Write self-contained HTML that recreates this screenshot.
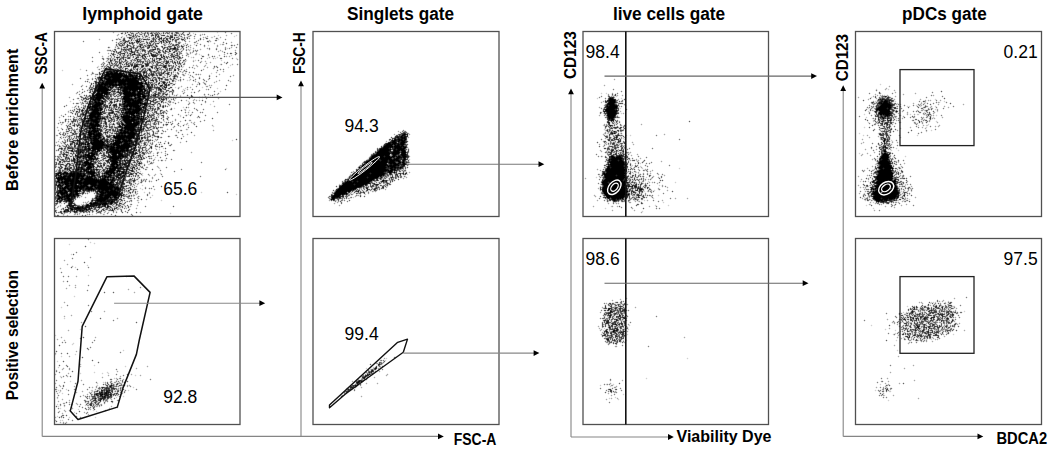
<!DOCTYPE html><html><head><meta charset="utf-8"><style>html,body{margin:0;padding:0;background:#fff;width:1050px;height:449px;overflow:hidden}text{font-family:"Liberation Sans",sans-serif}</style></head><body><svg width="1050" height="449" viewBox="0 0 1050 449" style="display:block">
<rect width="1050" height="449" fill="#fff"/>
<defs><filter id="sb" x="0" y="0" width="1050" height="449" filterUnits="userSpaceOnUse"><feConvolveMatrix order="3" kernelMatrix="0 1 0 1 6 1 0 1 0" divisor="10" edgeMode="none"/></filter></defs><g filter="url(#sb)" shape-rendering="crispEdges"><path d="M122 32h1v1h-1zM132 32h1v1h-1zM148 32h1v1h-1zM152 32h1v1h-1zM155 32h1v1h-1zM171 32h1v1h-1zM178 32h1v1h-1zM217 32h1v1h-1zM143 33h1v1h-1zM156 33h1v1h-1zM169 33h1v1h-1zM174 33h1v1h-1zM180 33h1v1h-1zM193 33h1v1h-1zM124 34h1v1h-1zM131 34h1v1h-1zM139 34h1v1h-1zM169 34h1v1h-1zM176 34h1v1h-1zM184 34h1v1h-1zM200 34h1v1h-1zM142 35h1v1h-1zM177 35h1v1h-1zM187 35h1v1h-1zM191 35h1v1h-1zM218 35h1v1h-1zM236 35h1v1h-1zM122 36h1v1h-1zM126 36h1v1h-1zM234 36h1v1h-1zM124 37h1v1h-1zM148 37h1v1h-1zM178 37h1v1h-1zM186 37h1v1h-1zM211 37h2v1h-2zM151 38h1v1h-1zM168 38h1v1h-1zM132 39h1v1h-1zM134 39h1v1h-1zM136 39h1v1h-1zM218 39h1v1h-1zM146 40h1v1h-1zM148 40h1v1h-1zM174 40h1v1h-1zM124 41h1v1h-1zM130 41h1v1h-1zM172 41h1v1h-1zM179 41h1v1h-1zM175 42h1v1h-1zM208 42h1v1h-1zM126 43h1v1h-1zM141 43h3v1h-3zM164 43h1v1h-1zM133 44h1v1h-1zM166 44h1v1h-1zM194 44h1v1h-1zM220 44h1v1h-1zM124 45h1v1h-1zM126 45h1v1h-1zM136 45h1v1h-1zM138 45h2v1h-2zM169 45h1v1h-1zM208 45h1v1h-1zM115 46h1v1h-1zM120 46h1v1h-1zM147 46h1v1h-1zM121 47h1v1h-1zM144 47h1v1h-1zM151 47h1v1h-1zM179 47h1v1h-1zM128 48h1v1h-1zM134 48h1v1h-1zM143 48h1v1h-1zM152 48h1v1h-1zM159 48h1v1h-1zM227 48h1v1h-1zM136 49h1v1h-1zM141 49h1v1h-1zM171 49h1v1h-1zM190 49h1v1h-1zM139 50h1v1h-1zM141 50h1v1h-1zM147 50h1v1h-1zM119 51h1v1h-1zM122 51h1v1h-1zM133 51h1v1h-1zM147 51h1v1h-1zM117 52h1v1h-1zM126 52h1v1h-1zM140 52h1v1h-1zM149 52h1v1h-1zM167 52h1v1h-1zM186 52h1v1h-1zM140 53h1v1h-1zM170 53h1v1h-1zM186 53h1v1h-1zM122 54h1v1h-1zM126 54h1v1h-1zM136 54h1v1h-1zM159 54h1v1h-1zM176 54h1v1h-1zM196 54h1v1h-1zM199 54h1v1h-1zM122 55h1v1h-1zM125 55h1v1h-1zM129 55h1v1h-1zM135 55h1v1h-1zM165 55h1v1h-1zM201 55h1v1h-1zM231 55h1v1h-1zM124 56h1v1h-1zM135 56h1v1h-1zM159 56h1v1h-1zM127 57h1v1h-1zM130 57h1v1h-1zM132 57h1v1h-1zM165 57h1v1h-1zM170 57h1v1h-1zM191 57h1v1h-1zM217 57h1v1h-1zM106 58h1v1h-1zM109 58h1v1h-1zM112 58h1v1h-1zM130 58h1v1h-1zM207 58h1v1h-1zM215 58h1v1h-1zM236 58h1v1h-1zM121 59h1v1h-1zM163 59h1v1h-1zM176 59h1v1h-1zM179 59h1v1h-1zM115 60h1v1h-1zM144 60h1v1h-1zM157 60h2v1h-2zM175 60h1v1h-1zM186 60h1v1h-1zM193 60h1v1h-1zM195 60h1v1h-1zM221 60h1v1h-1zM108 61h1v1h-1zM113 61h1v1h-1zM118 61h1v1h-1zM128 61h1v1h-1zM134 61h1v1h-1zM136 61h1v1h-1zM148 61h1v1h-1zM150 61h1v1h-1zM162 61h1v1h-1zM129 62h1v1h-1zM131 62h1v1h-1zM137 62h1v1h-1zM164 62h1v1h-1zM170 62h1v1h-1zM184 62h1v1h-1zM131 63h1v1h-1zM140 63h1v1h-1zM181 63h1v1h-1zM110 64h1v1h-1zM220 64h1v1h-1zM123 65h1v1h-1zM139 65h1v1h-1zM179 65h1v1h-1zM230 65h1v1h-1zM98 66h1v1h-1zM116 66h1v1h-1zM119 66h1v1h-1zM123 66h1v1h-1zM149 66h1v1h-1zM158 66h1v1h-1zM171 66h1v1h-1zM183 66h1v1h-1zM138 67h2v1h-2zM144 67h1v1h-1zM158 67h1v1h-1zM173 67h1v1h-1zM182 67h1v1h-1zM228 67h1v1h-1zM104 68h1v1h-1zM112 68h1v1h-1zM115 68h1v1h-1zM138 68h1v1h-1zM148 68h1v1h-1zM150 68h1v1h-1zM80 69h1v1h-1zM98 69h1v1h-1zM123 69h1v1h-1zM140 69h1v1h-1zM146 69h1v1h-1zM161 69h1v1h-1zM165 69h1v1h-1zM170 69h1v1h-1zM62 70h1v1h-1zM135 70h1v1h-1zM168 70h1v1h-1zM104 71h2v1h-2zM127 71h1v1h-1zM142 71h1v1h-1zM159 71h1v1h-1zM179 71h1v1h-1zM103 72h1v1h-1zM136 72h1v1h-1zM175 72h1v1h-1zM125 73h1v1h-1zM132 73h1v1h-1zM135 73h2v1h-2zM141 73h1v1h-1zM157 73h1v1h-1zM160 73h1v1h-1zM211 73h1v1h-1zM138 74h1v1h-1zM158 74h1v1h-1zM162 74h1v1h-1zM188 74h1v1h-1zM195 74h1v1h-1zM99 75h1v1h-1zM150 75h1v1h-1zM155 75h1v1h-1zM164 75h2v1h-2zM143 76h1v1h-1zM162 76h1v1h-1zM172 76h1v1h-1zM162 77h1v1h-1zM166 77h1v1h-1zM173 77h1v1h-1zM169 78h1v1h-1zM103 79h1v1h-1zM148 79h1v1h-1zM175 79h1v1h-1zM157 80h1v1h-1zM161 80h1v1h-1zM168 80h1v1h-1zM174 80h1v1h-1zM187 80h1v1h-1zM189 80h1v1h-1zM145 81h1v1h-1zM180 81h1v1h-1zM154 82h1v1h-1zM153 83h1v1h-1zM175 83h1v1h-1zM205 83h1v1h-1zM143 84h1v1h-1zM880 84h1v1h-1zM146 85h1v1h-1zM145 86h1v1h-1zM155 86h1v1h-1zM161 87h1v1h-1zM175 87h1v1h-1zM178 87h2v1h-2zM202 87h1v1h-1zM92 88h1v1h-1zM109 88h1v1h-1zM114 88h1v1h-1zM152 88h1v1h-1zM185 88h1v1h-1zM217 88h1v1h-1zM88 89h1v1h-1zM149 89h1v1h-1zM183 89h1v1h-1zM876 89h1v1h-1zM888 89h1v1h-1zM115 90h1v1h-1zM148 90h1v1h-1zM162 90h1v1h-1zM220 91h1v1h-1zM112 92h1v1h-1zM152 92h1v1h-1zM160 92h1v1h-1zM164 92h1v1h-1zM173 92h1v1h-1zM81 93h1v1h-1zM152 93h1v1h-1zM157 93h1v1h-1zM601 93h1v1h-1zM606 93h1v1h-1zM122 94h1v1h-1zM159 94h2v1h-2zM169 94h1v1h-1zM177 94h1v1h-1zM91 95h1v1h-1zM161 95h1v1h-1zM169 95h1v1h-1zM180 95h1v1h-1zM204 95h1v1h-1zM884 95h1v1h-1zM87 96h1v1h-1zM119 96h1v1h-1zM148 96h1v1h-1zM165 96h1v1h-1zM616 96h1v1h-1zM83 97h1v1h-1zM111 97h1v1h-1zM117 97h1v1h-1zM133 97h1v1h-1zM146 97h1v1h-1zM154 97h1v1h-1zM871 97h1v1h-1zM880 97h2v1h-2zM883 97h2v1h-2zM110 98h1v1h-1zM597 98h1v1h-1zM621 98h1v1h-1zM889 98h1v1h-1zM84 99h1v1h-1zM120 99h1v1h-1zM151 99h1v1h-1zM935 99h1v1h-1zM79 100h1v1h-1zM147 100h1v1h-1zM70 101h1v1h-1zM87 101h2v1h-2zM106 101h1v1h-1zM144 101h1v1h-1zM169 101h1v1h-1zM188 101h1v1h-1zM875 101h1v1h-1zM878 101h1v1h-1zM895 101h1v1h-1zM925 101h1v1h-1zM944 101h1v1h-1zM85 102h1v1h-1zM166 102h1v1h-1zM172 102h1v1h-1zM189 102h1v1h-1zM921 102h1v1h-1zM925 102h1v1h-1zM939 102h1v1h-1zM81 103h1v1h-1zM85 103h1v1h-1zM121 103h1v1h-1zM163 103h1v1h-1zM616 103h1v1h-1zM871 103h1v1h-1zM876 103h1v1h-1zM897 103h1v1h-1zM108 104h1v1h-1zM149 104h1v1h-1zM170 104h1v1h-1zM210 104h1v1h-1zM874 104h1v1h-1zM76 105h1v1h-1zM150 105h1v1h-1zM162 105h1v1h-1zM916 105h1v1h-1zM83 106h1v1h-1zM111 106h1v1h-1zM141 106h1v1h-1zM147 106h1v1h-1zM157 106h1v1h-1zM896 106h1v1h-1zM907 106h1v1h-1zM909 106h1v1h-1zM920 106h1v1h-1zM935 106h1v1h-1zM72 107h1v1h-1zM84 107h1v1h-1zM128 107h1v1h-1zM152 107h2v1h-2zM183 107h1v1h-1zM618 107h1v1h-1zM873 107h1v1h-1zM113 108h2v1h-2zM174 108h1v1h-1zM603 108h1v1h-1zM620 108h1v1h-1zM868 108h1v1h-1zM892 108h1v1h-1zM118 109h1v1h-1zM148 109h1v1h-1zM153 109h1v1h-1zM159 109h1v1h-1zM184 109h2v1h-2zM935 109h1v1h-1zM87 110h1v1h-1zM117 110h2v1h-2zM189 110h1v1h-1zM873 110h1v1h-1zM891 110h1v1h-1zM924 110h1v1h-1zM90 111h1v1h-1zM124 111h1v1h-1zM150 111h2v1h-2zM868 111h1v1h-1zM878 111h1v1h-1zM937 111h1v1h-1zM68 112h1v1h-1zM85 112h1v1h-1zM107 112h1v1h-1zM146 112h1v1h-1zM164 112h1v1h-1zM895 112h1v1h-1zM924 112h1v1h-1zM80 113h1v1h-1zM118 113h2v1h-2zM150 113h1v1h-1zM159 113h1v1h-1zM603 113h1v1h-1zM621 113h1v1h-1zM907 113h1v1h-1zM88 114h1v1h-1zM106 114h2v1h-2zM119 114h1v1h-1zM135 114h1v1h-1zM160 114h1v1h-1zM188 114h1v1h-1zM864 114h1v1h-1zM874 114h1v1h-1zM910 114h1v1h-1zM917 114h2v1h-2zM923 114h1v1h-1zM926 114h1v1h-1zM79 115h1v1h-1zM81 115h1v1h-1zM86 115h1v1h-1zM103 115h1v1h-1zM111 115h1v1h-1zM118 115h1v1h-1zM140 115h1v1h-1zM143 115h1v1h-1zM159 115h1v1h-1zM180 115h1v1h-1zM185 115h1v1h-1zM617 115h1v1h-1zM879 115h1v1h-1zM894 115h1v1h-1zM936 115h1v1h-1zM103 116h1v1h-1zM144 116h1v1h-1zM153 116h1v1h-1zM180 116h1v1h-1zM606 116h1v1h-1zM616 116h1v1h-1zM879 116h1v1h-1zM929 116h1v1h-1zM80 117h1v1h-1zM105 117h1v1h-1zM108 117h1v1h-1zM114 117h1v1h-1zM120 117h1v1h-1zM144 117h1v1h-1zM154 117h1v1h-1zM162 117h1v1h-1zM866 117h1v1h-1zM886 117h1v1h-1zM892 117h1v1h-1zM914 117h1v1h-1zM927 117h1v1h-1zM933 117h1v1h-1zM77 118h1v1h-1zM108 118h2v1h-2zM114 118h1v1h-1zM149 118h1v1h-1zM872 118h1v1h-1zM896 118h1v1h-1zM121 119h1v1h-1zM148 119h1v1h-1zM884 119h1v1h-1zM922 119h1v1h-1zM59 120h1v1h-1zM71 120h1v1h-1zM76 120h1v1h-1zM80 120h1v1h-1zM102 120h1v1h-1zM104 120h1v1h-1zM152 120h1v1h-1zM168 120h1v1h-1zM873 120h1v1h-1zM102 121h1v1h-1zM122 121h1v1h-1zM156 121h1v1h-1zM164 121h1v1h-1zM873 121h1v1h-1zM884 121h1v1h-1zM936 121h1v1h-1zM68 122h1v1h-1zM73 122h1v1h-1zM81 122h1v1h-1zM100 122h1v1h-1zM116 122h1v1h-1zM868 122h1v1h-1zM883 122h2v1h-2zM915 122h1v1h-1zM62 123h1v1h-1zM67 123h1v1h-1zM77 123h1v1h-1zM79 123h2v1h-2zM99 123h1v1h-1zM111 123h1v1h-1zM124 123h1v1h-1zM152 123h1v1h-1zM615 123h1v1h-1zM914 123h1v1h-1zM75 124h1v1h-1zM103 124h1v1h-1zM108 124h1v1h-1zM111 124h1v1h-1zM156 124h1v1h-1zM184 124h1v1h-1zM890 124h1v1h-1zM928 124h1v1h-1zM82 125h1v1h-1zM112 125h1v1h-1zM114 125h1v1h-1zM155 125h1v1h-1zM188 125h1v1h-1zM603 125h1v1h-1zM890 125h1v1h-1zM918 125h1v1h-1zM926 125h2v1h-2zM81 126h1v1h-1zM110 126h1v1h-1zM123 126h1v1h-1zM137 126h1v1h-1zM150 126h1v1h-1zM213 126h1v1h-1zM888 126h1v1h-1zM83 127h1v1h-1zM104 127h1v1h-1zM144 127h1v1h-1zM864 127h1v1h-1zM926 127h1v1h-1zM67 128h1v1h-1zM72 128h1v1h-1zM112 128h2v1h-2zM136 128h1v1h-1zM149 128h1v1h-1zM152 128h1v1h-1zM81 129h1v1h-1zM88 129h1v1h-1zM104 129h1v1h-1zM187 129h1v1h-1zM604 129h1v1h-1zM608 129h1v1h-1zM610 129h1v1h-1zM621 129h1v1h-1zM884 129h1v1h-1zM888 129h1v1h-1zM66 130h1v1h-1zM75 130h1v1h-1zM85 130h1v1h-1zM108 130h1v1h-1zM605 130h1v1h-1zM882 130h1v1h-1zM931 130h1v1h-1zM71 131h1v1h-1zM77 131h1v1h-1zM83 131h1v1h-1zM110 131h1v1h-1zM112 131h1v1h-1zM143 131h1v1h-1zM156 131h1v1h-1zM176 131h1v1h-1zM926 131h1v1h-1zM64 132h1v1h-1zM66 132h1v1h-1zM78 132h1v1h-1zM114 132h1v1h-1zM146 132h1v1h-1zM149 132h1v1h-1zM155 132h1v1h-1zM157 132h1v1h-1zM613 132h1v1h-1zM882 132h1v1h-1zM884 132h1v1h-1zM68 133h1v1h-1zM604 133h1v1h-1zM607 133h2v1h-2zM620 133h1v1h-1zM859 133h1v1h-1zM878 133h1v1h-1zM106 134h1v1h-1zM146 134h1v1h-1zM889 134h1v1h-1zM70 135h1v1h-1zM81 135h2v1h-2zM103 135h1v1h-1zM108 135h1v1h-1zM606 135h2v1h-2zM626 135h1v1h-1zM630 135h1v1h-1zM863 135h1v1h-1zM885 135h1v1h-1zM917 135h1v1h-1zM61 136h1v1h-1zM70 136h1v1h-1zM145 136h1v1h-1zM620 136h1v1h-1zM889 136h1v1h-1zM67 137h1v1h-1zM77 137h1v1h-1zM110 137h1v1h-1zM146 137h1v1h-1zM611 137h1v1h-1zM887 137h1v1h-1zM79 138h1v1h-1zM623 138h1v1h-1zM880 138h1v1h-1zM888 138h1v1h-1zM59 139h1v1h-1zM114 139h1v1h-1zM132 139h1v1h-1zM146 139h1v1h-1zM610 139h1v1h-1zM624 139h1v1h-1zM880 139h1v1h-1zM64 140h1v1h-1zM87 140h1v1h-1zM103 140h1v1h-1zM133 140h1v1h-1zM232 140h1v1h-1zM882 140h1v1h-1zM886 140h1v1h-1zM891 140h1v1h-1zM82 141h1v1h-1zM84 141h1v1h-1zM89 141h1v1h-1zM138 141h1v1h-1zM144 141h1v1h-1zM149 141h1v1h-1zM892 141h1v1h-1zM60 142h1v1h-1zM70 142h2v1h-2zM78 142h1v1h-1zM112 142h1v1h-1zM141 142h1v1h-1zM150 142h1v1h-1zM615 142h1v1h-1zM147 143h1v1h-1zM611 143h1v1h-1zM616 143h1v1h-1zM618 143h1v1h-1zM888 143h1v1h-1zM58 144h1v1h-1zM79 144h1v1h-1zM90 144h1v1h-1zM161 144h1v1h-1zM604 144h1v1h-1zM879 144h1v1h-1zM887 144h1v1h-1zM63 145h1v1h-1zM71 145h1v1h-1zM84 145h1v1h-1zM86 145h1v1h-1zM91 145h1v1h-1zM140 145h1v1h-1zM609 145h1v1h-1zM886 145h1v1h-1zM72 146h1v1h-1zM159 146h1v1h-1zM608 146h1v1h-1zM613 146h1v1h-1zM888 146h1v1h-1zM73 147h1v1h-1zM76 147h1v1h-1zM79 147h1v1h-1zM132 147h1v1h-1zM607 147h1v1h-1zM881 147h1v1h-1zM888 147h1v1h-1zM74 148h1v1h-1zM79 148h1v1h-1zM83 148h1v1h-1zM145 148h1v1h-1zM155 148h1v1h-1zM163 148h1v1h-1zM408 148h1v1h-1zM611 148h2v1h-2zM884 148h1v1h-1zM896 148h1v1h-1zM65 149h1v1h-1zM105 149h1v1h-1zM159 149h1v1h-1zM625 149h1v1h-1zM882 149h1v1h-1zM57 150h1v1h-1zM65 150h2v1h-2zM144 150h2v1h-2zM891 150h1v1h-1zM898 150h1v1h-1zM68 151h1v1h-1zM70 151h1v1h-1zM90 151h1v1h-1zM376 151h1v1h-1zM609 151h1v1h-1zM617 151h1v1h-1zM98 152h1v1h-1zM102 152h1v1h-1zM144 152h1v1h-1zM607 152h1v1h-1zM612 152h1v1h-1zM619 152h1v1h-1zM622 152h1v1h-1zM883 152h1v1h-1zM60 153h1v1h-1zM81 153h1v1h-1zM84 153h1v1h-1zM141 153h1v1h-1zM149 153h2v1h-2zM153 153h1v1h-1zM627 153h1v1h-1zM629 153h1v1h-1zM859 153h1v1h-1zM68 154h1v1h-1zM82 154h1v1h-1zM99 154h1v1h-1zM130 154h1v1h-1zM59 155h2v1h-2zM95 155h1v1h-1zM134 155h1v1h-1zM136 155h1v1h-1zM141 155h1v1h-1zM143 155h1v1h-1zM390 155h2v1h-2zM614 155h1v1h-1zM59 156h1v1h-1zM65 156h1v1h-1zM68 156h1v1h-1zM74 156h1v1h-1zM102 156h1v1h-1zM145 156h1v1h-1zM150 156h1v1h-1zM602 156h1v1h-1zM893 156h1v1h-1zM905 156h1v1h-1zM59 157h1v1h-1zM103 157h1v1h-1zM128 157h1v1h-1zM155 157h1v1h-1zM879 157h1v1h-1zM71 158h1v1h-1zM106 158h1v1h-1zM129 158h1v1h-1zM150 158h1v1h-1zM608 158h1v1h-1zM877 158h1v1h-1zM889 158h1v1h-1zM66 159h1v1h-1zM80 159h1v1h-1zM82 159h1v1h-1zM84 159h1v1h-1zM367 159h1v1h-1zM409 159h1v1h-1zM893 159h1v1h-1zM70 160h1v1h-1zM95 160h1v1h-1zM140 160h1v1h-1zM147 160h1v1h-1zM628 160h1v1h-1zM636 160h1v1h-1zM83 161h1v1h-1zM89 161h1v1h-1zM102 161h1v1h-1zM123 161h1v1h-1zM136 161h1v1h-1zM407 161h1v1h-1zM607 161h1v1h-1zM876 161h1v1h-1zM896 161h1v1h-1zM103 162h1v1h-1zM132 162h1v1h-1zM898 162h1v1h-1zM60 163h1v1h-1zM65 163h1v1h-1zM73 163h1v1h-1zM81 163h1v1h-1zM118 163h1v1h-1zM142 163h1v1h-1zM640 163h1v1h-1zM876 163h1v1h-1zM106 164h1v1h-1zM128 164h1v1h-1zM141 164h1v1h-1zM148 164h2v1h-2zM875 164h2v1h-2zM892 164h1v1h-1zM63 165h1v1h-1zM67 165h1v1h-1zM77 165h1v1h-1zM106 165h1v1h-1zM130 165h1v1h-1zM632 165h1v1h-1zM878 165h1v1h-1zM58 166h1v1h-1zM132 166h1v1h-1zM360 166h1v1h-1zM405 166h1v1h-1zM631 166h1v1h-1zM640 166h1v1h-1zM66 167h1v1h-1zM68 167h1v1h-1zM100 167h1v1h-1zM108 167h1v1h-1zM129 167h1v1h-1zM139 167h1v1h-1zM605 167h1v1h-1zM92 168h1v1h-1zM139 168h1v1h-1zM159 168h1v1h-1zM226 168h1v1h-1zM358 168h1v1h-1zM627 168h1v1h-1zM642 168h1v1h-1zM679 168h1v1h-1zM62 169h1v1h-1zM71 169h1v1h-1zM101 169h1v1h-1zM401 169h1v1h-1zM405 169h1v1h-1zM878 169h1v1h-1zM64 170h3v1h-3zM125 170h1v1h-1zM401 170h1v1h-1zM876 170h1v1h-1zM899 170h1v1h-1zM63 171h1v1h-1zM97 171h1v1h-1zM115 171h1v1h-1zM140 171h1v1h-1zM397 171h1v1h-1zM404 171h2v1h-2zM629 171h1v1h-1zM127 172h1v1h-1zM352 172h1v1h-1zM635 172h2v1h-2zM901 172h1v1h-1zM142 173h1v1h-1zM160 173h1v1h-1zM395 173h1v1h-1zM633 173h1v1h-1zM638 173h1v1h-1zM86 174h1v1h-1zM95 174h1v1h-1zM103 174h1v1h-1zM112 174h1v1h-1zM350 174h1v1h-1zM388 174h1v1h-1zM407 174h1v1h-1zM639 174h1v1h-1zM62 175h1v1h-1zM125 175h1v1h-1zM142 175h1v1h-1zM386 175h1v1h-1zM399 175h1v1h-1zM902 175h1v1h-1zM57 176h1v1h-1zM96 176h1v1h-1zM137 176h1v1h-1zM384 176h1v1h-1zM387 176h1v1h-1zM390 176h1v1h-1zM396 176h1v1h-1zM405 176h1v1h-1zM601 176h1v1h-1zM97 177h1v1h-1zM137 177h1v1h-1zM348 177h1v1h-1zM379 177h1v1h-1zM387 177h1v1h-1zM394 177h1v1h-1zM596 177h1v1h-1zM643 177h1v1h-1zM646 177h1v1h-1zM893 177h1v1h-1zM109 178h1v1h-1zM347 178h1v1h-1zM382 178h2v1h-2zM388 178h1v1h-1zM628 178h1v1h-1zM143 179h1v1h-1zM629 179h1v1h-1zM640 179h1v1h-1zM893 179h1v1h-1zM56 180h1v1h-1zM116 180h1v1h-1zM127 180h1v1h-1zM131 180h1v1h-1zM149 180h1v1h-1zM346 180h1v1h-1zM388 180h2v1h-2zM391 180h1v1h-1zM645 180h1v1h-1zM109 181h1v1h-1zM125 181h1v1h-1zM128 181h1v1h-1zM130 181h1v1h-1zM138 181h1v1h-1zM372 181h1v1h-1zM630 181h1v1h-1zM648 181h1v1h-1zM860 181h1v1h-1zM868 181h1v1h-1zM134 182h1v1h-1zM378 182h1v1h-1zM636 182h1v1h-1zM675 182h1v1h-1zM57 183h1v1h-1zM384 183h1v1h-1zM639 183h1v1h-1zM643 183h1v1h-1zM339 184h1v1h-1zM341 184h1v1h-1zM386 184h1v1h-1zM600 184h1v1h-1zM905 184h1v1h-1zM64 185h1v1h-1zM89 185h1v1h-1zM123 185h1v1h-1zM125 185h1v1h-1zM131 185h1v1h-1zM142 185h1v1h-1zM659 185h1v1h-1zM869 185h1v1h-1zM897 185h1v1h-1zM902 185h1v1h-1zM905 185h1v1h-1zM63 186h1v1h-1zM119 186h1v1h-1zM374 186h2v1h-2zM387 186h1v1h-1zM639 186h1v1h-1zM646 186h1v1h-1zM868 186h1v1h-1zM900 186h2v1h-2zM56 187h1v1h-1zM128 187h1v1h-1zM364 187h1v1h-1zM372 187h1v1h-1zM642 187h1v1h-1zM874 187h1v1h-1zM898 187h1v1h-1zM140 188h1v1h-1zM360 188h2v1h-2zM364 188h1v1h-1zM634 188h1v1h-1zM645 188h1v1h-1zM865 188h1v1h-1zM899 188h1v1h-1zM132 189h1v1h-1zM142 189h1v1h-1zM658 189h1v1h-1zM56 190h1v1h-1zM628 190h1v1h-1zM654 190h1v1h-1zM872 190h1v1h-1zM55 191h1v1h-1zM82 191h1v1h-1zM92 191h1v1h-1zM125 191h1v1h-1zM127 191h1v1h-1zM129 191h1v1h-1zM334 191h1v1h-1zM365 191h1v1h-1zM368 191h1v1h-1zM373 191h1v1h-1zM644 191h1v1h-1zM647 191h1v1h-1zM651 191h1v1h-1zM901 191h1v1h-1zM911 191h1v1h-1zM81 192h1v1h-1zM87 192h1v1h-1zM127 192h1v1h-1zM144 192h1v1h-1zM201 192h1v1h-1zM628 192h1v1h-1zM636 192h1v1h-1zM641 192h1v1h-1zM881 192h1v1h-1zM900 192h1v1h-1zM332 193h1v1h-1zM353 193h1v1h-1zM358 193h1v1h-1zM637 193h1v1h-1zM864 193h1v1h-1zM59 194h1v1h-1zM79 194h1v1h-1zM127 194h1v1h-1zM133 194h1v1h-1zM236 194h1v1h-1zM348 194h1v1h-1zM360 194h1v1h-1zM365 194h1v1h-1zM602 194h2v1h-2zM863 194h1v1h-1zM901 194h1v1h-1zM905 194h1v1h-1zM909 194h1v1h-1zM124 195h1v1h-1zM128 195h1v1h-1zM152 195h1v1h-1zM357 195h1v1h-1zM633 195h1v1h-1zM658 195h1v1h-1zM869 195h1v1h-1zM900 195h1v1h-1zM125 196h1v1h-1zM133 196h1v1h-1zM139 196h1v1h-1zM633 196h1v1h-1zM635 196h2v1h-2zM868 196h1v1h-1zM870 196h1v1h-1zM353 197h1v1h-1zM864 197h1v1h-1zM905 197h1v1h-1zM93 198h1v1h-1zM113 198h1v1h-1zM330 198h1v1h-1zM349 198h1v1h-1zM606 198h1v1h-1zM624 198h1v1h-1zM630 198h1v1h-1zM636 198h1v1h-1zM653 198h1v1h-1zM865 198h1v1h-1zM606 199h1v1h-1zM629 199h1v1h-1zM634 199h1v1h-1zM870 199h1v1h-1zM895 199h1v1h-1zM905 199h1v1h-1zM909 199h1v1h-1zM74 200h1v1h-1zM138 200h1v1h-1zM161 200h1v1h-1zM335 200h2v1h-2zM608 200h1v1h-1zM634 200h1v1h-1zM644 200h1v1h-1zM865 200h1v1h-1zM872 200h1v1h-1zM897 200h2v1h-2zM903 200h1v1h-1zM122 201h1v1h-1zM126 201h1v1h-1zM608 201h1v1h-1zM617 201h1v1h-1zM638 201h1v1h-1zM893 201h1v1h-1zM74 202h1v1h-1zM122 202h1v1h-1zM615 202h1v1h-1zM663 202h1v1h-1zM873 202h1v1h-1zM59 203h1v1h-1zM61 203h1v1h-1zM55 204h1v1h-1zM81 204h1v1h-1zM85 204h1v1h-1zM114 204h1v1h-1zM118 204h1v1h-1zM121 204h1v1h-1zM870 204h1v1h-1zM101 205h1v1h-1zM115 205h1v1h-1zM655 205h1v1h-1zM668 205h1v1h-1zM866 205h1v1h-1zM60 206h1v1h-1zM114 206h1v1h-1zM611 206h1v1h-1zM125 207h1v1h-1zM87 208h1v1h-1zM108 208h1v1h-1zM111 208h1v1h-1zM119 208h1v1h-1zM605 208h1v1h-1zM873 208h1v1h-1zM69 209h1v1h-1zM118 209h1v1h-1zM77 210h1v1h-1zM115 210h1v1h-1zM71 211h1v1h-1zM78 211h1v1h-1zM116 211h1v1h-1zM642 211h1v1h-1zM63 212h1v1h-1zM81 212h1v1h-1zM69 213h1v1h-1zM77 213h1v1h-1zM101 213h1v1h-1zM170 213h1v1h-1zM75 214h1v1h-1zM79 214h1v1h-1zM92 214h1v1h-1zM104 214h1v1h-1zM63 215h1v1h-1zM90 242h1v1h-1zM94 243h1v1h-1zM69 244h1v1h-1zM71 254h1v1h-1zM87 265h1v1h-1zM75 267h1v1h-1zM88 275h1v1h-1zM74 296h1v1h-1zM948 301h1v1h-1zM931 302h1v1h-1zM933 302h1v1h-1zM935 302h1v1h-1zM945 302h1v1h-1zM620 303h1v1h-1zM930 303h1v1h-1zM613 304h1v1h-1zM620 304h1v1h-1zM947 304h1v1h-1zM927 305h1v1h-1zM935 305h1v1h-1zM941 305h1v1h-1zM614 306h2v1h-2zM907 306h1v1h-1zM923 306h1v1h-1zM941 306h1v1h-1zM952 306h3v1h-3zM61 307h1v1h-1zM614 307h1v1h-1zM612 308h1v1h-1zM940 308h1v1h-1zM616 309h1v1h-1zM919 309h2v1h-2zM924 309h2v1h-2zM932 309h1v1h-1zM941 309h1v1h-1zM943 309h1v1h-1zM612 310h1v1h-1zM927 310h1v1h-1zM940 310h1v1h-1zM947 310h1v1h-1zM619 311h1v1h-1zM919 311h1v1h-1zM924 311h1v1h-1zM933 311h1v1h-1zM938 311h1v1h-1zM945 311h1v1h-1zM964 311h1v1h-1zM614 312h1v1h-1zM619 312h1v1h-1zM623 312h1v1h-1zM625 312h1v1h-1zM903 312h1v1h-1zM906 312h1v1h-1zM908 312h1v1h-1zM920 312h2v1h-2zM940 312h1v1h-1zM944 312h1v1h-1zM953 312h1v1h-1zM617 313h1v1h-1zM623 313h1v1h-1zM917 313h1v1h-1zM924 313h1v1h-1zM928 313h1v1h-1zM935 313h1v1h-1zM612 314h2v1h-2zM616 314h1v1h-1zM915 314h1v1h-1zM934 314h1v1h-1zM937 314h1v1h-1zM946 314h1v1h-1zM613 315h1v1h-1zM908 315h1v1h-1zM949 315h1v1h-1zM607 316h1v1h-1zM917 316h1v1h-1zM926 316h1v1h-1zM614 317h1v1h-1zM915 317h1v1h-1zM64 318h1v1h-1zM608 318h1v1h-1zM615 318h1v1h-1zM617 318h1v1h-1zM906 318h1v1h-1zM606 319h1v1h-1zM623 319h1v1h-1zM945 319h1v1h-1zM953 319h1v1h-1zM610 320h1v1h-1zM621 320h2v1h-2zM624 320h1v1h-1zM913 320h1v1h-1zM919 320h1v1h-1zM922 320h1v1h-1zM926 320h1v1h-1zM618 321h1v1h-1zM924 321h1v1h-1zM928 321h1v1h-1zM933 321h1v1h-1zM936 321h1v1h-1zM944 321h1v1h-1zM616 322h1v1h-1zM623 322h1v1h-1zM901 322h1v1h-1zM908 322h4v1h-4zM931 322h1v1h-1zM609 323h1v1h-1zM604 324h1v1h-1zM610 324h1v1h-1zM913 324h1v1h-1zM921 324h1v1h-1zM935 324h1v1h-1zM944 324h1v1h-1zM946 324h2v1h-2zM629 325h1v1h-1zM871 325h1v1h-1zM899 325h1v1h-1zM925 325h1v1h-1zM953 325h1v1h-1zM608 326h1v1h-1zM619 326h1v1h-1zM625 326h1v1h-1zM907 326h1v1h-1zM614 327h1v1h-1zM930 327h1v1h-1zM954 327h1v1h-1zM604 328h1v1h-1zM613 328h1v1h-1zM624 328h2v1h-2zM941 328h1v1h-1zM950 328h1v1h-1zM80 329h1v1h-1zM620 329h1v1h-1zM628 329h1v1h-1zM885 329h1v1h-1zM903 329h1v1h-1zM906 329h1v1h-1zM921 329h1v1h-1zM925 329h1v1h-1zM935 329h1v1h-1zM937 329h1v1h-1zM942 329h1v1h-1zM944 329h1v1h-1zM947 329h1v1h-1zM603 330h1v1h-1zM622 330h1v1h-1zM895 330h1v1h-1zM909 330h1v1h-1zM929 330h1v1h-1zM935 330h3v1h-3zM941 330h1v1h-1zM609 331h2v1h-2zM940 331h1v1h-1zM617 332h1v1h-1zM911 332h1v1h-1zM926 332h1v1h-1zM946 332h1v1h-1zM624 333h1v1h-1zM895 333h1v1h-1zM900 333h1v1h-1zM908 333h1v1h-1zM914 333h1v1h-1zM921 333h1v1h-1zM627 334h1v1h-1zM893 334h1v1h-1zM909 334h1v1h-1zM916 334h1v1h-1zM953 334h1v1h-1zM55 335h1v1h-1zM617 335h1v1h-1zM610 336h1v1h-1zM605 337h1v1h-1zM607 337h1v1h-1zM903 337h1v1h-1zM609 338h1v1h-1zM611 338h1v1h-1zM620 338h1v1h-1zM911 338h1v1h-1zM918 338h1v1h-1zM925 338h1v1h-1zM926 339h1v1h-1zM931 339h1v1h-1zM623 340h1v1h-1zM626 340h1v1h-1zM896 340h1v1h-1zM918 340h1v1h-1zM621 341h1v1h-1zM620 342h1v1h-1zM73 343h1v1h-1zM608 343h1v1h-1zM72 344h1v1h-1zM123 350h1v1h-1zM897 350h1v1h-1zM55 354h1v1h-1zM75 354h1v1h-1zM61 356h1v1h-1zM386 358h1v1h-1zM687 358h1v1h-1zM385 360h1v1h-1zM57 361h1v1h-1zM380 363h1v1h-1zM94 365h1v1h-1zM125 366h1v1h-1zM380 366h1v1h-1zM58 367h1v1h-1zM373 367h1v1h-1zM366 368h1v1h-1zM373 368h1v1h-1zM370 369h1v1h-1zM373 369h1v1h-1zM94 372h1v1h-1zM107 372h1v1h-1zM80 373h1v1h-1zM102 373h1v1h-1zM108 373h1v1h-1zM368 373h1v1h-1zM370 373h1v1h-1zM135 375h1v1h-1zM60 376h1v1h-1zM361 376h1v1h-1zM359 377h1v1h-1zM114 378h1v1h-1zM361 378h1v1h-1zM646 378h1v1h-1zM358 379h1v1h-1zM116 380h1v1h-1zM357 380h1v1h-1zM70 381h1v1h-1zM110 381h1v1h-1zM103 382h1v1h-1zM97 383h1v1h-1zM105 383h1v1h-1zM119 383h1v1h-1zM121 383h1v1h-1zM114 384h1v1h-1zM356 384h1v1h-1zM606 384h1v1h-1zM613 384h1v1h-1zM880 384h1v1h-1zM97 385h1v1h-1zM114 385h1v1h-1zM600 385h1v1h-1zM112 386h1v1h-1zM117 386h1v1h-1zM123 386h1v1h-1zM610 386h1v1h-1zM121 387h1v1h-1zM133 387h1v1h-1zM121 388h1v1h-1zM346 388h1v1h-1zM66 389h1v1h-1zM110 389h1v1h-1zM117 389h2v1h-2zM352 389h1v1h-1zM58 390h1v1h-1zM91 390h2v1h-2zM115 390h1v1h-1zM128 390h1v1h-1zM346 390h1v1h-1zM875 390h1v1h-1zM883 390h1v1h-1zM60 391h1v1h-1zM92 391h1v1h-1zM100 391h1v1h-1zM103 391h1v1h-1zM114 391h1v1h-1zM889 391h2v1h-2zM59 392h1v1h-1zM615 392h1v1h-1zM62 393h1v1h-1zM344 394h1v1h-1zM623 394h1v1h-1zM95 395h1v1h-1zM103 395h1v1h-1zM884 395h1v1h-1zM112 396h1v1h-1zM123 396h1v1h-1zM89 397h1v1h-1zM99 397h1v1h-1zM116 397h1v1h-1zM615 397h1v1h-1zM57 398h1v1h-1zM609 398h1v1h-1zM90 399h1v1h-1zM97 399h1v1h-1zM105 399h1v1h-1zM618 399h1v1h-1zM107 400h1v1h-1zM888 400h1v1h-1zM103 401h1v1h-1zM93 403h1v1h-1zM57 404h1v1h-1zM72 404h1v1h-1zM94 404h1v1h-1zM100 404h1v1h-1zM85 405h1v1h-1zM58 406h1v1h-1zM64 406h1v1h-1zM97 406h1v1h-1zM60 408h1v1h-1zM78 409h1v1h-1zM93 410h1v1h-1zM96 411h1v1h-1zM74 412h1v1h-1zM57 416h1v1h-1zM69 417h1v1h-1zM95 417h1v1h-1zM60 420h1v1h-1zM62 420h1v1h-1z" fill="#b3b3b3"/><path d="M113 32h1v1h-1zM125 32h1v1h-1zM153 32h1v1h-1zM167 32h1v1h-1zM172 32h1v1h-1zM189 32h1v1h-1zM133 33h1v1h-1zM137 33h1v1h-1zM139 33h1v1h-1zM142 33h1v1h-1zM145 33h1v1h-1zM148 33h1v1h-1zM152 33h1v1h-1zM155 33h1v1h-1zM161 33h1v1h-1zM177 33h1v1h-1zM118 34h1v1h-1zM133 34h1v1h-1zM158 34h1v1h-1zM160 34h1v1h-1zM172 34h1v1h-1zM174 34h1v1h-1zM179 34h1v1h-1zM202 34h1v1h-1zM117 35h1v1h-1zM129 35h1v1h-1zM131 35h1v1h-1zM146 35h1v1h-1zM148 35h1v1h-1zM167 35h1v1h-1zM171 35h2v1h-2zM226 35h1v1h-1zM134 36h1v1h-1zM145 36h1v1h-1zM147 36h1v1h-1zM151 36h1v1h-1zM159 36h1v1h-1zM166 36h1v1h-1zM178 36h1v1h-1zM180 36h1v1h-1zM188 36h2v1h-2zM207 36h1v1h-1zM214 36h1v1h-1zM127 37h2v1h-2zM133 37h1v1h-1zM135 37h2v1h-2zM143 37h1v1h-1zM145 37h1v1h-1zM157 37h1v1h-1zM159 37h1v1h-1zM169 37h1v1h-1zM182 37h1v1h-1zM203 37h1v1h-1zM205 37h1v1h-1zM220 37h1v1h-1zM118 38h1v1h-1zM123 38h1v1h-1zM137 38h1v1h-1zM140 38h1v1h-1zM142 38h1v1h-1zM147 38h1v1h-1zM152 38h1v1h-1zM154 38h1v1h-1zM178 38h1v1h-1zM181 38h1v1h-1zM194 38h1v1h-1zM217 38h1v1h-1zM99 39h1v1h-1zM117 39h1v1h-1zM120 39h1v1h-1zM138 39h1v1h-1zM152 39h1v1h-1zM154 39h1v1h-1zM175 39h2v1h-2zM185 39h1v1h-1zM203 39h1v1h-1zM122 40h1v1h-1zM125 40h1v1h-1zM129 40h1v1h-1zM133 40h1v1h-1zM140 40h1v1h-1zM164 40h1v1h-1zM168 40h1v1h-1zM182 40h1v1h-1zM209 40h1v1h-1zM121 41h1v1h-1zM123 41h1v1h-1zM142 41h1v1h-1zM146 41h1v1h-1zM158 41h1v1h-1zM165 41h1v1h-1zM176 41h1v1h-1zM189 41h1v1h-1zM210 41h1v1h-1zM119 42h1v1h-1zM122 42h1v1h-1zM127 42h1v1h-1zM137 42h1v1h-1zM164 42h1v1h-1zM179 42h2v1h-2zM195 42h1v1h-1zM231 42h1v1h-1zM131 43h1v1h-1zM139 43h1v1h-1zM156 43h1v1h-1zM165 43h1v1h-1zM178 43h1v1h-1zM185 43h1v1h-1zM197 43h1v1h-1zM214 43h1v1h-1zM118 44h1v1h-1zM146 44h1v1h-1zM148 44h1v1h-1zM153 44h1v1h-1zM163 44h2v1h-2zM168 44h1v1h-1zM172 44h1v1h-1zM175 44h1v1h-1zM178 44h1v1h-1zM183 44h1v1h-1zM222 44h2v1h-2zM121 45h1v1h-1zM130 45h1v1h-1zM134 45h1v1h-1zM141 45h2v1h-2zM145 45h1v1h-1zM152 45h1v1h-1zM155 45h1v1h-1zM165 45h1v1h-1zM174 45h1v1h-1zM184 45h1v1h-1zM190 45h1v1h-1zM217 45h1v1h-1zM232 45h1v1h-1zM131 46h1v1h-1zM138 46h1v1h-1zM146 46h1v1h-1zM148 46h1v1h-1zM151 46h1v1h-1zM154 46h1v1h-1zM204 46h1v1h-1zM217 46h1v1h-1zM109 47h1v1h-1zM115 47h1v1h-1zM118 47h1v1h-1zM131 47h1v1h-1zM134 47h1v1h-1zM136 47h1v1h-1zM141 47h1v1h-1zM166 47h1v1h-1zM169 47h2v1h-2zM177 47h1v1h-1zM190 47h1v1h-1zM225 47h1v1h-1zM231 47h1v1h-1zM117 48h1v1h-1zM119 48h1v1h-1zM124 48h1v1h-1zM126 48h1v1h-1zM139 48h1v1h-1zM168 48h1v1h-1zM176 48h1v1h-1zM181 48h1v1h-1zM193 48h1v1h-1zM207 48h1v1h-1zM216 48h1v1h-1zM225 48h1v1h-1zM122 49h1v1h-1zM126 49h1v1h-1zM129 49h2v1h-2zM138 49h1v1h-1zM144 49h1v1h-1zM150 49h2v1h-2zM158 49h1v1h-1zM166 49h1v1h-1zM168 49h1v1h-1zM172 49h1v1h-1zM176 49h1v1h-1zM180 49h1v1h-1zM186 49h1v1h-1zM188 49h1v1h-1zM200 49h1v1h-1zM209 49h1v1h-1zM107 50h3v1h-3zM112 50h1v1h-1zM121 50h1v1h-1zM126 50h1v1h-1zM129 50h1v1h-1zM151 50h2v1h-2zM157 50h1v1h-1zM159 50h1v1h-1zM175 50h1v1h-1zM177 50h1v1h-1zM182 50h1v1h-1zM189 50h1v1h-1zM193 50h1v1h-1zM220 50h1v1h-1zM235 50h1v1h-1zM111 51h1v1h-1zM121 51h1v1h-1zM126 51h1v1h-1zM129 51h1v1h-1zM135 51h1v1h-1zM140 51h1v1h-1zM145 51h1v1h-1zM150 51h1v1h-1zM154 51h1v1h-1zM162 51h1v1h-1zM167 51h1v1h-1zM175 51h1v1h-1zM178 51h2v1h-2zM218 51h1v1h-1zM222 51h1v1h-1zM114 52h1v1h-1zM136 52h1v1h-1zM138 52h1v1h-1zM150 52h1v1h-1zM154 52h3v1h-3zM164 52h2v1h-2zM177 52h1v1h-1zM179 52h2v1h-2zM190 52h1v1h-1zM192 52h1v1h-1zM108 53h1v1h-1zM117 53h1v1h-1zM120 53h1v1h-1zM131 53h1v1h-1zM138 53h2v1h-2zM144 53h1v1h-1zM147 53h1v1h-1zM159 53h1v1h-1zM164 53h1v1h-1zM169 53h1v1h-1zM171 53h2v1h-2zM179 53h2v1h-2zM187 53h1v1h-1zM190 53h1v1h-1zM196 53h1v1h-1zM114 54h2v1h-2zM128 54h1v1h-1zM137 54h2v1h-2zM142 54h2v1h-2zM148 54h1v1h-1zM154 54h1v1h-1zM157 54h1v1h-1zM160 54h1v1h-1zM163 54h1v1h-1zM187 54h2v1h-2zM195 54h1v1h-1zM224 54h1v1h-1zM124 55h1v1h-1zM130 55h2v1h-2zM136 55h1v1h-1zM138 55h1v1h-1zM171 55h3v1h-3zM178 55h1v1h-1zM208 55h1v1h-1zM219 55h1v1h-1zM102 56h1v1h-1zM108 56h1v1h-1zM111 56h1v1h-1zM119 56h1v1h-1zM121 56h1v1h-1zM130 56h1v1h-1zM137 56h2v1h-2zM177 56h2v1h-2zM188 56h1v1h-1zM226 56h1v1h-1zM229 56h1v1h-1zM111 57h1v1h-1zM114 57h1v1h-1zM121 57h1v1h-1zM124 57h1v1h-1zM126 57h1v1h-1zM140 57h1v1h-1zM143 57h1v1h-1zM153 57h1v1h-1zM156 57h1v1h-1zM177 57h1v1h-1zM193 57h1v1h-1zM209 57h1v1h-1zM103 58h1v1h-1zM108 58h1v1h-1zM113 58h1v1h-1zM121 58h2v1h-2zM142 58h1v1h-1zM154 58h1v1h-1zM173 58h1v1h-1zM178 58h1v1h-1zM180 58h2v1h-2zM213 58h1v1h-1zM112 59h1v1h-1zM136 59h1v1h-1zM139 59h3v1h-3zM145 59h1v1h-1zM164 59h1v1h-1zM169 59h1v1h-1zM237 59h1v1h-1zM107 60h1v1h-1zM112 60h1v1h-1zM121 60h1v1h-1zM130 60h1v1h-1zM133 60h2v1h-2zM139 60h1v1h-1zM145 60h1v1h-1zM147 60h1v1h-1zM152 60h1v1h-1zM168 60h1v1h-1zM176 60h1v1h-1zM106 61h1v1h-1zM111 61h1v1h-1zM117 61h1v1h-1zM121 61h1v1h-1zM125 61h1v1h-1zM140 61h1v1h-1zM142 61h1v1h-1zM146 61h2v1h-2zM149 61h1v1h-1zM151 61h1v1h-1zM161 61h1v1h-1zM163 61h3v1h-3zM171 61h1v1h-1zM183 61h1v1h-1zM185 61h1v1h-1zM193 61h1v1h-1zM201 61h1v1h-1zM205 61h1v1h-1zM121 62h1v1h-1zM127 62h1v1h-1zM138 62h1v1h-1zM152 62h2v1h-2zM210 62h1v1h-1zM224 62h1v1h-1zM102 63h1v1h-1zM121 63h1v1h-1zM125 63h1v1h-1zM129 63h2v1h-2zM134 63h2v1h-2zM137 63h1v1h-1zM144 63h1v1h-1zM146 63h1v1h-1zM149 63h1v1h-1zM151 63h1v1h-1zM156 63h3v1h-3zM177 63h2v1h-2zM206 63h1v1h-1zM112 64h2v1h-2zM116 64h1v1h-1zM120 64h1v1h-1zM128 64h1v1h-1zM135 64h1v1h-1zM152 64h1v1h-1zM160 64h1v1h-1zM166 64h1v1h-1zM168 64h1v1h-1zM178 64h1v1h-1zM184 64h1v1h-1zM232 64h1v1h-1zM103 65h1v1h-1zM112 65h1v1h-1zM115 65h1v1h-1zM118 65h1v1h-1zM126 65h1v1h-1zM141 65h1v1h-1zM145 65h1v1h-1zM152 65h5v1h-5zM158 65h1v1h-1zM162 65h2v1h-2zM170 65h1v1h-1zM193 65h1v1h-1zM196 65h1v1h-1zM205 65h1v1h-1zM101 66h1v1h-1zM104 66h2v1h-2zM113 66h2v1h-2zM126 66h1v1h-1zM145 66h1v1h-1zM147 66h1v1h-1zM162 66h1v1h-1zM166 66h1v1h-1zM168 66h1v1h-1zM172 66h1v1h-1zM175 66h1v1h-1zM197 66h1v1h-1zM204 66h1v1h-1zM97 67h1v1h-1zM104 67h1v1h-1zM119 67h1v1h-1zM154 67h2v1h-2zM171 67h1v1h-1zM207 67h1v1h-1zM214 67h1v1h-1zM101 68h1v1h-1zM103 68h1v1h-1zM114 68h1v1h-1zM120 68h1v1h-1zM131 68h1v1h-1zM135 68h1v1h-1zM143 68h1v1h-1zM145 68h1v1h-1zM147 68h1v1h-1zM171 68h1v1h-1zM174 68h1v1h-1zM194 68h1v1h-1zM213 68h1v1h-1zM112 69h1v1h-1zM121 69h1v1h-1zM128 69h1v1h-1zM133 69h1v1h-1zM139 69h1v1h-1zM155 69h1v1h-1zM159 69h2v1h-2zM163 69h1v1h-1zM171 69h1v1h-1zM179 69h1v1h-1zM186 69h1v1h-1zM203 69h1v1h-1zM102 70h3v1h-3zM106 70h3v1h-3zM112 70h1v1h-1zM144 70h1v1h-1zM151 70h1v1h-1zM158 70h1v1h-1zM164 70h1v1h-1zM167 70h1v1h-1zM170 70h2v1h-2zM121 71h1v1h-1zM125 71h1v1h-1zM132 71h1v1h-1zM135 71h1v1h-1zM137 71h1v1h-1zM145 71h1v1h-1zM152 71h1v1h-1zM155 71h1v1h-1zM158 71h1v1h-1zM161 71h1v1h-1zM167 71h1v1h-1zM173 71h1v1h-1zM183 71h1v1h-1zM185 71h1v1h-1zM223 71h1v1h-1zM92 72h1v1h-1zM139 72h1v1h-1zM142 72h1v1h-1zM150 72h1v1h-1zM153 72h1v1h-1zM155 72h1v1h-1zM157 72h4v1h-4zM167 72h1v1h-1zM173 72h1v1h-1zM182 72h1v1h-1zM216 72h1v1h-1zM93 73h1v1h-1zM100 73h3v1h-3zM127 73h1v1h-1zM138 73h1v1h-1zM140 73h1v1h-1zM147 73h1v1h-1zM152 73h1v1h-1zM155 73h1v1h-1zM165 73h1v1h-1zM177 73h1v1h-1zM185 73h1v1h-1zM91 74h1v1h-1zM95 74h2v1h-2zM133 74h1v1h-1zM135 74h1v1h-1zM154 74h1v1h-1zM164 74h1v1h-1zM169 74h1v1h-1zM171 74h1v1h-1zM173 74h1v1h-1zM178 74h1v1h-1zM182 74h2v1h-2zM200 74h1v1h-1zM219 74h1v1h-1zM154 75h1v1h-1zM167 75h1v1h-1zM175 75h1v1h-1zM183 75h2v1h-2zM209 75h1v1h-1zM233 75h1v1h-1zM95 76h1v1h-1zM142 76h1v1h-1zM149 76h1v1h-1zM157 76h1v1h-1zM163 76h1v1h-1zM167 76h1v1h-1zM176 76h1v1h-1zM122 77h1v1h-1zM145 77h1v1h-1zM151 77h1v1h-1zM157 77h1v1h-1zM177 77h1v1h-1zM189 77h1v1h-1zM193 77h1v1h-1zM199 77h1v1h-1zM92 78h1v1h-1zM97 78h1v1h-1zM121 78h1v1h-1zM146 78h1v1h-1zM150 78h1v1h-1zM152 78h2v1h-2zM155 78h2v1h-2zM165 78h1v1h-1zM175 78h1v1h-1zM87 79h2v1h-2zM99 79h1v1h-1zM147 79h1v1h-1zM150 79h1v1h-1zM154 79h1v1h-1zM162 79h1v1h-1zM164 79h1v1h-1zM168 79h1v1h-1zM170 79h1v1h-1zM173 79h1v1h-1zM176 79h1v1h-1zM190 79h1v1h-1zM208 79h1v1h-1zM614 79h1v1h-1zM96 80h1v1h-1zM98 80h1v1h-1zM105 80h1v1h-1zM139 80h1v1h-1zM148 80h1v1h-1zM155 80h1v1h-1zM165 80h2v1h-2zM178 80h1v1h-1zM219 80h1v1h-1zM101 81h1v1h-1zM142 81h1v1h-1zM157 81h1v1h-1zM160 81h1v1h-1zM162 81h1v1h-1zM173 81h1v1h-1zM175 81h1v1h-1zM195 81h1v1h-1zM216 81h1v1h-1zM230 81h1v1h-1zM89 82h1v1h-1zM143 82h1v1h-1zM147 82h1v1h-1zM150 82h1v1h-1zM152 82h1v1h-1zM155 82h1v1h-1zM198 82h1v1h-1zM203 82h1v1h-1zM214 82h1v1h-1zM117 83h1v1h-1zM152 83h1v1h-1zM161 83h1v1h-1zM172 83h1v1h-1zM72 84h1v1h-1zM95 84h1v1h-1zM144 84h1v1h-1zM153 84h1v1h-1zM192 84h1v1h-1zM197 84h1v1h-1zM82 85h1v1h-1zM148 85h1v1h-1zM156 85h1v1h-1zM159 85h1v1h-1zM164 85h1v1h-1zM167 85h1v1h-1zM169 85h1v1h-1zM172 85h1v1h-1zM209 85h1v1h-1zM211 85h1v1h-1zM604 85h1v1h-1zM111 86h1v1h-1zM146 86h1v1h-1zM149 86h1v1h-1zM151 86h1v1h-1zM157 86h1v1h-1zM181 86h1v1h-1zM206 86h2v1h-2zM889 86h1v1h-1zM89 87h3v1h-3zM146 87h1v1h-1zM153 87h1v1h-1zM190 87h1v1h-1zM91 88h1v1h-1zM96 88h1v1h-1zM116 88h2v1h-2zM145 88h1v1h-1zM154 88h2v1h-2zM157 88h1v1h-1zM886 88h1v1h-1zM116 89h1v1h-1zM121 89h1v1h-1zM146 89h1v1h-1zM152 89h1v1h-1zM163 89h1v1h-1zM187 89h1v1h-1zM206 89h1v1h-1zM885 89h1v1h-1zM89 90h2v1h-2zM92 90h1v1h-1zM151 90h1v1h-1zM156 90h1v1h-1zM159 90h1v1h-1zM184 90h1v1h-1zM894 90h1v1h-1zM79 91h1v1h-1zM93 91h2v1h-2zM108 91h1v1h-1zM131 91h1v1h-1zM146 91h1v1h-1zM154 91h1v1h-1zM156 91h1v1h-1zM162 91h1v1h-1zM169 91h1v1h-1zM182 91h1v1h-1zM198 91h1v1h-1zM113 92h2v1h-2zM122 92h1v1h-1zM136 92h1v1h-1zM155 92h2v1h-2zM161 92h1v1h-1zM163 92h1v1h-1zM169 92h1v1h-1zM184 92h1v1h-1zM191 92h1v1h-1zM895 92h1v1h-1zM76 93h1v1h-1zM91 93h1v1h-1zM111 93h1v1h-1zM114 93h1v1h-1zM162 93h1v1h-1zM167 93h1v1h-1zM612 93h1v1h-1zM880 93h1v1h-1zM915 93h1v1h-1zM111 94h3v1h-3zM117 94h1v1h-1zM145 94h3v1h-3zM149 94h1v1h-1zM154 94h1v1h-1zM162 94h1v1h-1zM217 94h1v1h-1zM608 94h1v1h-1zM875 94h1v1h-1zM903 94h1v1h-1zM108 95h1v1h-1zM111 95h1v1h-1zM123 95h1v1h-1zM151 95h1v1h-1zM174 95h1v1h-1zM210 95h1v1h-1zM608 95h1v1h-1zM612 95h1v1h-1zM614 95h1v1h-1zM617 95h1v1h-1zM622 95h1v1h-1zM877 95h1v1h-1zM880 95h1v1h-1zM882 95h1v1h-1zM887 95h1v1h-1zM933 95h1v1h-1zM81 96h1v1h-1zM89 96h1v1h-1zM136 96h1v1h-1zM149 96h1v1h-1zM156 96h1v1h-1zM158 96h1v1h-1zM180 96h1v1h-1zM205 96h1v1h-1zM611 96h1v1h-1zM613 96h1v1h-1zM873 96h1v1h-1zM881 96h2v1h-2zM895 96h1v1h-1zM69 97h1v1h-1zM108 97h1v1h-1zM132 97h1v1h-1zM141 97h1v1h-1zM147 97h1v1h-1zM158 97h1v1h-1zM176 97h1v1h-1zM189 97h1v1h-1zM192 97h1v1h-1zM614 97h1v1h-1zM858 97h1v1h-1zM890 97h1v1h-1zM77 98h1v1h-1zM112 98h1v1h-1zM115 98h1v1h-1zM117 98h1v1h-1zM119 98h1v1h-1zM121 98h1v1h-1zM150 98h2v1h-2zM153 98h1v1h-1zM160 98h1v1h-1zM168 98h1v1h-1zM173 98h1v1h-1zM175 98h1v1h-1zM218 98h1v1h-1zM876 98h1v1h-1zM879 98h1v1h-1zM881 98h1v1h-1zM101 99h1v1h-1zM107 99h1v1h-1zM115 99h1v1h-1zM121 99h1v1h-1zM194 99h1v1h-1zM618 99h1v1h-1zM868 99h1v1h-1zM891 99h1v1h-1zM894 99h1v1h-1zM920 99h1v1h-1zM90 100h1v1h-1zM104 100h1v1h-1zM111 100h1v1h-1zM114 100h1v1h-1zM123 100h1v1h-1zM152 100h1v1h-1zM162 100h1v1h-1zM166 100h1v1h-1zM169 100h1v1h-1zM174 100h1v1h-1zM186 100h1v1h-1zM193 100h1v1h-1zM196 100h1v1h-1zM199 100h1v1h-1zM616 100h1v1h-1zM877 100h1v1h-1zM879 100h1v1h-1zM883 100h1v1h-1zM925 100h1v1h-1zM928 100h1v1h-1zM930 100h1v1h-1zM940 100h1v1h-1zM86 101h1v1h-1zM93 101h1v1h-1zM100 101h1v1h-1zM115 101h1v1h-1zM119 101h1v1h-1zM156 101h1v1h-1zM158 101h2v1h-2zM213 101h1v1h-1zM603 101h1v1h-1zM616 101h1v1h-1zM622 101h1v1h-1zM873 101h1v1h-1zM877 101h1v1h-1zM893 101h1v1h-1zM80 102h1v1h-1zM91 102h1v1h-1zM104 102h1v1h-1zM109 102h1v1h-1zM123 102h1v1h-1zM154 102h1v1h-1zM157 102h1v1h-1zM169 102h2v1h-2zM173 102h1v1h-1zM178 102h1v1h-1zM205 102h1v1h-1zM601 102h1v1h-1zM891 102h1v1h-1zM938 102h1v1h-1zM78 103h1v1h-1zM82 103h1v1h-1zM105 103h1v1h-1zM108 103h1v1h-1zM116 103h1v1h-1zM120 103h1v1h-1zM154 103h1v1h-1zM167 103h1v1h-1zM194 103h1v1h-1zM615 103h1v1h-1zM618 103h1v1h-1zM875 103h1v1h-1zM892 103h1v1h-1zM894 103h1v1h-1zM913 103h1v1h-1zM921 103h1v1h-1zM924 103h1v1h-1zM81 104h1v1h-1zM103 104h1v1h-1zM139 104h1v1h-1zM147 104h1v1h-1zM150 104h1v1h-1zM154 104h1v1h-1zM159 104h1v1h-1zM605 104h1v1h-1zM618 104h1v1h-1zM624 104h1v1h-1zM878 104h1v1h-1zM896 104h1v1h-1zM900 104h1v1h-1zM920 104h1v1h-1zM938 104h1v1h-1zM963 104h1v1h-1zM89 105h1v1h-1zM105 105h1v1h-1zM112 105h1v1h-1zM121 105h2v1h-2zM142 105h1v1h-1zM157 105h1v1h-1zM169 105h1v1h-1zM604 105h2v1h-2zM625 105h1v1h-1zM879 105h1v1h-1zM894 105h1v1h-1zM921 105h1v1h-1zM925 105h1v1h-1zM84 106h1v1h-1zM102 106h2v1h-2zM113 106h1v1h-1zM115 106h1v1h-1zM117 106h1v1h-1zM119 106h1v1h-1zM151 106h1v1h-1zM159 106h1v1h-1zM214 106h1v1h-1zM619 106h1v1h-1zM875 106h1v1h-1zM877 106h1v1h-1zM926 106h2v1h-2zM931 106h1v1h-1zM944 106h1v1h-1zM74 107h1v1h-1zM78 107h1v1h-1zM85 107h1v1h-1zM102 107h1v1h-1zM106 107h1v1h-1zM108 107h1v1h-1zM110 107h2v1h-2zM113 107h1v1h-1zM122 107h1v1h-1zM147 107h1v1h-1zM162 107h1v1h-1zM188 107h1v1h-1zM599 107h1v1h-1zM892 107h1v1h-1zM923 107h1v1h-1zM925 107h1v1h-1zM930 107h1v1h-1zM948 107h1v1h-1zM79 108h1v1h-1zM86 108h1v1h-1zM104 108h1v1h-1zM112 108h1v1h-1zM146 108h1v1h-1zM148 108h2v1h-2zM151 108h1v1h-1zM157 108h1v1h-1zM874 108h2v1h-2zM896 108h1v1h-1zM928 108h1v1h-1zM931 108h2v1h-2zM78 109h1v1h-1zM80 109h1v1h-1zM84 109h1v1h-1zM86 109h1v1h-1zM106 109h1v1h-1zM110 109h1v1h-1zM119 109h1v1h-1zM150 109h1v1h-1zM158 109h1v1h-1zM170 109h1v1h-1zM893 109h1v1h-1zM923 109h1v1h-1zM929 109h1v1h-1zM937 109h1v1h-1zM74 110h1v1h-1zM108 110h1v1h-1zM120 110h1v1h-1zM146 110h1v1h-1zM151 110h1v1h-1zM157 110h1v1h-1zM162 110h1v1h-1zM185 110h1v1h-1zM872 110h1v1h-1zM899 110h1v1h-1zM917 110h1v1h-1zM921 110h2v1h-2zM925 110h1v1h-1zM937 110h1v1h-1zM68 111h1v1h-1zM84 111h1v1h-1zM99 111h1v1h-1zM111 111h1v1h-1zM140 111h1v1h-1zM143 111h1v1h-1zM146 111h1v1h-1zM148 111h1v1h-1zM154 111h1v1h-1zM163 111h1v1h-1zM167 111h1v1h-1zM620 111h1v1h-1zM877 111h1v1h-1zM891 111h2v1h-2zM902 111h1v1h-1zM70 112h1v1h-1zM79 112h1v1h-1zM83 112h1v1h-1zM86 112h1v1h-1zM89 112h1v1h-1zM103 112h4v1h-4zM108 112h1v1h-1zM117 112h1v1h-1zM155 112h1v1h-1zM160 112h1v1h-1zM165 112h1v1h-1zM188 112h1v1h-1zM601 112h1v1h-1zM617 112h2v1h-2zM869 112h1v1h-1zM907 112h1v1h-1zM934 112h1v1h-1zM81 113h1v1h-1zM86 113h2v1h-2zM113 113h1v1h-1zM123 113h1v1h-1zM158 113h1v1h-1zM623 113h1v1h-1zM893 113h1v1h-1zM898 113h1v1h-1zM933 113h1v1h-1zM117 114h1v1h-1zM147 114h1v1h-1zM151 114h3v1h-3zM191 114h1v1h-1zM877 114h1v1h-1zM893 114h1v1h-1zM907 114h1v1h-1zM914 114h1v1h-1zM924 114h1v1h-1zM927 114h1v1h-1zM929 114h1v1h-1zM61 115h1v1h-1zM82 115h1v1h-1zM84 115h1v1h-1zM113 115h1v1h-1zM144 115h1v1h-1zM151 115h1v1h-1zM157 115h1v1h-1zM599 115h1v1h-1zM882 115h1v1h-1zM899 115h2v1h-2zM926 115h1v1h-1zM931 115h1v1h-1zM933 115h1v1h-1zM68 116h1v1h-1zM73 116h1v1h-1zM77 116h1v1h-1zM88 116h1v1h-1zM101 116h1v1h-1zM104 116h2v1h-2zM108 116h1v1h-1zM110 116h1v1h-1zM113 116h2v1h-2zM150 116h1v1h-1zM158 116h1v1h-1zM167 116h1v1h-1zM883 116h1v1h-1zM891 116h1v1h-1zM894 116h3v1h-3zM903 116h1v1h-1zM59 117h1v1h-1zM76 117h1v1h-1zM84 117h1v1h-1zM101 117h1v1h-1zM112 117h1v1h-1zM115 117h1v1h-1zM140 117h1v1h-1zM143 117h1v1h-1zM149 117h2v1h-2zM153 117h1v1h-1zM158 117h1v1h-1zM197 117h1v1h-1zM606 117h1v1h-1zM616 117h1v1h-1zM619 117h1v1h-1zM889 117h1v1h-1zM891 117h1v1h-1zM895 117h1v1h-1zM923 117h1v1h-1zM942 117h1v1h-1zM80 118h1v1h-1zM113 118h1v1h-1zM120 118h1v1h-1zM143 118h1v1h-1zM156 118h1v1h-1zM166 118h1v1h-1zM614 118h1v1h-1zM881 118h1v1h-1zM886 118h1v1h-1zM890 118h1v1h-1zM893 118h1v1h-1zM902 118h1v1h-1zM929 118h1v1h-1zM932 118h1v1h-1zM934 118h1v1h-1zM66 119h1v1h-1zM75 119h1v1h-1zM80 119h1v1h-1zM87 119h1v1h-1zM101 119h1v1h-1zM106 119h1v1h-1zM113 119h1v1h-1zM155 119h1v1h-1zM175 119h1v1h-1zM882 119h1v1h-1zM921 119h1v1h-1zM924 119h1v1h-1zM74 120h1v1h-1zM77 120h1v1h-1zM81 120h1v1h-1zM83 120h1v1h-1zM85 120h1v1h-1zM100 120h1v1h-1zM108 120h1v1h-1zM111 120h2v1h-2zM117 120h1v1h-1zM119 120h1v1h-1zM139 120h1v1h-1zM143 120h1v1h-1zM147 120h2v1h-2zM153 120h1v1h-1zM163 120h1v1h-1zM175 120h1v1h-1zM189 120h2v1h-2zM879 120h2v1h-2zM882 120h1v1h-1zM896 120h1v1h-1zM912 120h1v1h-1zM929 120h1v1h-1zM74 121h1v1h-1zM81 121h1v1h-1zM100 121h1v1h-1zM103 121h1v1h-1zM152 121h1v1h-1zM158 121h2v1h-2zM172 121h1v1h-1zM180 121h1v1h-1zM617 121h1v1h-1zM619 121h1v1h-1zM877 121h1v1h-1zM887 121h1v1h-1zM929 121h1v1h-1zM63 122h1v1h-1zM77 122h1v1h-1zM79 122h1v1h-1zM84 122h2v1h-2zM89 122h1v1h-1zM104 122h1v1h-1zM118 122h2v1h-2zM141 122h2v1h-2zM150 122h1v1h-1zM155 122h1v1h-1zM160 122h1v1h-1zM191 122h1v1h-1zM194 122h1v1h-1zM614 122h1v1h-1zM889 122h1v1h-1zM892 122h2v1h-2zM899 122h2v1h-2zM922 122h1v1h-1zM937 122h1v1h-1zM72 123h1v1h-1zM78 123h1v1h-1zM104 123h1v1h-1zM109 123h1v1h-1zM116 123h1v1h-1zM118 123h1v1h-1zM120 123h1v1h-1zM140 123h1v1h-1zM142 123h2v1h-2zM146 123h1v1h-1zM148 123h1v1h-1zM150 123h1v1h-1zM153 123h1v1h-1zM187 123h1v1h-1zM193 123h1v1h-1zM612 123h1v1h-1zM875 123h1v1h-1zM877 123h2v1h-2zM917 123h1v1h-1zM922 123h1v1h-1zM61 124h1v1h-1zM69 124h1v1h-1zM86 124h1v1h-1zM88 124h1v1h-1zM100 124h1v1h-1zM109 124h2v1h-2zM117 124h1v1h-1zM146 124h1v1h-1zM148 124h3v1h-3zM153 124h1v1h-1zM165 124h1v1h-1zM177 124h1v1h-1zM186 124h1v1h-1zM604 124h1v1h-1zM606 124h1v1h-1zM614 124h1v1h-1zM641 124h1v1h-1zM875 124h1v1h-1zM888 124h1v1h-1zM892 124h1v1h-1zM72 125h1v1h-1zM76 125h1v1h-1zM79 125h1v1h-1zM104 125h1v1h-1zM139 125h1v1h-1zM145 125h1v1h-1zM166 125h1v1h-1zM212 125h1v1h-1zM604 125h1v1h-1zM606 125h2v1h-2zM620 125h2v1h-2zM881 125h1v1h-1zM886 125h1v1h-1zM923 125h1v1h-1zM939 125h1v1h-1zM83 126h1v1h-1zM101 126h1v1h-1zM114 126h1v1h-1zM117 126h1v1h-1zM140 126h1v1h-1zM142 126h1v1h-1zM146 126h1v1h-1zM152 126h1v1h-1zM180 126h1v1h-1zM612 126h1v1h-1zM623 126h2v1h-2zM935 126h1v1h-1zM938 126h1v1h-1zM57 127h1v1h-1zM80 127h1v1h-1zM82 127h1v1h-1zM86 127h1v1h-1zM96 127h1v1h-1zM101 127h1v1h-1zM111 127h1v1h-1zM117 127h1v1h-1zM153 127h1v1h-1zM161 127h2v1h-2zM173 127h1v1h-1zM618 127h1v1h-1zM886 127h1v1h-1zM910 127h1v1h-1zM922 127h1v1h-1zM61 128h1v1h-1zM70 128h1v1h-1zM77 128h1v1h-1zM81 128h1v1h-1zM100 128h1v1h-1zM102 128h1v1h-1zM115 128h2v1h-2zM139 128h1v1h-1zM142 128h1v1h-1zM154 128h1v1h-1zM605 128h1v1h-1zM614 128h1v1h-1zM616 128h1v1h-1zM880 128h1v1h-1zM884 128h1v1h-1zM900 128h1v1h-1zM925 128h1v1h-1zM74 129h1v1h-1zM77 129h1v1h-1zM83 129h1v1h-1zM87 129h1v1h-1zM91 129h1v1h-1zM103 129h1v1h-1zM108 129h1v1h-1zM118 129h1v1h-1zM123 129h1v1h-1zM145 129h1v1h-1zM148 129h1v1h-1zM157 129h1v1h-1zM167 129h1v1h-1zM186 129h1v1h-1zM620 129h1v1h-1zM623 129h1v1h-1zM886 129h2v1h-2zM58 130h1v1h-1zM74 130h1v1h-1zM102 130h1v1h-1zM114 130h1v1h-1zM118 130h1v1h-1zM142 130h1v1h-1zM145 130h1v1h-1zM148 130h1v1h-1zM152 130h1v1h-1zM176 130h1v1h-1zM180 130h1v1h-1zM213 130h1v1h-1zM610 130h1v1h-1zM623 130h1v1h-1zM880 130h1v1h-1zM886 130h1v1h-1zM890 130h1v1h-1zM897 130h1v1h-1zM87 131h1v1h-1zM102 131h1v1h-1zM105 131h1v1h-1zM113 131h1v1h-1zM115 131h1v1h-1zM119 131h1v1h-1zM144 131h1v1h-1zM146 131h1v1h-1zM152 131h1v1h-1zM157 131h1v1h-1zM398 131h1v1h-1zM404 131h1v1h-1zM608 131h2v1h-2zM616 131h1v1h-1zM620 131h2v1h-2zM882 131h1v1h-1zM885 131h1v1h-1zM888 131h1v1h-1zM60 132h1v1h-1zM63 132h1v1h-1zM75 132h1v1h-1zM81 132h2v1h-2zM85 132h1v1h-1zM103 132h1v1h-1zM109 132h1v1h-1zM112 132h1v1h-1zM140 132h1v1h-1zM405 132h1v1h-1zM605 132h1v1h-1zM608 132h1v1h-1zM610 132h1v1h-1zM615 132h1v1h-1zM885 132h1v1h-1zM889 132h1v1h-1zM77 133h1v1h-1zM103 133h1v1h-1zM141 133h1v1h-1zM145 133h1v1h-1zM149 133h1v1h-1zM156 133h2v1h-2zM162 133h1v1h-1zM408 133h1v1h-1zM605 133h1v1h-1zM887 133h1v1h-1zM63 134h1v1h-1zM72 134h1v1h-1zM75 134h2v1h-2zM86 134h1v1h-1zM109 134h1v1h-1zM126 134h1v1h-1zM141 134h1v1h-1zM147 134h1v1h-1zM152 134h1v1h-1zM187 134h1v1h-1zM394 134h1v1h-1zM401 134h1v1h-1zM409 134h1v1h-1zM603 134h1v1h-1zM610 134h2v1h-2zM617 134h1v1h-1zM664 134h1v1h-1zM882 134h1v1h-1zM884 134h2v1h-2zM56 135h2v1h-2zM63 135h1v1h-1zM67 135h1v1h-1zM69 135h1v1h-1zM72 135h1v1h-1zM76 135h1v1h-1zM87 135h1v1h-1zM92 135h1v1h-1zM102 135h1v1h-1zM110 135h1v1h-1zM112 135h1v1h-1zM138 135h1v1h-1zM147 135h1v1h-1zM150 135h1v1h-1zM153 135h1v1h-1zM175 135h1v1h-1zM194 135h1v1h-1zM400 135h1v1h-1zM613 135h1v1h-1zM620 135h1v1h-1zM622 135h1v1h-1zM867 135h1v1h-1zM888 135h1v1h-1zM66 136h1v1h-1zM101 136h1v1h-1zM147 136h2v1h-2zM154 136h1v1h-1zM156 136h1v1h-1zM169 136h1v1h-1zM183 136h1v1h-1zM609 136h1v1h-1zM613 136h2v1h-2zM878 136h1v1h-1zM883 136h1v1h-1zM71 137h1v1h-1zM74 137h1v1h-1zM82 137h1v1h-1zM111 137h1v1h-1zM135 137h1v1h-1zM143 137h1v1h-1zM148 137h1v1h-1zM157 137h1v1h-1zM160 137h1v1h-1zM394 137h1v1h-1zM408 137h1v1h-1zM621 137h1v1h-1zM624 137h2v1h-2zM869 137h1v1h-1zM880 137h1v1h-1zM900 137h1v1h-1zM61 138h1v1h-1zM68 138h2v1h-2zM71 138h1v1h-1zM75 138h1v1h-1zM78 138h1v1h-1zM84 138h1v1h-1zM86 138h1v1h-1zM101 138h1v1h-1zM106 138h2v1h-2zM111 138h1v1h-1zM113 138h1v1h-1zM144 138h1v1h-1zM396 138h1v1h-1zM605 138h1v1h-1zM610 138h1v1h-1zM621 138h1v1h-1zM64 139h1v1h-1zM69 139h1v1h-1zM79 139h1v1h-1zM82 139h1v1h-1zM89 139h1v1h-1zM99 139h1v1h-1zM105 139h1v1h-1zM112 139h1v1h-1zM134 139h1v1h-1zM148 139h1v1h-1zM150 139h1v1h-1zM155 139h1v1h-1zM607 139h1v1h-1zM862 139h1v1h-1zM886 139h1v1h-1zM888 139h1v1h-1zM65 140h1v1h-1zM82 140h1v1h-1zM110 140h1v1h-1zM121 140h1v1h-1zM138 140h1v1h-1zM143 140h1v1h-1zM145 140h1v1h-1zM148 140h1v1h-1zM156 140h1v1h-1zM389 140h1v1h-1zM406 140h1v1h-1zM614 140h1v1h-1zM619 140h1v1h-1zM58 141h1v1h-1zM65 141h1v1h-1zM69 141h1v1h-1zM75 141h1v1h-1zM79 141h1v1h-1zM109 141h1v1h-1zM137 141h1v1h-1zM142 141h1v1h-1zM154 141h1v1h-1zM165 141h1v1h-1zM386 141h1v1h-1zM603 141h1v1h-1zM888 141h1v1h-1zM56 142h1v1h-1zM64 142h1v1h-1zM76 142h1v1h-1zM79 142h1v1h-1zM84 142h1v1h-1zM108 142h1v1h-1zM134 142h1v1h-1zM137 142h1v1h-1zM139 142h1v1h-1zM145 142h2v1h-2zM148 142h1v1h-1zM152 142h1v1h-1zM158 142h1v1h-1zM180 142h1v1h-1zM606 142h1v1h-1zM610 142h2v1h-2zM614 142h1v1h-1zM619 142h1v1h-1zM623 142h1v1h-1zM632 142h1v1h-1zM863 142h1v1h-1zM892 142h1v1h-1zM897 142h1v1h-1zM61 143h1v1h-1zM75 143h1v1h-1zM122 143h1v1h-1zM139 143h1v1h-1zM141 143h1v1h-1zM143 143h1v1h-1zM145 143h1v1h-1zM405 143h1v1h-1zM605 143h1v1h-1zM861 143h1v1h-1zM886 143h1v1h-1zM72 144h1v1h-1zM120 144h1v1h-1zM136 144h1v1h-1zM147 144h1v1h-1zM151 144h2v1h-2zM406 144h1v1h-1zM599 144h1v1h-1zM606 144h1v1h-1zM608 144h1v1h-1zM610 144h1v1h-1zM614 144h1v1h-1zM619 144h1v1h-1zM621 144h1v1h-1zM633 144h1v1h-1zM888 144h1v1h-1zM891 144h1v1h-1zM55 145h1v1h-1zM59 145h1v1h-1zM62 145h1v1h-1zM83 145h1v1h-1zM90 145h1v1h-1zM141 145h1v1h-1zM143 145h2v1h-2zM169 145h1v1h-1zM383 145h1v1h-1zM393 145h1v1h-1zM404 145h2v1h-2zM616 145h2v1h-2zM622 145h1v1h-1zM624 145h1v1h-1zM879 145h2v1h-2zM884 145h1v1h-1zM60 146h1v1h-1zM63 146h1v1h-1zM65 146h1v1h-1zM68 146h1v1h-1zM77 146h1v1h-1zM81 146h1v1h-1zM90 146h1v1h-1zM115 146h1v1h-1zM133 146h1v1h-1zM145 146h1v1h-1zM150 146h1v1h-1zM156 146h1v1h-1zM603 146h1v1h-1zM615 146h1v1h-1zM617 146h1v1h-1zM882 146h1v1h-1zM61 147h1v1h-1zM69 147h1v1h-1zM71 147h1v1h-1zM75 147h1v1h-1zM81 147h1v1h-1zM90 147h1v1h-1zM139 147h1v1h-1zM407 147h1v1h-1zM613 147h2v1h-2zM616 147h1v1h-1zM621 147h1v1h-1zM624 147h1v1h-1zM67 148h1v1h-1zM81 148h1v1h-1zM108 148h1v1h-1zM139 148h3v1h-3zM146 148h1v1h-1zM609 148h1v1h-1zM616 148h1v1h-1zM624 148h1v1h-1zM871 148h1v1h-1zM881 148h1v1h-1zM62 149h1v1h-1zM73 149h2v1h-2zM129 149h1v1h-1zM133 149h1v1h-1zM138 149h1v1h-1zM156 149h1v1h-1zM378 149h1v1h-1zM405 149h1v1h-1zM608 149h1v1h-1zM618 149h1v1h-1zM865 149h1v1h-1zM876 149h1v1h-1zM888 149h1v1h-1zM890 149h1v1h-1zM64 150h1v1h-1zM75 150h1v1h-1zM78 150h1v1h-1zM105 150h1v1h-1zM133 150h1v1h-1zM143 150h1v1h-1zM147 150h1v1h-1zM174 150h1v1h-1zM600 150h1v1h-1zM607 150h1v1h-1zM610 150h1v1h-1zM622 150h1v1h-1zM881 150h1v1h-1zM60 151h1v1h-1zM64 151h1v1h-1zM74 151h1v1h-1zM78 151h1v1h-1zM89 151h1v1h-1zM101 151h1v1h-1zM108 151h1v1h-1zM135 151h1v1h-1zM137 151h2v1h-2zM400 151h1v1h-1zM407 151h1v1h-1zM601 151h1v1h-1zM606 151h1v1h-1zM608 151h1v1h-1zM615 151h1v1h-1zM618 151h1v1h-1zM625 151h1v1h-1zM882 151h1v1h-1zM60 152h2v1h-2zM65 152h1v1h-1zM84 152h1v1h-1zM87 152h1v1h-1zM103 152h2v1h-2zM157 152h2v1h-2zM161 152h1v1h-1zM191 152h1v1h-1zM408 152h1v1h-1zM606 152h1v1h-1zM614 152h1v1h-1zM621 152h1v1h-1zM627 152h2v1h-2zM630 152h1v1h-1zM874 152h1v1h-1zM882 152h1v1h-1zM886 152h1v1h-1zM889 152h2v1h-2zM63 153h1v1h-1zM68 153h1v1h-1zM74 153h1v1h-1zM77 153h2v1h-2zM86 153h1v1h-1zM104 153h1v1h-1zM107 153h1v1h-1zM128 153h1v1h-1zM139 153h1v1h-1zM146 153h1v1h-1zM165 153h1v1h-1zM374 153h2v1h-2zM607 153h1v1h-1zM623 153h1v1h-1zM867 153h1v1h-1zM879 153h1v1h-1zM67 154h1v1h-1zM77 154h1v1h-1zM80 154h1v1h-1zM98 154h1v1h-1zM139 154h1v1h-1zM143 154h1v1h-1zM371 154h2v1h-2zM391 154h1v1h-1zM399 154h1v1h-1zM607 154h2v1h-2zM611 154h1v1h-1zM620 154h1v1h-1zM637 154h1v1h-1zM862 154h1v1h-1zM881 154h1v1h-1zM69 155h1v1h-1zM72 155h1v1h-1zM79 155h1v1h-1zM98 155h1v1h-1zM103 155h1v1h-1zM106 155h1v1h-1zM137 155h1v1h-1zM397 155h1v1h-1zM408 155h1v1h-1zM631 155h1v1h-1zM861 155h1v1h-1zM870 155h1v1h-1zM890 155h1v1h-1zM58 156h1v1h-1zM98 156h1v1h-1zM129 156h1v1h-1zM136 156h1v1h-1zM139 156h1v1h-1zM151 156h1v1h-1zM370 156h1v1h-1zM409 156h1v1h-1zM615 156h1v1h-1zM626 156h1v1h-1zM889 156h2v1h-2zM67 157h1v1h-1zM75 157h2v1h-2zM82 157h1v1h-1zM93 157h1v1h-1zM102 157h1v1h-1zM131 157h1v1h-1zM136 157h2v1h-2zM369 157h1v1h-1zM395 157h1v1h-1zM57 158h1v1h-1zM66 158h2v1h-2zM99 158h1v1h-1zM124 158h1v1h-1zM128 158h1v1h-1zM136 158h1v1h-1zM392 158h1v1h-1zM402 158h1v1h-1zM607 158h1v1h-1zM624 158h2v1h-2zM640 158h1v1h-1zM58 159h1v1h-1zM61 159h1v1h-1zM79 159h1v1h-1zM103 159h1v1h-1zM119 159h1v1h-1zM127 159h1v1h-1zM131 159h1v1h-1zM137 159h1v1h-1zM139 159h1v1h-1zM154 159h1v1h-1zM368 159h1v1h-1zM624 159h1v1h-1zM629 159h1v1h-1zM636 159h1v1h-1zM872 159h1v1h-1zM892 159h1v1h-1zM58 160h1v1h-1zM61 160h1v1h-1zM63 160h2v1h-2zM69 160h1v1h-1zM75 160h2v1h-2zM78 160h1v1h-1zM84 160h1v1h-1zM92 160h1v1h-1zM109 160h1v1h-1zM121 160h1v1h-1zM134 160h1v1h-1zM158 160h1v1h-1zM162 160h1v1h-1zM165 160h1v1h-1zM606 160h1v1h-1zM630 160h1v1h-1zM638 160h1v1h-1zM875 160h1v1h-1zM66 161h1v1h-1zM72 161h1v1h-1zM75 161h1v1h-1zM94 161h1v1h-1zM121 161h1v1h-1zM401 161h1v1h-1zM405 161h1v1h-1zM408 161h1v1h-1zM637 161h1v1h-1zM661 161h1v1h-1zM878 161h1v1h-1zM895 161h1v1h-1zM898 161h1v1h-1zM55 162h1v1h-1zM64 162h1v1h-1zM93 162h1v1h-1zM100 162h1v1h-1zM123 162h1v1h-1zM129 162h2v1h-2zM147 162h1v1h-1zM153 162h1v1h-1zM396 162h2v1h-2zM405 162h1v1h-1zM409 162h1v1h-1zM59 163h1v1h-1zM71 163h1v1h-1zM77 163h2v1h-2zM94 163h1v1h-1zM104 163h1v1h-1zM107 163h1v1h-1zM129 163h3v1h-3zM151 163h2v1h-2zM401 163h1v1h-1zM406 163h1v1h-1zM607 163h1v1h-1zM626 163h1v1h-1zM630 163h1v1h-1zM635 163h1v1h-1zM904 163h1v1h-1zM59 164h1v1h-1zM94 164h1v1h-1zM96 164h2v1h-2zM100 164h1v1h-1zM121 164h1v1h-1zM137 164h1v1h-1zM144 164h1v1h-1zM388 164h1v1h-1zM407 164h1v1h-1zM878 164h1v1h-1zM895 164h1v1h-1zM55 165h1v1h-1zM64 165h1v1h-1zM70 165h2v1h-2zM115 165h1v1h-1zM121 165h1v1h-1zM132 165h3v1h-3zM136 165h1v1h-1zM361 165h1v1h-1zM400 165h1v1h-1zM893 165h1v1h-1zM55 166h2v1h-2zM68 166h1v1h-1zM74 166h2v1h-2zM103 166h1v1h-1zM106 166h2v1h-2zM119 166h1v1h-1zM124 166h1v1h-1zM128 166h1v1h-1zM135 166h1v1h-1zM142 166h1v1h-1zM157 166h1v1h-1zM399 166h1v1h-1zM872 166h1v1h-1zM878 166h1v1h-1zM901 166h1v1h-1zM69 167h1v1h-1zM73 167h1v1h-1zM84 167h1v1h-1zM97 167h1v1h-1zM101 167h1v1h-1zM106 167h1v1h-1zM146 167h2v1h-2zM158 167h1v1h-1zM403 167h1v1h-1zM626 167h1v1h-1zM630 167h1v1h-1zM641 167h1v1h-1zM898 167h2v1h-2zM59 168h1v1h-1zM68 168h1v1h-1zM73 168h1v1h-1zM85 168h1v1h-1zM94 168h1v1h-1zM105 168h1v1h-1zM130 168h1v1h-1zM403 168h1v1h-1zM605 168h1v1h-1zM625 168h1v1h-1zM633 168h1v1h-1zM867 168h1v1h-1zM900 168h1v1h-1zM57 169h1v1h-1zM60 169h1v1h-1zM66 169h1v1h-1zM74 169h1v1h-1zM99 169h1v1h-1zM105 169h1v1h-1zM134 169h2v1h-2zM146 169h1v1h-1zM357 169h1v1h-1zM389 169h1v1h-1zM396 169h1v1h-1zM399 169h1v1h-1zM403 169h1v1h-1zM597 169h1v1h-1zM638 169h1v1h-1zM645 169h1v1h-1zM874 169h1v1h-1zM897 169h1v1h-1zM56 170h1v1h-1zM58 170h1v1h-1zM72 170h1v1h-1zM79 170h1v1h-1zM126 170h1v1h-1zM133 170h1v1h-1zM398 170h1v1h-1zM600 170h1v1h-1zM644 170h1v1h-1zM652 170h1v1h-1zM864 170h1v1h-1zM872 170h2v1h-2zM55 171h2v1h-2zM58 171h1v1h-1zM66 171h1v1h-1zM96 171h1v1h-1zM104 171h1v1h-1zM134 171h1v1h-1zM136 171h1v1h-1zM353 171h1v1h-1zM635 171h1v1h-1zM650 171h1v1h-1zM892 171h3v1h-3zM897 171h1v1h-1zM57 172h1v1h-1zM69 172h1v1h-1zM82 172h1v1h-1zM96 172h1v1h-1zM99 172h2v1h-2zM102 172h1v1h-1zM130 172h1v1h-1zM386 172h1v1h-1zM409 172h1v1h-1zM602 172h1v1h-1zM605 172h1v1h-1zM627 172h1v1h-1zM632 172h1v1h-1zM638 172h1v1h-1zM893 172h1v1h-1zM101 173h1v1h-1zM116 173h1v1h-1zM132 173h1v1h-1zM387 173h1v1h-1zM401 173h1v1h-1zM643 173h1v1h-1zM647 173h1v1h-1zM650 173h1v1h-1zM873 173h5v1h-5zM896 173h2v1h-2zM55 174h1v1h-1zM105 174h1v1h-1zM126 174h1v1h-1zM155 174h1v1h-1zM385 174h2v1h-2zM392 174h1v1h-1zM404 174h1v1h-1zM599 174h1v1h-1zM630 174h1v1h-1zM658 174h1v1h-1zM873 174h1v1h-1zM896 174h1v1h-1zM88 175h1v1h-1zM98 175h1v1h-1zM101 175h1v1h-1zM107 175h1v1h-1zM121 175h1v1h-1zM128 175h1v1h-1zM137 175h1v1h-1zM149 175h1v1h-1zM154 175h1v1h-1zM350 175h1v1h-1zM385 175h1v1h-1zM390 175h1v1h-1zM396 175h1v1h-1zM628 175h1v1h-1zM638 175h2v1h-2zM664 175h1v1h-1zM867 175h1v1h-1zM900 175h1v1h-1zM85 176h1v1h-1zM112 176h1v1h-1zM114 176h1v1h-1zM124 176h1v1h-1zM126 176h1v1h-1zM133 176h1v1h-1zM138 176h1v1h-1zM350 176h1v1h-1zM382 176h1v1h-1zM386 176h1v1h-1zM388 176h1v1h-1zM400 176h1v1h-1zM599 176h1v1h-1zM603 176h1v1h-1zM626 176h1v1h-1zM630 176h1v1h-1zM642 176h1v1h-1zM653 176h1v1h-1zM858 176h1v1h-1zM896 176h1v1h-1zM902 176h2v1h-2zM71 177h1v1h-1zM84 177h1v1h-1zM93 177h1v1h-1zM152 177h1v1h-1zM396 177h1v1h-1zM401 177h1v1h-1zM406 177h1v1h-1zM602 177h1v1h-1zM630 177h1v1h-1zM632 177h1v1h-1zM634 177h1v1h-1zM636 177h1v1h-1zM658 177h1v1h-1zM896 177h1v1h-1zM902 177h1v1h-1zM97 178h1v1h-1zM106 178h1v1h-1zM111 178h1v1h-1zM115 178h1v1h-1zM125 178h1v1h-1zM130 178h1v1h-1zM138 178h1v1h-1zM152 178h1v1h-1zM348 178h1v1h-1zM378 178h1v1h-1zM384 178h1v1h-1zM393 178h1v1h-1zM396 178h1v1h-1zM403 178h1v1h-1zM585 178h1v1h-1zM604 178h1v1h-1zM651 178h1v1h-1zM868 178h1v1h-1zM894 178h1v1h-1zM896 178h1v1h-1zM901 178h2v1h-2zM55 179h1v1h-1zM79 179h1v1h-1zM136 179h1v1h-1zM141 179h1v1h-1zM144 179h1v1h-1zM381 179h1v1h-1zM393 179h1v1h-1zM603 179h1v1h-1zM636 179h1v1h-1zM643 179h1v1h-1zM648 179h1v1h-1zM861 179h1v1h-1zM868 179h1v1h-1zM872 179h1v1h-1zM63 180h1v1h-1zM119 180h1v1h-1zM122 180h1v1h-1zM125 180h1v1h-1zM129 180h2v1h-2zM145 180h1v1h-1zM344 180h1v1h-1zM375 180h1v1h-1zM390 180h1v1h-1zM629 180h1v1h-1zM633 180h1v1h-1zM876 180h1v1h-1zM60 181h1v1h-1zM121 181h2v1h-2zM127 181h1v1h-1zM131 181h1v1h-1zM141 181h2v1h-2zM151 181h1v1h-1zM344 181h1v1h-1zM374 181h2v1h-2zM380 181h1v1h-1zM384 181h1v1h-1zM601 181h1v1h-1zM639 181h1v1h-1zM642 181h2v1h-2zM871 181h1v1h-1zM907 181h1v1h-1zM55 182h1v1h-1zM118 182h1v1h-1zM122 182h1v1h-1zM128 182h1v1h-1zM130 182h1v1h-1zM133 182h1v1h-1zM140 182h1v1h-1zM342 182h1v1h-1zM370 182h1v1h-1zM372 182h1v1h-1zM384 182h2v1h-2zM387 182h1v1h-1zM633 182h1v1h-1zM635 182h1v1h-1zM641 182h1v1h-1zM649 182h1v1h-1zM652 182h1v1h-1zM896 182h1v1h-1zM900 182h1v1h-1zM902 182h1v1h-1zM55 183h1v1h-1zM58 183h1v1h-1zM114 183h1v1h-1zM120 183h1v1h-1zM130 183h1v1h-1zM138 183h1v1h-1zM383 183h1v1h-1zM386 183h1v1h-1zM389 183h1v1h-1zM628 183h1v1h-1zM645 183h1v1h-1zM657 183h1v1h-1zM61 184h1v1h-1zM118 184h1v1h-1zM120 184h2v1h-2zM130 184h1v1h-1zM137 184h1v1h-1zM373 184h1v1h-1zM633 184h1v1h-1zM874 184h1v1h-1zM896 184h1v1h-1zM900 184h1v1h-1zM902 184h1v1h-1zM907 184h1v1h-1zM88 185h1v1h-1zM116 185h1v1h-1zM122 185h1v1h-1zM127 185h1v1h-1zM134 185h1v1h-1zM367 185h1v1h-1zM375 185h1v1h-1zM383 185h1v1h-1zM386 185h1v1h-1zM602 185h1v1h-1zM644 185h1v1h-1zM662 185h1v1h-1zM858 185h1v1h-1zM870 185h1v1h-1zM120 186h1v1h-1zM136 186h1v1h-1zM366 186h1v1h-1zM378 186h1v1h-1zM600 186h1v1h-1zM602 186h1v1h-1zM662 186h1v1h-1zM866 186h1v1h-1zM903 186h1v1h-1zM911 186h1v1h-1zM93 187h1v1h-1zM120 187h2v1h-2zM130 187h1v1h-1zM145 187h1v1h-1zM365 187h1v1h-1zM368 187h1v1h-1zM375 187h1v1h-1zM377 187h1v1h-1zM379 187h1v1h-1zM386 187h1v1h-1zM601 187h1v1h-1zM631 187h1v1h-1zM637 187h1v1h-1zM639 187h1v1h-1zM645 187h1v1h-1zM667 187h1v1h-1zM860 187h1v1h-1zM863 187h1v1h-1zM865 187h1v1h-1zM873 187h1v1h-1zM905 187h1v1h-1zM908 187h1v1h-1zM127 188h1v1h-1zM337 188h1v1h-1zM359 188h1v1h-1zM377 188h1v1h-1zM379 188h1v1h-1zM382 188h1v1h-1zM598 188h1v1h-1zM628 188h1v1h-1zM630 188h1v1h-1zM649 188h1v1h-1zM658 188h1v1h-1zM890 188h1v1h-1zM907 188h1v1h-1zM910 188h1v1h-1zM66 189h1v1h-1zM78 189h1v1h-1zM124 189h2v1h-2zM133 189h2v1h-2zM136 189h1v1h-1zM154 189h1v1h-1zM359 189h1v1h-1zM361 189h1v1h-1zM377 189h1v1h-1zM385 189h1v1h-1zM632 189h1v1h-1zM635 189h1v1h-1zM864 189h1v1h-1zM867 189h1v1h-1zM901 189h1v1h-1zM908 189h1v1h-1zM911 189h1v1h-1zM67 190h1v1h-1zM123 190h1v1h-1zM335 190h1v1h-1zM354 190h1v1h-1zM375 190h1v1h-1zM600 190h1v1h-1zM630 190h2v1h-2zM643 190h1v1h-1zM651 190h1v1h-1zM667 190h1v1h-1zM874 190h1v1h-1zM904 190h1v1h-1zM908 190h1v1h-1zM81 191h1v1h-1zM86 191h1v1h-1zM122 191h1v1h-1zM124 191h1v1h-1zM126 191h1v1h-1zM132 191h2v1h-2zM137 191h1v1h-1zM366 191h1v1h-1zM372 191h1v1h-1zM375 191h1v1h-1zM634 191h1v1h-1zM638 191h1v1h-1zM640 191h1v1h-1zM648 191h1v1h-1zM865 191h1v1h-1zM899 191h1v1h-1zM903 191h1v1h-1zM907 191h1v1h-1zM69 192h1v1h-1zM79 192h1v1h-1zM84 192h1v1h-1zM89 192h1v1h-1zM95 192h1v1h-1zM124 192h1v1h-1zM149 192h1v1h-1zM351 192h1v1h-1zM362 192h1v1h-1zM601 192h2v1h-2zM903 192h1v1h-1zM68 193h1v1h-1zM81 193h1v1h-1zM99 193h1v1h-1zM128 193h1v1h-1zM135 193h1v1h-1zM137 193h1v1h-1zM149 193h1v1h-1zM348 193h1v1h-1zM350 193h1v1h-1zM368 193h1v1h-1zM601 193h1v1h-1zM627 193h1v1h-1zM632 193h1v1h-1zM641 193h1v1h-1zM645 193h1v1h-1zM859 193h1v1h-1zM869 193h1v1h-1zM902 193h1v1h-1zM96 194h1v1h-1zM136 194h1v1h-1zM332 194h1v1h-1zM349 194h1v1h-1zM352 194h1v1h-1zM636 194h1v1h-1zM645 194h1v1h-1zM80 195h1v1h-1zM95 195h1v1h-1zM98 195h1v1h-1zM125 195h1v1h-1zM133 195h2v1h-2zM349 195h1v1h-1zM358 195h1v1h-1zM594 195h1v1h-1zM629 195h1v1h-1zM634 195h1v1h-1zM636 195h1v1h-1zM641 195h1v1h-1zM645 195h1v1h-1zM650 195h1v1h-1zM868 195h1v1h-1zM870 195h1v1h-1zM56 196h1v1h-1zM76 196h1v1h-1zM81 196h1v1h-1zM95 196h1v1h-1zM111 196h1v1h-1zM123 196h1v1h-1zM127 196h1v1h-1zM131 196h1v1h-1zM330 196h1v1h-1zM346 196h1v1h-1zM355 196h1v1h-1zM595 196h1v1h-1zM604 196h1v1h-1zM651 196h1v1h-1zM56 197h2v1h-2zM70 197h1v1h-1zM79 197h1v1h-1zM85 197h1v1h-1zM120 197h1v1h-1zM127 197h2v1h-2zM137 197h1v1h-1zM150 197h1v1h-1zM342 197h1v1h-1zM350 197h1v1h-1zM625 197h1v1h-1zM633 197h2v1h-2zM637 197h1v1h-1zM867 197h1v1h-1zM869 197h1v1h-1zM900 197h3v1h-3zM915 197h1v1h-1zM56 198h1v1h-1zM63 198h1v1h-1zM75 198h1v1h-1zM109 198h1v1h-1zM112 198h1v1h-1zM120 198h1v1h-1zM124 198h1v1h-1zM128 198h2v1h-2zM131 198h1v1h-1zM338 198h1v1h-1zM341 198h2v1h-2zM348 198h1v1h-1zM610 198h1v1h-1zM675 198h1v1h-1zM687 198h1v1h-1zM862 198h1v1h-1zM867 198h1v1h-1zM905 198h1v1h-1zM907 198h1v1h-1zM60 199h1v1h-1zM93 199h1v1h-1zM95 199h1v1h-1zM146 199h1v1h-1zM337 199h1v1h-1zM342 199h1v1h-1zM607 199h1v1h-1zM621 199h1v1h-1zM624 199h1v1h-1zM636 199h3v1h-3zM641 199h2v1h-2zM864 199h1v1h-1zM72 200h1v1h-1zM110 200h1v1h-1zM117 200h1v1h-1zM130 200h1v1h-1zM137 200h1v1h-1zM329 200h1v1h-1zM342 200h1v1h-1zM597 200h1v1h-1zM619 200h1v1h-1zM622 200h1v1h-1zM647 200h1v1h-1zM662 200h1v1h-1zM874 200h1v1h-1zM892 200h1v1h-1zM906 200h1v1h-1zM88 201h1v1h-1zM116 201h1v1h-1zM118 201h1v1h-1zM131 201h1v1h-1zM338 201h1v1h-1zM621 201h1v1h-1zM623 201h2v1h-2zM628 201h1v1h-1zM635 201h1v1h-1zM639 201h1v1h-1zM889 201h1v1h-1zM902 201h1v1h-1zM904 201h1v1h-1zM65 202h1v1h-1zM68 202h1v1h-1zM83 202h1v1h-1zM85 202h1v1h-1zM87 202h1v1h-1zM92 202h1v1h-1zM107 202h1v1h-1zM119 202h1v1h-1zM138 202h1v1h-1zM337 202h1v1h-1zM613 202h1v1h-1zM629 202h2v1h-2zM870 202h1v1h-1zM884 202h1v1h-1zM889 202h1v1h-1zM895 202h2v1h-2zM898 202h1v1h-1zM86 203h1v1h-1zM334 203h1v1h-1zM608 203h1v1h-1zM616 203h1v1h-1zM618 203h1v1h-1zM875 203h1v1h-1zM878 203h1v1h-1zM886 203h1v1h-1zM83 204h1v1h-1zM108 204h2v1h-2zM122 204h1v1h-1zM130 204h1v1h-1zM869 204h1v1h-1zM881 204h1v1h-1zM906 204h1v1h-1zM60 205h1v1h-1zM66 205h1v1h-1zM77 205h3v1h-3zM83 205h2v1h-2zM119 205h1v1h-1zM124 205h1v1h-1zM137 205h1v1h-1zM339 205h1v1h-1zM894 205h1v1h-1zM901 205h1v1h-1zM58 206h1v1h-1zM66 206h1v1h-1zM75 206h1v1h-1zM84 206h1v1h-1zM95 206h1v1h-1zM100 206h1v1h-1zM113 206h1v1h-1zM115 206h1v1h-1zM118 206h1v1h-1zM121 206h1v1h-1zM130 206h1v1h-1zM593 206h1v1h-1zM612 206h1v1h-1zM617 206h1v1h-1zM649 206h1v1h-1zM885 206h1v1h-1zM57 207h1v1h-1zM69 207h1v1h-1zM73 207h1v1h-1zM84 207h1v1h-1zM94 207h1v1h-1zM96 207h1v1h-1zM114 207h1v1h-1zM120 207h1v1h-1zM894 207h1v1h-1zM55 208h1v1h-1zM62 208h1v1h-1zM73 208h1v1h-1zM83 208h1v1h-1zM103 208h2v1h-2zM106 208h1v1h-1zM118 208h1v1h-1zM126 208h1v1h-1zM136 208h1v1h-1zM632 208h1v1h-1zM81 209h1v1h-1zM93 209h1v1h-1zM95 209h2v1h-2zM105 209h1v1h-1zM107 209h1v1h-1zM120 209h2v1h-2zM56 210h1v1h-1zM85 210h1v1h-1zM88 210h1v1h-1zM91 210h1v1h-1zM108 210h1v1h-1zM110 210h1v1h-1zM612 210h1v1h-1zM634 210h1v1h-1zM874 210h1v1h-1zM72 211h1v1h-1zM84 211h1v1h-1zM93 211h1v1h-1zM98 211h1v1h-1zM100 211h1v1h-1zM105 211h1v1h-1zM59 212h1v1h-1zM65 212h3v1h-3zM77 212h1v1h-1zM80 212h1v1h-1zM84 212h1v1h-1zM86 212h2v1h-2zM92 212h1v1h-1zM99 212h1v1h-1zM104 212h1v1h-1zM108 212h1v1h-1zM113 212h1v1h-1zM140 212h1v1h-1zM641 212h1v1h-1zM64 213h1v1h-1zM75 213h1v1h-1zM79 213h1v1h-1zM96 213h1v1h-1zM100 213h1v1h-1zM63 214h1v1h-1zM74 214h1v1h-1zM87 214h1v1h-1zM103 214h1v1h-1zM55 215h1v1h-1zM67 215h1v1h-1zM90 257h1v1h-1zM64 260h1v1h-1zM67 264h1v1h-1zM72 266h1v1h-1zM60 268h1v1h-1zM76 276h1v1h-1zM63 281h1v1h-1zM69 285h1v1h-1zM75 285h1v1h-1zM75 287h1v1h-1zM66 288h1v1h-1zM128 289h1v1h-1zM134 292h1v1h-1zM626 298h1v1h-1zM954 298h1v1h-1zM620 299h1v1h-1zM612 300h1v1h-1zM943 300h1v1h-1zM939 301h1v1h-1zM942 301h1v1h-1zM64 302h1v1h-1zM615 302h1v1h-1zM621 302h1v1h-1zM919 302h1v1h-1zM921 302h1v1h-1zM606 303h1v1h-1zM922 303h1v1h-1zM940 303h1v1h-1zM945 303h1v1h-1zM611 304h2v1h-2zM615 304h1v1h-1zM617 304h1v1h-1zM622 304h2v1h-2zM626 304h2v1h-2zM940 304h1v1h-1zM948 304h1v1h-1zM608 305h1v1h-1zM620 305h1v1h-1zM930 305h1v1h-1zM948 305h1v1h-1zM618 306h1v1h-1zM914 306h1v1h-1zM933 306h2v1h-2zM943 306h1v1h-1zM945 306h1v1h-1zM602 307h1v1h-1zM612 307h1v1h-1zM635 307h1v1h-1zM920 307h1v1h-1zM925 307h3v1h-3zM937 307h1v1h-1zM946 307h2v1h-2zM603 308h1v1h-1zM618 308h1v1h-1zM916 308h1v1h-1zM922 308h2v1h-2zM934 308h1v1h-1zM936 308h1v1h-1zM946 308h1v1h-1zM948 308h1v1h-1zM953 308h1v1h-1zM956 308h1v1h-1zM613 309h1v1h-1zM622 309h1v1h-1zM915 309h1v1h-1zM917 309h1v1h-1zM923 309h1v1h-1zM944 309h2v1h-2zM950 309h1v1h-1zM613 310h1v1h-1zM616 310h1v1h-1zM618 310h2v1h-2zM922 310h2v1h-2zM933 310h1v1h-1zM935 310h2v1h-2zM942 310h1v1h-1zM944 310h1v1h-1zM946 310h1v1h-1zM955 310h1v1h-1zM104 311h1v1h-1zM617 311h1v1h-1zM623 311h1v1h-1zM918 311h1v1h-1zM920 311h1v1h-1zM942 311h1v1h-1zM946 311h1v1h-1zM949 311h1v1h-1zM953 311h1v1h-1zM955 311h1v1h-1zM600 312h1v1h-1zM606 312h2v1h-2zM617 312h1v1h-1zM621 312h1v1h-1zM910 312h1v1h-1zM913 312h1v1h-1zM915 312h1v1h-1zM924 312h1v1h-1zM929 312h1v1h-1zM950 312h1v1h-1zM952 312h1v1h-1zM613 313h1v1h-1zM620 313h1v1h-1zM624 313h1v1h-1zM906 313h1v1h-1zM911 313h1v1h-1zM941 313h1v1h-1zM944 313h1v1h-1zM957 313h1v1h-1zM606 314h1v1h-1zM622 314h1v1h-1zM904 314h2v1h-2zM920 314h4v1h-4zM929 314h1v1h-1zM951 314h1v1h-1zM71 315h1v1h-1zM605 315h1v1h-1zM909 315h1v1h-1zM923 315h1v1h-1zM935 315h1v1h-1zM950 315h2v1h-2zM64 316h1v1h-1zM604 316h1v1h-1zM612 316h1v1h-1zM624 316h1v1h-1zM903 316h1v1h-1zM907 316h1v1h-1zM909 316h1v1h-1zM919 316h1v1h-1zM933 316h1v1h-1zM937 316h3v1h-3zM945 316h2v1h-2zM608 317h1v1h-1zM617 317h1v1h-1zM625 317h1v1h-1zM912 317h1v1h-1zM922 317h1v1h-1zM938 317h1v1h-1zM955 317h1v1h-1zM117 318h1v1h-1zM604 318h1v1h-1zM607 318h1v1h-1zM612 318h1v1h-1zM626 318h1v1h-1zM921 318h1v1h-1zM927 318h1v1h-1zM937 318h1v1h-1zM607 319h1v1h-1zM887 319h1v1h-1zM900 319h1v1h-1zM923 319h1v1h-1zM926 319h1v1h-1zM939 319h1v1h-1zM942 319h1v1h-1zM946 319h1v1h-1zM606 320h1v1h-1zM611 320h1v1h-1zM620 320h1v1h-1zM901 320h2v1h-2zM921 320h1v1h-1zM928 320h1v1h-1zM933 320h1v1h-1zM944 320h2v1h-2zM947 320h1v1h-1zM949 320h1v1h-1zM906 321h1v1h-1zM914 321h1v1h-1zM916 321h1v1h-1zM919 321h1v1h-1zM925 321h1v1h-1zM929 321h1v1h-1zM935 321h1v1h-1zM947 321h2v1h-2zM954 321h1v1h-1zM81 322h1v1h-1zM612 322h1v1h-1zM617 322h1v1h-1zM625 322h1v1h-1zM892 322h1v1h-1zM894 322h1v1h-1zM900 322h1v1h-1zM903 322h1v1h-1zM906 322h1v1h-1zM920 322h1v1h-1zM922 322h2v1h-2zM927 322h1v1h-1zM933 322h1v1h-1zM935 322h3v1h-3zM939 322h2v1h-2zM944 322h1v1h-1zM946 322h2v1h-2zM614 323h1v1h-1zM894 323h1v1h-1zM915 323h2v1h-2zM921 323h1v1h-1zM926 323h1v1h-1zM932 323h1v1h-1zM943 323h2v1h-2zM949 323h1v1h-1zM956 323h1v1h-1zM959 323h1v1h-1zM603 324h1v1h-1zM624 324h1v1h-1zM628 324h1v1h-1zM897 324h1v1h-1zM908 324h1v1h-1zM917 324h2v1h-2zM920 324h1v1h-1zM922 324h1v1h-1zM930 324h1v1h-1zM957 324h1v1h-1zM908 325h1v1h-1zM913 325h1v1h-1zM918 325h1v1h-1zM923 325h1v1h-1zM934 325h1v1h-1zM944 325h1v1h-1zM947 325h1v1h-1zM950 325h1v1h-1zM598 326h1v1h-1zM610 326h1v1h-1zM616 326h1v1h-1zM618 326h1v1h-1zM905 326h1v1h-1zM914 326h1v1h-1zM921 326h3v1h-3zM927 326h1v1h-1zM931 326h1v1h-1zM941 326h1v1h-1zM943 326h1v1h-1zM947 326h1v1h-1zM953 326h1v1h-1zM602 327h1v1h-1zM612 327h1v1h-1zM619 327h1v1h-1zM621 327h1v1h-1zM623 327h1v1h-1zM627 327h1v1h-1zM906 327h1v1h-1zM911 327h1v1h-1zM914 327h2v1h-2zM921 327h1v1h-1zM933 327h1v1h-1zM944 327h1v1h-1zM599 328h1v1h-1zM626 328h1v1h-1zM889 328h1v1h-1zM904 328h1v1h-1zM920 328h1v1h-1zM923 328h2v1h-2zM932 328h1v1h-1zM934 328h2v1h-2zM937 328h1v1h-1zM944 328h1v1h-1zM947 328h2v1h-2zM601 329h1v1h-1zM609 329h1v1h-1zM622 329h1v1h-1zM624 329h1v1h-1zM901 329h1v1h-1zM911 329h1v1h-1zM914 329h1v1h-1zM926 329h1v1h-1zM931 329h1v1h-1zM945 329h2v1h-2zM951 329h1v1h-1zM68 330h1v1h-1zM600 330h1v1h-1zM609 330h1v1h-1zM618 330h1v1h-1zM625 330h1v1h-1zM911 330h1v1h-1zM913 330h2v1h-2zM924 330h1v1h-1zM940 330h1v1h-1zM942 330h1v1h-1zM945 330h2v1h-2zM950 330h1v1h-1zM964 330h1v1h-1zM611 331h1v1h-1zM615 331h1v1h-1zM619 331h2v1h-2zM622 331h1v1h-1zM627 331h1v1h-1zM900 331h1v1h-1zM909 331h1v1h-1zM920 331h1v1h-1zM938 331h1v1h-1zM950 331h1v1h-1zM602 332h1v1h-1zM612 332h1v1h-1zM904 332h1v1h-1zM912 332h1v1h-1zM915 332h2v1h-2zM918 332h1v1h-1zM920 332h1v1h-1zM923 332h1v1h-1zM929 332h1v1h-1zM934 332h1v1h-1zM604 333h1v1h-1zM607 333h2v1h-2zM614 333h1v1h-1zM625 333h1v1h-1zM912 333h1v1h-1zM924 333h1v1h-1zM927 333h1v1h-1zM930 333h1v1h-1zM936 333h1v1h-1zM938 333h1v1h-1zM940 333h1v1h-1zM947 333h1v1h-1zM601 334h1v1h-1zM612 334h1v1h-1zM614 334h1v1h-1zM899 334h1v1h-1zM912 334h1v1h-1zM919 334h2v1h-2zM926 334h1v1h-1zM931 334h1v1h-1zM943 334h1v1h-1zM609 335h1v1h-1zM612 335h1v1h-1zM619 335h1v1h-1zM623 335h1v1h-1zM898 335h1v1h-1zM908 335h1v1h-1zM925 335h1v1h-1zM927 335h1v1h-1zM930 335h1v1h-1zM605 336h1v1h-1zM607 336h1v1h-1zM609 336h1v1h-1zM618 336h1v1h-1zM621 336h1v1h-1zM623 336h2v1h-2zM917 336h1v1h-1zM925 336h1v1h-1zM944 336h1v1h-1zM61 337h1v1h-1zM95 337h1v1h-1zM608 337h1v1h-1zM617 337h1v1h-1zM684 337h1v1h-1zM897 337h1v1h-1zM911 337h1v1h-1zM919 337h1v1h-1zM921 337h1v1h-1zM926 337h1v1h-1zM932 337h1v1h-1zM605 338h1v1h-1zM619 338h1v1h-1zM901 338h1v1h-1zM904 338h1v1h-1zM913 338h1v1h-1zM923 338h1v1h-1zM929 338h2v1h-2zM933 338h1v1h-1zM57 339h1v1h-1zM618 339h3v1h-3zM905 339h1v1h-1zM911 339h1v1h-1zM920 339h1v1h-1zM935 339h1v1h-1zM937 339h1v1h-1zM64 340h1v1h-1zM609 340h1v1h-1zM909 340h2v1h-2zM915 340h1v1h-1zM920 340h1v1h-1zM926 340h1v1h-1zM607 341h2v1h-2zM614 341h3v1h-3zM921 341h1v1h-1zM926 341h1v1h-1zM932 341h1v1h-1zM606 342h2v1h-2zM609 342h1v1h-1zM616 342h1v1h-1zM624 342h1v1h-1zM909 342h1v1h-1zM908 343h1v1h-1zM616 344h1v1h-1zM894 345h1v1h-1zM615 346h2v1h-2zM76 351h1v1h-1zM55 353h1v1h-1zM69 356h1v1h-1zM898 356h1v1h-1zM395 357h1v1h-1zM384 358h1v1h-1zM380 360h1v1h-1zM381 362h1v1h-1zM376 363h2v1h-2zM382 363h1v1h-1zM80 364h1v1h-1zM381 364h1v1h-1zM379 365h1v1h-1zM913 365h1v1h-1zM80 366h1v1h-1zM147 366h1v1h-1zM380 367h1v1h-1zM63 368h1v1h-1zM69 368h1v1h-1zM136 368h1v1h-1zM378 368h1v1h-1zM904 368h1v1h-1zM62 369h1v1h-1zM69 369h1v1h-1zM371 369h1v1h-1zM56 370h1v1h-1zM117 371h1v1h-1zM368 371h1v1h-1zM370 371h1v1h-1zM379 371h1v1h-1zM373 372h1v1h-1zM890 372h1v1h-1zM68 373h1v1h-1zM55 374h1v1h-1zM131 374h1v1h-1zM365 374h1v1h-1zM372 374h1v1h-1zM387 374h1v1h-1zM108 375h1v1h-1zM140 375h1v1h-1zM386 375h1v1h-1zM67 376h1v1h-1zM120 376h1v1h-1zM363 376h1v1h-1zM367 376h1v1h-1zM61 377h1v1h-1zM102 377h1v1h-1zM374 377h1v1h-1zM116 378h1v1h-1zM119 378h1v1h-1zM362 378h1v1h-1zM887 378h1v1h-1zM123 379h1v1h-1zM361 379h2v1h-2zM81 380h1v1h-1zM120 380h1v1h-1zM362 380h1v1h-1zM610 380h1v1h-1zM622 380h1v1h-1zM914 380h1v1h-1zM125 381h1v1h-1zM352 381h1v1h-1zM881 381h1v1h-1zM888 381h1v1h-1zM105 382h1v1h-1zM114 382h2v1h-2zM119 382h1v1h-1zM122 382h1v1h-1zM55 383h1v1h-1zM112 383h1v1h-1zM118 383h1v1h-1zM120 383h1v1h-1zM366 383h1v1h-1zM377 383h1v1h-1zM610 383h1v1h-1zM885 383h1v1h-1zM899 383h1v1h-1zM888 384h1v1h-1zM59 385h1v1h-1zM109 385h1v1h-1zM116 385h1v1h-1zM121 385h2v1h-2zM127 385h1v1h-1zM129 385h1v1h-1zM360 385h1v1h-1zM611 385h2v1h-2zM887 385h1v1h-1zM60 386h1v1h-1zM74 386h1v1h-1zM96 386h1v1h-1zM113 386h3v1h-3zM127 386h1v1h-1zM352 386h1v1h-1zM354 386h1v1h-1zM616 386h1v1h-1zM885 386h1v1h-1zM92 387h1v1h-1zM96 387h1v1h-1zM105 387h1v1h-1zM108 387h2v1h-2zM112 387h1v1h-1zM120 387h1v1h-1zM122 387h1v1h-1zM348 387h1v1h-1zM361 387h1v1h-1zM614 387h2v1h-2zM876 387h1v1h-1zM883 387h1v1h-1zM886 387h1v1h-1zM99 388h2v1h-2zM104 388h1v1h-1zM116 388h1v1h-1zM118 388h1v1h-1zM348 388h1v1h-1zM351 388h1v1h-1zM883 388h1v1h-1zM890 388h1v1h-1zM56 389h1v1h-1zM95 389h1v1h-1zM99 389h1v1h-1zM103 389h1v1h-1zM105 389h1v1h-1zM107 389h1v1h-1zM112 389h2v1h-2zM120 389h1v1h-1zM354 389h1v1h-1zM882 389h2v1h-2zM890 389h1v1h-1zM60 390h1v1h-1zM98 390h1v1h-1zM105 390h1v1h-1zM111 390h1v1h-1zM117 390h1v1h-1zM347 390h1v1h-1zM349 390h2v1h-2zM82 391h1v1h-1zM94 391h2v1h-2zM124 391h1v1h-1zM615 391h1v1h-1zM76 392h1v1h-1zM89 392h1v1h-1zM91 392h1v1h-1zM103 392h1v1h-1zM117 392h1v1h-1zM347 392h1v1h-1zM614 392h1v1h-1zM57 393h1v1h-1zM94 393h2v1h-2zM103 393h1v1h-1zM115 393h1v1h-1zM122 393h1v1h-1zM344 393h1v1h-1zM346 393h1v1h-1zM608 393h1v1h-1zM883 393h1v1h-1zM87 394h1v1h-1zM92 394h1v1h-1zM98 394h1v1h-1zM112 394h1v1h-1zM83 395h1v1h-1zM91 395h1v1h-1zM117 395h1v1h-1zM611 395h1v1h-1zM883 395h1v1h-1zM893 395h1v1h-1zM91 396h1v1h-1zM95 396h1v1h-1zM97 396h2v1h-2zM106 396h1v1h-1zM361 396h1v1h-1zM57 397h1v1h-1zM92 397h3v1h-3zM97 397h1v1h-1zM100 397h2v1h-2zM106 397h1v1h-1zM110 397h1v1h-1zM89 398h1v1h-1zM98 398h1v1h-1zM110 398h1v1h-1zM611 398h1v1h-1zM617 398h1v1h-1zM918 398h1v1h-1zM62 399h1v1h-1zM92 399h1v1h-1zM94 399h1v1h-1zM99 399h1v1h-1zM106 399h2v1h-2zM111 399h1v1h-1zM606 399h1v1h-1zM69 400h1v1h-1zM85 400h1v1h-1zM96 400h1v1h-1zM105 400h1v1h-1zM117 400h1v1h-1zM58 401h1v1h-1zM86 401h2v1h-2zM91 401h1v1h-1zM93 401h1v1h-1zM95 401h1v1h-1zM97 401h1v1h-1zM105 401h1v1h-1zM69 402h1v1h-1zM85 402h1v1h-1zM88 402h1v1h-1zM96 402h1v1h-1zM98 402h1v1h-1zM112 402h1v1h-1zM63 403h2v1h-2zM76 403h1v1h-1zM88 403h1v1h-1zM92 403h1v1h-1zM97 403h1v1h-1zM104 403h1v1h-1zM71 404h1v1h-1zM77 404h1v1h-1zM97 404h1v1h-1zM101 404h1v1h-1zM60 405h1v1h-1zM87 405h2v1h-2zM95 405h1v1h-1zM97 405h1v1h-1zM96 406h1v1h-1zM99 406h1v1h-1zM111 406h1v1h-1zM94 407h1v1h-1zM117 407h1v1h-1zM72 408h1v1h-1zM89 408h1v1h-1zM109 408h1v1h-1zM90 409h1v1h-1zM64 410h1v1h-1zM69 410h1v1h-1zM59 411h1v1h-1zM65 411h1v1h-1zM84 412h1v1h-1zM62 413h1v1h-1zM88 414h1v1h-1zM55 417h1v1h-1zM61 417h1v1h-1zM55 420h1v1h-1zM60 422h1v1h-1zM63 422h1v1h-1zM66 422h1v1h-1zM63 423h1v1h-1z" fill="#737373"/><path d="M130 32h1v1h-1zM141 32h1v1h-1zM145 32h1v1h-1zM147 32h1v1h-1zM151 32h1v1h-1zM156 32h1v1h-1zM158 32h1v1h-1zM163 32h1v1h-1zM166 32h1v1h-1zM175 32h3v1h-3zM225 32h1v1h-1zM122 33h1v1h-1zM132 33h1v1h-1zM136 33h1v1h-1zM144 33h1v1h-1zM147 33h1v1h-1zM150 33h1v1h-1zM154 33h1v1h-1zM165 33h1v1h-1zM167 33h2v1h-2zM171 33h2v1h-2zM178 33h1v1h-1zM189 33h1v1h-1zM231 33h1v1h-1zM129 34h1v1h-1zM135 34h1v1h-1zM140 34h2v1h-2zM144 34h1v1h-1zM148 34h1v1h-1zM155 34h3v1h-3zM175 34h1v1h-1zM195 34h1v1h-1zM204 34h1v1h-1zM126 35h1v1h-1zM130 35h1v1h-1zM137 35h1v1h-1zM144 35h1v1h-1zM152 35h1v1h-1zM155 35h2v1h-2zM161 35h2v1h-2zM170 35h1v1h-1zM174 35h1v1h-1zM176 35h1v1h-1zM200 35h1v1h-1zM133 36h1v1h-1zM138 36h1v1h-1zM158 36h1v1h-1zM167 36h1v1h-1zM170 36h2v1h-2zM194 36h1v1h-1zM121 37h1v1h-1zM130 37h2v1h-2zM149 37h1v1h-1zM153 37h1v1h-1zM158 37h1v1h-1zM170 37h1v1h-1zM176 37h2v1h-2zM184 37h1v1h-1zM187 37h1v1h-1zM130 38h1v1h-1zM132 38h1v1h-1zM139 38h1v1h-1zM163 38h1v1h-1zM167 38h1v1h-1zM169 38h2v1h-2zM179 38h1v1h-1zM184 38h1v1h-1zM189 38h1v1h-1zM200 38h1v1h-1zM207 38h1v1h-1zM119 39h1v1h-1zM123 39h2v1h-2zM137 39h1v1h-1zM139 39h1v1h-1zM141 39h1v1h-1zM146 39h3v1h-3zM153 39h1v1h-1zM155 39h1v1h-1zM159 39h1v1h-1zM161 39h1v1h-1zM163 39h1v1h-1zM167 39h1v1h-1zM225 39h1v1h-1zM112 40h1v1h-1zM123 40h1v1h-1zM128 40h1v1h-1zM135 40h2v1h-2zM139 40h1v1h-1zM151 40h1v1h-1zM153 40h1v1h-1zM155 40h1v1h-1zM159 40h1v1h-1zM165 40h1v1h-1zM172 40h1v1h-1zM176 40h1v1h-1zM198 40h1v1h-1zM215 40h2v1h-2zM83 41h1v1h-1zM120 41h1v1h-1zM127 41h2v1h-2zM141 41h1v1h-1zM150 41h2v1h-2zM153 41h1v1h-1zM155 41h2v1h-2zM168 41h2v1h-2zM185 41h1v1h-1zM196 41h1v1h-1zM208 41h1v1h-1zM116 42h1v1h-1zM124 42h1v1h-1zM131 42h1v1h-1zM136 42h1v1h-1zM146 42h2v1h-2zM149 42h1v1h-1zM151 42h1v1h-1zM154 42h1v1h-1zM159 42h1v1h-1zM167 42h1v1h-1zM176 42h1v1h-1zM178 42h1v1h-1zM194 42h1v1h-1zM223 42h1v1h-1zM120 43h1v1h-1zM123 43h2v1h-2zM130 43h1v1h-1zM132 43h2v1h-2zM144 43h1v1h-1zM149 43h2v1h-2zM155 43h1v1h-1zM161 43h1v1h-1zM169 43h1v1h-1zM171 43h1v1h-1zM116 44h1v1h-1zM119 44h1v1h-1zM124 44h1v1h-1zM139 44h2v1h-2zM142 44h1v1h-1zM150 44h1v1h-1zM152 44h1v1h-1zM155 44h1v1h-1zM170 44h1v1h-1zM173 44h1v1h-1zM187 44h1v1h-1zM200 44h1v1h-1zM237 44h1v1h-1zM116 45h1v1h-1zM119 45h1v1h-1zM122 45h2v1h-2zM128 45h2v1h-2zM133 45h1v1h-1zM144 45h1v1h-1zM147 45h2v1h-2zM150 45h1v1h-1zM164 45h1v1h-1zM173 45h1v1h-1zM175 45h2v1h-2zM181 45h1v1h-1zM204 45h1v1h-1zM234 45h1v1h-1zM117 46h1v1h-1zM121 46h1v1h-1zM126 46h1v1h-1zM137 46h1v1h-1zM143 46h1v1h-1zM157 46h1v1h-1zM161 46h2v1h-2zM169 46h3v1h-3zM174 46h1v1h-1zM182 46h2v1h-2zM188 46h1v1h-1zM123 47h2v1h-2zM132 47h2v1h-2zM147 47h2v1h-2zM152 47h1v1h-1zM155 47h1v1h-1zM165 47h1v1h-1zM236 47h1v1h-1zM118 48h1v1h-1zM121 48h1v1h-1zM131 48h1v1h-1zM133 48h1v1h-1zM135 48h2v1h-2zM147 48h2v1h-2zM155 48h1v1h-1zM158 48h1v1h-1zM163 48h2v1h-2zM167 48h1v1h-1zM172 48h1v1h-1zM177 48h1v1h-1zM183 48h1v1h-1zM209 48h1v1h-1zM229 48h1v1h-1zM114 49h2v1h-2zM123 49h3v1h-3zM142 49h2v1h-2zM157 49h1v1h-1zM163 49h1v1h-1zM174 49h2v1h-2zM178 49h1v1h-1zM183 49h1v1h-1zM225 49h1v1h-1zM115 50h1v1h-1zM123 50h1v1h-1zM128 50h1v1h-1zM135 50h1v1h-1zM137 50h2v1h-2zM143 50h3v1h-3zM150 50h1v1h-1zM153 50h1v1h-1zM172 50h1v1h-1zM176 50h1v1h-1zM186 50h1v1h-1zM195 50h1v1h-1zM197 50h1v1h-1zM130 51h1v1h-1zM132 51h1v1h-1zM134 51h1v1h-1zM137 51h1v1h-1zM142 51h1v1h-1zM144 51h1v1h-1zM149 51h1v1h-1zM151 51h2v1h-2zM159 51h1v1h-1zM174 51h1v1h-1zM176 51h1v1h-1zM193 51h1v1h-1zM196 51h1v1h-1zM99 52h1v1h-1zM118 52h1v1h-1zM131 52h1v1h-1zM133 52h2v1h-2zM148 52h1v1h-1zM153 52h1v1h-1zM159 52h2v1h-2zM163 52h1v1h-1zM121 53h1v1h-1zM127 53h1v1h-1zM129 53h1v1h-1zM141 53h1v1h-1zM176 53h1v1h-1zM181 53h1v1h-1zM227 53h1v1h-1zM231 53h1v1h-1zM113 54h1v1h-1zM119 54h2v1h-2zM145 54h1v1h-1zM152 54h1v1h-1zM158 54h1v1h-1zM168 54h1v1h-1zM174 54h1v1h-1zM177 54h1v1h-1zM179 54h1v1h-1zM208 54h1v1h-1zM113 55h1v1h-1zM117 55h1v1h-1zM120 55h1v1h-1zM123 55h1v1h-1zM127 55h2v1h-2zM132 55h1v1h-1zM137 55h1v1h-1zM140 55h1v1h-1zM144 55h1v1h-1zM149 55h1v1h-1zM153 55h1v1h-1zM155 55h3v1h-3zM161 55h1v1h-1zM176 55h2v1h-2zM182 55h1v1h-1zM186 55h1v1h-1zM133 56h1v1h-1zM141 56h1v1h-1zM144 56h1v1h-1zM147 56h1v1h-1zM149 56h1v1h-1zM155 56h2v1h-2zM171 56h2v1h-2zM179 56h1v1h-1zM203 56h1v1h-1zM214 56h1v1h-1zM92 57h1v1h-1zM119 57h1v1h-1zM122 57h2v1h-2zM128 57h1v1h-1zM133 57h1v1h-1zM137 57h1v1h-1zM164 57h1v1h-1zM166 57h2v1h-2zM169 57h1v1h-1zM171 57h1v1h-1zM173 57h1v1h-1zM175 57h2v1h-2zM180 57h1v1h-1zM102 58h1v1h-1zM107 58h1v1h-1zM110 58h1v1h-1zM117 58h1v1h-1zM120 58h1v1h-1zM123 58h1v1h-1zM128 58h1v1h-1zM144 58h1v1h-1zM156 58h1v1h-1zM158 58h1v1h-1zM177 58h1v1h-1zM179 58h1v1h-1zM220 58h2v1h-2zM232 58h1v1h-1zM108 59h1v1h-1zM110 59h1v1h-1zM114 59h2v1h-2zM117 59h1v1h-1zM120 59h1v1h-1zM132 59h1v1h-1zM134 59h1v1h-1zM154 59h1v1h-1zM156 59h1v1h-1zM159 59h1v1h-1zM161 59h1v1h-1zM165 59h1v1h-1zM170 59h1v1h-1zM174 59h1v1h-1zM126 60h1v1h-1zM131 60h1v1h-1zM149 60h1v1h-1zM164 60h1v1h-1zM166 60h1v1h-1zM172 60h1v1h-1zM183 60h2v1h-2zM198 60h1v1h-1zM92 61h1v1h-1zM116 61h1v1h-1zM122 61h1v1h-1zM124 61h1v1h-1zM127 61h1v1h-1zM139 61h1v1h-1zM141 61h1v1h-1zM145 61h1v1h-1zM156 61h2v1h-2zM167 61h1v1h-1zM170 61h1v1h-1zM172 61h1v1h-1zM174 61h1v1h-1zM179 61h1v1h-1zM103 62h1v1h-1zM111 62h1v1h-1zM115 62h1v1h-1zM119 62h2v1h-2zM130 62h1v1h-1zM142 62h2v1h-2zM150 62h1v1h-1zM155 62h1v1h-1zM157 62h2v1h-2zM166 62h2v1h-2zM200 62h1v1h-1zM104 63h1v1h-1zM109 63h1v1h-1zM111 63h2v1h-2zM120 63h1v1h-1zM132 63h1v1h-1zM142 63h1v1h-1zM145 63h1v1h-1zM147 63h2v1h-2zM153 63h1v1h-1zM161 63h2v1h-2zM167 63h1v1h-1zM169 63h1v1h-1zM175 63h1v1h-1zM180 63h1v1h-1zM184 63h1v1h-1zM101 64h1v1h-1zM103 64h1v1h-1zM107 64h1v1h-1zM109 64h1v1h-1zM118 64h1v1h-1zM127 64h1v1h-1zM130 64h3v1h-3zM134 64h1v1h-1zM137 64h2v1h-2zM140 64h2v1h-2zM147 64h2v1h-2zM157 64h1v1h-1zM175 64h1v1h-1zM180 64h1v1h-1zM183 64h1v1h-1zM221 64h1v1h-1zM237 64h1v1h-1zM106 65h1v1h-1zM110 65h1v1h-1zM116 65h1v1h-1zM120 65h1v1h-1zM129 65h1v1h-1zM135 65h1v1h-1zM137 65h1v1h-1zM148 65h1v1h-1zM157 65h1v1h-1zM160 65h2v1h-2zM164 65h1v1h-1zM166 65h1v1h-1zM168 65h2v1h-2zM171 65h1v1h-1zM173 65h1v1h-1zM181 65h1v1h-1zM108 66h1v1h-1zM110 66h1v1h-1zM120 66h1v1h-1zM129 66h1v1h-1zM131 66h1v1h-1zM133 66h1v1h-1zM138 66h1v1h-1zM141 66h1v1h-1zM146 66h1v1h-1zM150 66h1v1h-1zM152 66h1v1h-1zM155 66h2v1h-2zM169 66h1v1h-1zM178 66h2v1h-2zM216 66h1v1h-1zM106 67h1v1h-1zM108 67h1v1h-1zM110 67h1v1h-1zM118 67h1v1h-1zM120 67h2v1h-2zM123 67h1v1h-1zM134 67h2v1h-2zM141 67h2v1h-2zM156 67h1v1h-1zM161 67h1v1h-1zM163 67h1v1h-1zM165 67h1v1h-1zM172 67h1v1h-1zM175 67h1v1h-1zM179 67h1v1h-1zM189 67h1v1h-1zM192 67h1v1h-1zM106 68h1v1h-1zM110 68h1v1h-1zM119 68h1v1h-1zM122 68h1v1h-1zM127 68h1v1h-1zM140 68h1v1h-1zM152 68h1v1h-1zM154 68h1v1h-1zM156 68h1v1h-1zM160 68h1v1h-1zM167 68h1v1h-1zM172 68h1v1h-1zM178 68h1v1h-1zM99 69h1v1h-1zM106 69h1v1h-1zM110 69h1v1h-1zM115 69h1v1h-1zM118 69h1v1h-1zM130 69h1v1h-1zM134 69h1v1h-1zM136 69h1v1h-1zM143 69h1v1h-1zM145 69h1v1h-1zM162 69h1v1h-1zM166 69h2v1h-2zM174 69h1v1h-1zM178 69h1v1h-1zM181 69h1v1h-1zM220 69h1v1h-1zM223 69h1v1h-1zM86 70h1v1h-1zM105 70h1v1h-1zM110 70h2v1h-2zM118 70h1v1h-1zM120 70h1v1h-1zM122 70h1v1h-1zM125 70h1v1h-1zM132 70h1v1h-1zM141 70h2v1h-2zM145 70h1v1h-1zM156 70h1v1h-1zM161 70h1v1h-1zM166 70h1v1h-1zM178 70h1v1h-1zM217 70h1v1h-1zM102 71h1v1h-1zM106 71h1v1h-1zM112 71h1v1h-1zM115 71h1v1h-1zM120 71h1v1h-1zM122 71h1v1h-1zM128 71h1v1h-1zM136 71h1v1h-1zM140 71h1v1h-1zM150 71h2v1h-2zM153 71h1v1h-1zM156 71h1v1h-1zM164 71h1v1h-1zM180 71h1v1h-1zM109 72h1v1h-1zM113 72h1v1h-1zM121 72h1v1h-1zM125 72h1v1h-1zM132 72h3v1h-3zM138 72h1v1h-1zM145 72h2v1h-2zM151 72h1v1h-1zM154 72h1v1h-1zM161 72h1v1h-1zM164 72h1v1h-1zM168 72h2v1h-2zM177 72h1v1h-1zM189 72h1v1h-1zM92 73h1v1h-1zM104 73h1v1h-1zM128 73h1v1h-1zM134 73h1v1h-1zM143 73h2v1h-2zM146 73h1v1h-1zM158 73h1v1h-1zM161 73h1v1h-1zM166 73h1v1h-1zM168 73h1v1h-1zM171 73h1v1h-1zM97 74h1v1h-1zM99 74h1v1h-1zM102 74h1v1h-1zM123 74h1v1h-1zM134 74h1v1h-1zM139 74h1v1h-1zM148 74h1v1h-1zM151 74h1v1h-1zM156 74h1v1h-1zM159 74h1v1h-1zM161 74h1v1h-1zM167 74h1v1h-1zM175 74h1v1h-1zM196 74h1v1h-1zM198 74h1v1h-1zM87 75h1v1h-1zM104 75h1v1h-1zM110 75h1v1h-1zM128 75h1v1h-1zM144 75h1v1h-1zM146 75h1v1h-1zM151 75h3v1h-3zM156 75h1v1h-1zM159 75h1v1h-1zM161 75h1v1h-1zM176 75h1v1h-1zM190 75h1v1h-1zM101 76h1v1h-1zM134 76h1v1h-1zM137 76h1v1h-1zM144 76h1v1h-1zM147 76h1v1h-1zM174 76h1v1h-1zM192 76h1v1h-1zM216 76h1v1h-1zM230 76h1v1h-1zM97 77h2v1h-2zM102 77h1v1h-1zM106 77h2v1h-2zM129 77h1v1h-1zM131 77h1v1h-1zM142 77h1v1h-1zM146 77h2v1h-2zM153 77h1v1h-1zM155 77h1v1h-1zM158 77h2v1h-2zM163 77h2v1h-2zM167 77h1v1h-1zM180 77h1v1h-1zM80 78h1v1h-1zM98 78h2v1h-2zM103 78h1v1h-1zM111 78h1v1h-1zM124 78h1v1h-1zM140 78h4v1h-4zM145 78h1v1h-1zM159 78h2v1h-2zM162 78h1v1h-1zM173 78h1v1h-1zM92 79h1v1h-1zM96 79h1v1h-1zM137 79h1v1h-1zM140 79h3v1h-3zM155 79h2v1h-2zM159 79h1v1h-1zM166 79h1v1h-1zM171 79h1v1h-1zM180 79h1v1h-1zM183 79h1v1h-1zM195 79h1v1h-1zM203 79h1v1h-1zM141 80h1v1h-1zM150 80h1v1h-1zM173 80h1v1h-1zM180 80h1v1h-1zM204 80h1v1h-1zM228 80h1v1h-1zM85 81h1v1h-1zM94 81h1v1h-1zM96 81h1v1h-1zM100 81h1v1h-1zM104 81h1v1h-1zM161 81h1v1h-1zM163 81h2v1h-2zM169 81h1v1h-1zM172 81h1v1h-1zM206 81h1v1h-1zM96 82h1v1h-1zM98 82h2v1h-2zM104 82h1v1h-1zM117 82h1v1h-1zM126 82h1v1h-1zM149 82h1v1h-1zM156 82h1v1h-1zM162 82h1v1h-1zM165 82h1v1h-1zM95 83h2v1h-2zM100 83h1v1h-1zM114 83h1v1h-1zM170 83h1v1h-1zM145 84h1v1h-1zM149 84h1v1h-1zM155 84h1v1h-1zM158 84h1v1h-1zM162 84h1v1h-1zM164 84h1v1h-1zM166 84h1v1h-1zM173 84h1v1h-1zM199 84h1v1h-1zM205 84h1v1h-1zM90 85h1v1h-1zM93 85h1v1h-1zM95 85h1v1h-1zM103 85h1v1h-1zM108 85h1v1h-1zM122 85h1v1h-1zM126 85h1v1h-1zM138 85h2v1h-2zM144 85h1v1h-1zM147 85h1v1h-1zM152 85h1v1h-1zM81 86h1v1h-1zM86 86h1v1h-1zM90 86h1v1h-1zM93 86h1v1h-1zM96 86h2v1h-2zM106 86h1v1h-1zM114 86h2v1h-2zM120 86h1v1h-1zM123 86h1v1h-1zM154 86h1v1h-1zM163 86h1v1h-1zM196 86h1v1h-1zM97 87h1v1h-1zM107 87h1v1h-1zM113 87h1v1h-1zM115 87h3v1h-3zM143 87h1v1h-1zM147 87h1v1h-1zM149 87h1v1h-1zM151 87h1v1h-1zM154 87h3v1h-3zM158 87h1v1h-1zM187 87h1v1h-1zM210 87h1v1h-1zM94 88h1v1h-1zM111 88h2v1h-2zM122 88h1v1h-1zM142 88h1v1h-1zM150 88h2v1h-2zM156 88h1v1h-1zM159 88h2v1h-2zM162 88h2v1h-2zM165 88h1v1h-1zM168 88h1v1h-1zM178 88h1v1h-1zM82 89h1v1h-1zM92 89h1v1h-1zM94 89h1v1h-1zM96 89h1v1h-1zM110 89h2v1h-2zM113 89h2v1h-2zM122 89h1v1h-1zM147 89h2v1h-2zM151 89h1v1h-1zM153 89h1v1h-1zM156 89h1v1h-1zM158 89h1v1h-1zM164 89h1v1h-1zM172 89h1v1h-1zM192 89h1v1h-1zM208 89h1v1h-1zM225 89h1v1h-1zM613 89h1v1h-1zM87 90h1v1h-1zM94 90h2v1h-2zM118 90h1v1h-1zM120 90h2v1h-2zM128 90h1v1h-1zM149 90h1v1h-1zM158 90h1v1h-1zM161 90h1v1h-1zM166 90h2v1h-2zM172 90h2v1h-2zM199 90h1v1h-1zM84 91h1v1h-1zM96 91h1v1h-1zM115 91h1v1h-1zM117 91h1v1h-1zM136 91h1v1h-1zM143 91h1v1h-1zM151 91h1v1h-1zM155 91h1v1h-1zM161 91h1v1h-1zM170 91h2v1h-2zM173 91h1v1h-1zM214 91h1v1h-1zM621 91h1v1h-1zM77 92h1v1h-1zM90 92h1v1h-1zM100 92h1v1h-1zM116 92h2v1h-2zM120 92h1v1h-1zM141 92h1v1h-1zM147 92h1v1h-1zM153 92h1v1h-1zM158 92h2v1h-2zM932 92h1v1h-1zM92 93h1v1h-1zM94 93h1v1h-1zM108 93h1v1h-1zM120 93h2v1h-2zM136 93h1v1h-1zM143 93h1v1h-1zM154 93h1v1h-1zM159 93h1v1h-1zM163 93h2v1h-2zM172 93h1v1h-1zM183 93h1v1h-1zM218 93h1v1h-1zM617 93h1v1h-1zM869 93h1v1h-1zM879 93h1v1h-1zM892 93h1v1h-1zM79 94h1v1h-1zM108 94h3v1h-3zM151 94h1v1h-1zM158 94h1v1h-1zM167 94h1v1h-1zM172 94h1v1h-1zM208 94h1v1h-1zM214 94h1v1h-1zM90 95h1v1h-1zM92 95h1v1h-1zM107 95h1v1h-1zM110 95h1v1h-1zM113 95h1v1h-1zM146 95h1v1h-1zM148 95h1v1h-1zM152 95h2v1h-2zM159 95h1v1h-1zM162 95h1v1h-1zM166 95h1v1h-1zM176 95h1v1h-1zM931 95h1v1h-1zM80 96h1v1h-1zM86 96h1v1h-1zM88 96h1v1h-1zM92 96h1v1h-1zM95 96h1v1h-1zM103 96h1v1h-1zM106 96h2v1h-2zM110 96h2v1h-2zM115 96h1v1h-1zM121 96h1v1h-1zM150 96h1v1h-1zM153 96h2v1h-2zM160 96h1v1h-1zM164 96h1v1h-1zM192 96h1v1h-1zM601 96h1v1h-1zM608 96h2v1h-2zM875 96h1v1h-1zM888 96h1v1h-1zM942 96h1v1h-1zM81 97h2v1h-2zM87 97h1v1h-1zM92 97h1v1h-1zM106 97h2v1h-2zM130 97h1v1h-1zM149 97h1v1h-1zM152 97h1v1h-1zM155 97h1v1h-1zM159 97h1v1h-1zM166 97h2v1h-2zM171 97h1v1h-1zM202 97h1v1h-1zM599 97h1v1h-1zM609 97h1v1h-1zM611 97h1v1h-1zM885 97h1v1h-1zM888 97h1v1h-1zM926 97h1v1h-1zM78 98h1v1h-1zM85 98h2v1h-2zM88 98h2v1h-2zM91 98h1v1h-1zM94 98h1v1h-1zM106 98h3v1h-3zM111 98h1v1h-1zM113 98h1v1h-1zM120 98h1v1h-1zM137 98h1v1h-1zM142 98h1v1h-1zM145 98h1v1h-1zM149 98h1v1h-1zM158 98h1v1h-1zM161 98h1v1h-1zM165 98h2v1h-2zM189 98h1v1h-1zM206 98h1v1h-1zM605 98h1v1h-1zM608 98h1v1h-1zM613 98h1v1h-1zM880 98h1v1h-1zM882 98h1v1h-1zM884 98h1v1h-1zM886 98h2v1h-2zM891 98h2v1h-2zM73 99h1v1h-1zM81 99h1v1h-1zM87 99h2v1h-2zM91 99h1v1h-1zM104 99h1v1h-1zM111 99h1v1h-1zM114 99h1v1h-1zM117 99h1v1h-1zM134 99h1v1h-1zM136 99h1v1h-1zM143 99h1v1h-1zM148 99h1v1h-1zM156 99h1v1h-1zM159 99h1v1h-1zM163 99h1v1h-1zM171 99h1v1h-1zM608 99h1v1h-1zM879 99h1v1h-1zM881 99h1v1h-1zM884 99h1v1h-1zM886 99h5v1h-5zM82 100h1v1h-1zM85 100h1v1h-1zM92 100h1v1h-1zM96 100h1v1h-1zM105 100h1v1h-1zM109 100h1v1h-1zM118 100h1v1h-1zM120 100h1v1h-1zM122 100h1v1h-1zM144 100h2v1h-2zM148 100h2v1h-2zM153 100h3v1h-3zM160 100h1v1h-1zM163 100h1v1h-1zM605 100h1v1h-1zM617 100h1v1h-1zM622 100h1v1h-1zM880 100h1v1h-1zM888 100h1v1h-1zM891 100h3v1h-3zM936 100h1v1h-1zM84 101h1v1h-1zM89 101h1v1h-1zM97 101h1v1h-1zM105 101h1v1h-1zM107 101h1v1h-1zM116 101h1v1h-1zM120 101h1v1h-1zM122 101h1v1h-1zM131 101h1v1h-1zM141 101h3v1h-3zM145 101h1v1h-1zM150 101h1v1h-1zM153 101h1v1h-1zM157 101h1v1h-1zM168 101h1v1h-1zM170 101h1v1h-1zM205 101h1v1h-1zM606 101h1v1h-1zM608 101h1v1h-1zM621 101h1v1h-1zM879 101h2v1h-2zM888 101h1v1h-1zM891 101h2v1h-2zM919 101h1v1h-1zM924 101h1v1h-1zM82 102h1v1h-1zM87 102h1v1h-1zM93 102h1v1h-1zM101 102h1v1h-1zM103 102h1v1h-1zM111 102h1v1h-1zM142 102h1v1h-1zM147 102h1v1h-1zM153 102h1v1h-1zM155 102h2v1h-2zM165 102h1v1h-1zM193 102h1v1h-1zM605 102h1v1h-1zM617 102h1v1h-1zM871 102h3v1h-3zM876 102h1v1h-1zM882 102h1v1h-1zM888 102h1v1h-1zM936 102h1v1h-1zM946 102h1v1h-1zM73 103h1v1h-1zM76 103h2v1h-2zM83 103h1v1h-1zM87 103h1v1h-1zM89 103h1v1h-1zM92 103h1v1h-1zM94 103h1v1h-1zM119 103h1v1h-1zM122 103h1v1h-1zM126 103h1v1h-1zM146 103h3v1h-3zM155 103h1v1h-1zM189 103h1v1h-1zM619 103h1v1h-1zM621 103h1v1h-1zM872 103h1v1h-1zM874 103h1v1h-1zM890 103h2v1h-2zM927 103h1v1h-1zM933 103h1v1h-1zM91 104h1v1h-1zM93 104h1v1h-1zM113 104h2v1h-2zM116 104h1v1h-1zM121 104h1v1h-1zM125 104h1v1h-1zM141 104h1v1h-1zM148 104h1v1h-1zM151 104h1v1h-1zM157 104h1v1h-1zM160 104h1v1h-1zM188 104h1v1h-1zM201 104h1v1h-1zM229 104h1v1h-1zM606 104h1v1h-1zM615 104h1v1h-1zM873 104h1v1h-1zM879 104h2v1h-2zM891 104h1v1h-1zM893 104h1v1h-1zM898 104h1v1h-1zM918 104h1v1h-1zM923 104h1v1h-1zM66 105h1v1h-1zM83 105h1v1h-1zM85 105h1v1h-1zM88 105h1v1h-1zM101 105h1v1h-1zM106 105h2v1h-2zM115 105h1v1h-1zM123 105h1v1h-1zM141 105h1v1h-1zM147 105h1v1h-1zM153 105h1v1h-1zM163 105h1v1h-1zM165 105h1v1h-1zM608 105h1v1h-1zM617 105h1v1h-1zM869 105h1v1h-1zM876 105h3v1h-3zM892 105h2v1h-2zM904 105h1v1h-1zM913 105h1v1h-1zM919 105h1v1h-1zM75 106h1v1h-1zM85 106h1v1h-1zM100 106h1v1h-1zM104 106h3v1h-3zM109 106h1v1h-1zM116 106h1v1h-1zM122 106h1v1h-1zM148 106h2v1h-2zM152 106h1v1h-1zM154 106h1v1h-1zM160 106h1v1h-1zM162 106h1v1h-1zM167 106h1v1h-1zM605 106h1v1h-1zM621 106h1v1h-1zM871 106h1v1h-1zM878 106h1v1h-1zM891 106h2v1h-2zM897 106h1v1h-1zM900 106h1v1h-1zM917 106h1v1h-1zM953 106h1v1h-1zM81 107h1v1h-1zM83 107h1v1h-1zM87 107h1v1h-1zM91 107h1v1h-1zM98 107h1v1h-1zM101 107h1v1h-1zM114 107h1v1h-1zM118 107h1v1h-1zM123 107h1v1h-1zM125 107h1v1h-1zM132 107h1v1h-1zM140 107h1v1h-1zM157 107h1v1h-1zM604 107h1v1h-1zM606 107h1v1h-1zM867 107h1v1h-1zM869 107h1v1h-1zM876 107h2v1h-2zM893 107h2v1h-2zM936 107h1v1h-1zM76 108h1v1h-1zM90 108h1v1h-1zM93 108h1v1h-1zM109 108h1v1h-1zM111 108h1v1h-1zM115 108h1v1h-1zM120 108h1v1h-1zM126 108h1v1h-1zM132 108h1v1h-1zM134 108h1v1h-1zM144 108h1v1h-1zM150 108h1v1h-1zM153 108h1v1h-1zM155 108h1v1h-1zM159 108h1v1h-1zM171 108h1v1h-1zM194 108h1v1h-1zM601 108h1v1h-1zM604 108h1v1h-1zM617 108h1v1h-1zM871 108h1v1h-1zM887 108h1v1h-1zM891 108h1v1h-1zM897 108h1v1h-1zM901 108h1v1h-1zM921 108h2v1h-2zM943 108h1v1h-1zM77 109h1v1h-1zM89 109h1v1h-1zM99 109h1v1h-1zM104 109h1v1h-1zM117 109h1v1h-1zM120 109h1v1h-1zM122 109h2v1h-2zM142 109h2v1h-2zM146 109h2v1h-2zM155 109h1v1h-1zM157 109h1v1h-1zM171 109h1v1h-1zM196 109h1v1h-1zM203 109h1v1h-1zM603 109h1v1h-1zM615 109h1v1h-1zM618 109h1v1h-1zM626 109h1v1h-1zM866 109h1v1h-1zM870 109h1v1h-1zM875 109h1v1h-1zM890 109h1v1h-1zM928 109h1v1h-1zM70 110h1v1h-1zM72 110h1v1h-1zM79 110h1v1h-1zM86 110h1v1h-1zM91 110h1v1h-1zM106 110h1v1h-1zM109 110h1v1h-1zM111 110h1v1h-1zM124 110h1v1h-1zM126 110h2v1h-2zM131 110h1v1h-1zM141 110h2v1h-2zM147 110h3v1h-3zM154 110h1v1h-1zM160 110h1v1h-1zM197 110h1v1h-1zM603 110h1v1h-1zM618 110h1v1h-1zM870 110h1v1h-1zM894 110h1v1h-1zM896 110h1v1h-1zM903 110h1v1h-1zM926 110h2v1h-2zM81 111h2v1h-2zM85 111h1v1h-1zM87 111h1v1h-1zM91 111h1v1h-1zM103 111h1v1h-1zM112 111h1v1h-1zM115 111h1v1h-1zM144 111h1v1h-1zM155 111h2v1h-2zM164 111h1v1h-1zM617 111h1v1h-1zM874 111h1v1h-1zM893 111h1v1h-1zM895 111h1v1h-1zM913 111h1v1h-1zM916 111h1v1h-1zM926 111h1v1h-1zM71 112h1v1h-1zM76 112h1v1h-1zM78 112h1v1h-1zM82 112h1v1h-1zM84 112h1v1h-1zM110 112h1v1h-1zM119 112h1v1h-1zM139 112h3v1h-3zM144 112h1v1h-1zM152 112h1v1h-1zM154 112h1v1h-1zM162 112h2v1h-2zM185 112h1v1h-1zM192 112h1v1h-1zM200 112h1v1h-1zM202 112h1v1h-1zM217 112h1v1h-1zM600 112h1v1h-1zM606 112h1v1h-1zM876 112h1v1h-1zM878 112h1v1h-1zM890 112h1v1h-1zM892 112h1v1h-1zM896 112h1v1h-1zM919 112h2v1h-2zM927 112h1v1h-1zM75 113h1v1h-1zM77 113h1v1h-1zM82 113h1v1h-1zM85 113h1v1h-1zM89 113h1v1h-1zM101 113h1v1h-1zM105 113h1v1h-1zM108 113h4v1h-4zM116 113h1v1h-1zM140 113h1v1h-1zM145 113h1v1h-1zM148 113h1v1h-1zM153 113h1v1h-1zM156 113h2v1h-2zM160 113h1v1h-1zM163 113h1v1h-1zM600 113h1v1h-1zM604 113h3v1h-3zM869 113h1v1h-1zM876 113h1v1h-1zM891 113h1v1h-1zM923 113h1v1h-1zM925 113h1v1h-1zM929 113h1v1h-1zM65 114h1v1h-1zM77 114h1v1h-1zM80 114h1v1h-1zM82 114h1v1h-1zM85 114h1v1h-1zM108 114h2v1h-2zM115 114h2v1h-2zM121 114h1v1h-1zM124 114h2v1h-2zM128 114h1v1h-1zM137 114h1v1h-1zM139 114h1v1h-1zM149 114h1v1h-1zM154 114h1v1h-1zM178 114h1v1h-1zM605 114h1v1h-1zM616 114h1v1h-1zM876 114h1v1h-1zM878 114h1v1h-1zM890 114h2v1h-2zM928 114h1v1h-1zM77 115h1v1h-1zM85 115h1v1h-1zM87 115h1v1h-1zM96 115h1v1h-1zM100 115h1v1h-1zM117 115h1v1h-1zM145 115h1v1h-1zM150 115h1v1h-1zM161 115h3v1h-3zM172 115h1v1h-1zM205 115h1v1h-1zM604 115h1v1h-1zM606 115h1v1h-1zM871 115h1v1h-1zM884 115h1v1h-1zM892 115h1v1h-1zM941 115h1v1h-1zM86 116h2v1h-2zM106 116h1v1h-1zM117 116h2v1h-2zM132 116h1v1h-1zM136 116h1v1h-1zM138 116h1v1h-1zM151 116h1v1h-1zM154 116h1v1h-1zM163 116h1v1h-1zM615 116h1v1h-1zM617 116h1v1h-1zM859 116h1v1h-1zM875 116h3v1h-3zM880 116h1v1h-1zM888 116h2v1h-2zM892 116h1v1h-1zM914 116h1v1h-1zM927 116h1v1h-1zM930 116h1v1h-1zM74 117h1v1h-1zM81 117h1v1h-1zM87 117h1v1h-1zM99 117h1v1h-1zM102 117h1v1h-1zM106 117h1v1h-1zM110 117h1v1h-1zM117 117h1v1h-1zM119 117h1v1h-1zM148 117h1v1h-1zM151 117h1v1h-1zM163 117h1v1h-1zM168 117h1v1h-1zM199 117h1v1h-1zM605 117h1v1h-1zM607 117h1v1h-1zM617 117h2v1h-2zM878 117h1v1h-1zM880 117h2v1h-2zM884 117h2v1h-2zM888 117h1v1h-1zM890 117h1v1h-1zM910 117h1v1h-1zM913 117h1v1h-1zM921 117h1v1h-1zM926 117h1v1h-1zM73 118h1v1h-1zM81 118h1v1h-1zM83 118h1v1h-1zM93 118h2v1h-2zM105 118h1v1h-1zM107 118h1v1h-1zM116 118h2v1h-2zM121 118h2v1h-2zM130 118h1v1h-1zM135 118h2v1h-2zM145 118h1v1h-1zM153 118h2v1h-2zM167 118h1v1h-1zM607 118h1v1h-1zM873 118h1v1h-1zM875 118h1v1h-1zM898 118h1v1h-1zM922 118h1v1h-1zM68 119h1v1h-1zM70 119h1v1h-1zM73 119h2v1h-2zM78 119h1v1h-1zM84 119h1v1h-1zM89 119h1v1h-1zM100 119h1v1h-1zM112 119h1v1h-1zM114 119h1v1h-1zM119 119h2v1h-2zM139 119h1v1h-1zM142 119h1v1h-1zM144 119h1v1h-1zM149 119h1v1h-1zM152 119h1v1h-1zM156 119h1v1h-1zM163 119h1v1h-1zM167 119h1v1h-1zM608 119h1v1h-1zM610 119h1v1h-1zM614 119h1v1h-1zM875 119h1v1h-1zM879 119h1v1h-1zM881 119h1v1h-1zM891 119h1v1h-1zM915 119h2v1h-2zM930 119h1v1h-1zM65 120h1v1h-1zM73 120h1v1h-1zM79 120h1v1h-1zM84 120h1v1h-1zM98 120h1v1h-1zM105 120h1v1h-1zM109 120h2v1h-2zM114 120h1v1h-1zM116 120h1v1h-1zM121 120h2v1h-2zM137 120h1v1h-1zM144 120h1v1h-1zM154 120h3v1h-3zM204 120h1v1h-1zM609 120h1v1h-1zM617 120h1v1h-1zM878 120h1v1h-1zM884 120h1v1h-1zM891 120h1v1h-1zM893 120h1v1h-1zM898 120h1v1h-1zM913 120h1v1h-1zM923 120h1v1h-1zM925 120h1v1h-1zM65 121h1v1h-1zM72 121h1v1h-1zM83 121h3v1h-3zM89 121h2v1h-2zM101 121h1v1h-1zM104 121h1v1h-1zM114 121h1v1h-1zM118 121h1v1h-1zM123 121h1v1h-1zM135 121h1v1h-1zM140 121h2v1h-2zM144 121h1v1h-1zM149 121h2v1h-2zM157 121h1v1h-1zM200 121h1v1h-1zM607 121h2v1h-2zM883 121h1v1h-1zM888 121h1v1h-1zM890 121h1v1h-1zM921 121h1v1h-1zM927 121h1v1h-1zM60 122h1v1h-1zM62 122h1v1h-1zM80 122h1v1h-1zM83 122h1v1h-1zM87 122h1v1h-1zM92 122h1v1h-1zM99 122h1v1h-1zM101 122h1v1h-1zM106 122h1v1h-1zM117 122h1v1h-1zM139 122h2v1h-2zM154 122h1v1h-1zM158 122h1v1h-1zM161 122h1v1h-1zM166 122h1v1h-1zM170 122h1v1h-1zM616 122h1v1h-1zM619 122h1v1h-1zM876 122h1v1h-1zM878 122h1v1h-1zM882 122h1v1h-1zM886 122h3v1h-3zM890 122h2v1h-2zM914 122h1v1h-1zM58 123h1v1h-1zM74 123h1v1h-1zM94 123h1v1h-1zM100 123h1v1h-1zM103 123h1v1h-1zM106 123h1v1h-1zM119 123h1v1h-1zM121 123h1v1h-1zM141 123h1v1h-1zM145 123h1v1h-1zM154 123h1v1h-1zM156 123h1v1h-1zM158 123h1v1h-1zM172 123h1v1h-1zM608 123h1v1h-1zM617 123h1v1h-1zM869 123h1v1h-1zM881 123h1v1h-1zM886 123h1v1h-1zM895 123h1v1h-1zM915 123h1v1h-1zM70 124h1v1h-1zM74 124h1v1h-1zM76 124h1v1h-1zM78 124h2v1h-2zM83 124h1v1h-1zM85 124h1v1h-1zM105 124h2v1h-2zM112 124h1v1h-1zM114 124h1v1h-1zM125 124h1v1h-1zM139 124h1v1h-1zM143 124h1v1h-1zM145 124h1v1h-1zM147 124h1v1h-1zM154 124h1v1h-1zM158 124h1v1h-1zM163 124h1v1h-1zM194 124h1v1h-1zM608 124h2v1h-2zM616 124h1v1h-1zM620 124h1v1h-1zM874 124h1v1h-1zM881 124h2v1h-2zM886 124h1v1h-1zM916 124h1v1h-1zM66 125h1v1h-1zM68 125h1v1h-1zM78 125h1v1h-1zM86 125h3v1h-3zM100 125h2v1h-2zM103 125h1v1h-1zM106 125h1v1h-1zM109 125h1v1h-1zM138 125h1v1h-1zM144 125h1v1h-1zM150 125h1v1h-1zM163 125h1v1h-1zM178 125h1v1h-1zM878 125h1v1h-1zM880 125h1v1h-1zM882 125h1v1h-1zM889 125h1v1h-1zM69 126h2v1h-2zM74 126h1v1h-1zM80 126h1v1h-1zM84 126h1v1h-1zM90 126h1v1h-1zM100 126h1v1h-1zM106 126h2v1h-2zM109 126h1v1h-1zM111 126h1v1h-1zM143 126h3v1h-3zM155 126h1v1h-1zM174 126h1v1h-1zM605 126h1v1h-1zM617 126h1v1h-1zM884 126h1v1h-1zM890 126h1v1h-1zM894 126h1v1h-1zM916 126h1v1h-1zM930 126h1v1h-1zM71 127h1v1h-1zM87 127h2v1h-2zM102 127h1v1h-1zM106 127h1v1h-1zM110 127h1v1h-1zM112 127h1v1h-1zM114 127h1v1h-1zM116 127h1v1h-1zM118 127h2v1h-2zM121 127h1v1h-1zM135 127h1v1h-1zM137 127h1v1h-1zM139 127h1v1h-1zM154 127h1v1h-1zM156 127h1v1h-1zM160 127h1v1h-1zM188 127h1v1h-1zM605 127h1v1h-1zM611 127h1v1h-1zM613 127h1v1h-1zM615 127h1v1h-1zM623 127h1v1h-1zM884 127h1v1h-1zM889 127h1v1h-1zM918 127h1v1h-1zM68 128h1v1h-1zM71 128h1v1h-1zM87 128h1v1h-1zM104 128h1v1h-1zM111 128h1v1h-1zM123 128h1v1h-1zM135 128h1v1h-1zM138 128h1v1h-1zM147 128h1v1h-1zM153 128h1v1h-1zM157 128h1v1h-1zM611 128h1v1h-1zM620 128h1v1h-1zM881 128h1v1h-1zM885 128h1v1h-1zM887 128h1v1h-1zM889 128h1v1h-1zM891 128h1v1h-1zM66 129h1v1h-1zM72 129h1v1h-1zM79 129h1v1h-1zM96 129h1v1h-1zM98 129h1v1h-1zM100 129h1v1h-1zM107 129h1v1h-1zM109 129h1v1h-1zM112 129h1v1h-1zM115 129h1v1h-1zM117 129h1v1h-1zM137 129h1v1h-1zM142 129h1v1h-1zM151 129h1v1h-1zM171 129h1v1h-1zM607 129h1v1h-1zM874 129h1v1h-1zM879 129h1v1h-1zM885 129h1v1h-1zM890 129h1v1h-1zM935 129h1v1h-1zM71 130h1v1h-1zM73 130h1v1h-1zM79 130h1v1h-1zM82 130h1v1h-1zM86 130h1v1h-1zM90 130h1v1h-1zM99 130h2v1h-2zM106 130h1v1h-1zM109 130h2v1h-2zM112 130h2v1h-2zM126 130h1v1h-1zM136 130h4v1h-4zM141 130h1v1h-1zM147 130h1v1h-1zM149 130h1v1h-1zM158 130h1v1h-1zM162 130h1v1h-1zM181 130h1v1h-1zM403 130h1v1h-1zM606 130h1v1h-1zM609 130h1v1h-1zM621 130h1v1h-1zM888 130h1v1h-1zM926 130h1v1h-1zM67 131h2v1h-2zM74 131h1v1h-1zM79 131h4v1h-4zM101 131h1v1h-1zM107 131h2v1h-2zM116 131h1v1h-1zM122 131h1v1h-1zM129 131h1v1h-1zM134 131h1v1h-1zM142 131h1v1h-1zM153 131h1v1h-1zM163 131h1v1h-1zM165 131h1v1h-1zM402 131h1v1h-1zM405 131h1v1h-1zM607 131h1v1h-1zM611 131h1v1h-1zM618 131h1v1h-1zM881 131h1v1h-1zM886 131h1v1h-1zM890 131h1v1h-1zM70 132h1v1h-1zM74 132h1v1h-1zM92 132h1v1h-1zM97 132h1v1h-1zM100 132h1v1h-1zM106 132h1v1h-1zM110 132h1v1h-1zM116 132h1v1h-1zM118 132h1v1h-1zM135 132h1v1h-1zM139 132h1v1h-1zM147 132h1v1h-1zM178 132h1v1h-1zM400 132h1v1h-1zM403 132h2v1h-2zM890 132h1v1h-1zM921 132h1v1h-1zM63 133h1v1h-1zM65 133h1v1h-1zM76 133h1v1h-1zM79 133h2v1h-2zM85 133h2v1h-2zM95 133h1v1h-1zM105 133h1v1h-1zM107 133h1v1h-1zM111 133h2v1h-2zM116 133h1v1h-1zM118 133h1v1h-1zM137 133h3v1h-3zM144 133h1v1h-1zM147 133h2v1h-2zM153 133h1v1h-1zM155 133h1v1h-1zM161 133h1v1h-1zM402 133h2v1h-2zM407 133h1v1h-1zM618 133h1v1h-1zM621 133h1v1h-1zM879 133h1v1h-1zM882 133h1v1h-1zM886 133h1v1h-1zM918 133h1v1h-1zM62 134h1v1h-1zM65 134h1v1h-1zM73 134h2v1h-2zM79 134h2v1h-2zM83 134h3v1h-3zM87 134h1v1h-1zM101 134h2v1h-2zM105 134h1v1h-1zM117 134h1v1h-1zM120 134h1v1h-1zM123 134h1v1h-1zM127 134h1v1h-1zM136 134h1v1h-1zM138 134h1v1h-1zM143 134h2v1h-2zM182 134h1v1h-1zM398 134h2v1h-2zM612 134h1v1h-1zM618 134h1v1h-1zM880 134h1v1h-1zM883 134h1v1h-1zM886 134h2v1h-2zM64 135h1v1h-1zM71 135h1v1h-1zM83 135h1v1h-1zM106 135h1v1h-1zM135 135h2v1h-2zM139 135h1v1h-1zM142 135h1v1h-1zM145 135h1v1h-1zM152 135h1v1h-1zM154 135h1v1h-1zM176 135h1v1h-1zM396 135h2v1h-2zM405 135h1v1h-1zM604 135h1v1h-1zM615 135h3v1h-3zM656 135h1v1h-1zM880 135h2v1h-2zM883 135h1v1h-1zM899 135h1v1h-1zM68 136h2v1h-2zM74 136h1v1h-1zM76 136h1v1h-1zM78 136h1v1h-1zM84 136h1v1h-1zM86 136h1v1h-1zM88 136h1v1h-1zM103 136h1v1h-1zM107 136h1v1h-1zM109 136h1v1h-1zM150 136h1v1h-1zM155 136h1v1h-1zM396 136h1v1h-1zM399 136h1v1h-1zM403 136h1v1h-1zM606 136h2v1h-2zM617 136h1v1h-1zM888 136h1v1h-1zM63 137h1v1h-1zM65 137h1v1h-1zM69 137h1v1h-1zM76 137h1v1h-1zM86 137h1v1h-1zM91 137h2v1h-2zM97 137h1v1h-1zM104 137h1v1h-1zM107 137h2v1h-2zM112 137h1v1h-1zM136 137h1v1h-1zM144 137h1v1h-1zM152 137h1v1h-1zM161 137h1v1h-1zM177 137h1v1h-1zM399 137h1v1h-1zM406 137h1v1h-1zM606 137h2v1h-2zM609 137h1v1h-1zM614 137h2v1h-2zM617 137h1v1h-1zM881 137h1v1h-1zM883 137h1v1h-1zM886 137h1v1h-1zM888 137h2v1h-2zM76 138h1v1h-1zM81 138h1v1h-1zM83 138h1v1h-1zM88 138h1v1h-1zM100 138h1v1h-1zM102 138h1v1h-1zM125 138h1v1h-1zM145 138h1v1h-1zM147 138h1v1h-1zM393 138h1v1h-1zM397 138h1v1h-1zM400 138h1v1h-1zM406 138h1v1h-1zM609 138h1v1h-1zM614 138h1v1h-1zM885 138h1v1h-1zM80 139h1v1h-1zM92 139h1v1h-1zM104 139h1v1h-1zM108 139h1v1h-1zM110 139h1v1h-1zM113 139h1v1h-1zM116 139h1v1h-1zM127 139h1v1h-1zM131 139h1v1h-1zM141 139h1v1h-1zM147 139h1v1h-1zM157 139h1v1h-1zM389 139h1v1h-1zM392 139h1v1h-1zM403 139h1v1h-1zM601 139h1v1h-1zM608 139h2v1h-2zM611 139h2v1h-2zM615 139h2v1h-2zM679 139h1v1h-1zM881 139h1v1h-1zM889 139h1v1h-1zM67 140h1v1h-1zM69 140h1v1h-1zM73 140h1v1h-1zM75 140h1v1h-1zM85 140h1v1h-1zM90 140h1v1h-1zM106 140h1v1h-1zM112 140h1v1h-1zM134 140h2v1h-2zM137 140h1v1h-1zM146 140h2v1h-2zM397 140h1v1h-1zM612 140h2v1h-2zM618 140h1v1h-1zM888 140h1v1h-1zM896 140h1v1h-1zM62 141h1v1h-1zM67 141h1v1h-1zM73 141h1v1h-1zM77 141h2v1h-2zM80 141h1v1h-1zM85 141h1v1h-1zM92 141h1v1h-1zM104 141h3v1h-3zM110 141h1v1h-1zM132 141h1v1h-1zM139 141h1v1h-1zM141 141h1v1h-1zM148 141h1v1h-1zM186 141h1v1h-1zM390 141h2v1h-2zM396 141h1v1h-1zM400 141h1v1h-1zM405 141h2v1h-2zM604 141h1v1h-1zM610 141h1v1h-1zM615 141h1v1h-1zM619 141h1v1h-1zM623 141h1v1h-1zM625 141h1v1h-1zM889 141h1v1h-1zM63 142h1v1h-1zM80 142h2v1h-2zM83 142h1v1h-1zM87 142h1v1h-1zM106 142h1v1h-1zM123 142h1v1h-1zM128 142h1v1h-1zM130 142h1v1h-1zM136 142h1v1h-1zM138 142h1v1h-1zM140 142h1v1h-1zM144 142h1v1h-1zM168 142h1v1h-1zM399 142h1v1h-1zM604 142h1v1h-1zM613 142h1v1h-1zM617 142h1v1h-1zM71 143h2v1h-2zM74 143h1v1h-1zM80 143h1v1h-1zM84 143h1v1h-1zM104 143h2v1h-2zM108 143h1v1h-1zM132 143h1v1h-1zM144 143h1v1h-1zM150 143h1v1h-1zM152 143h1v1h-1zM385 143h1v1h-1zM391 143h1v1h-1zM399 143h1v1h-1zM610 143h1v1h-1zM613 143h2v1h-2zM620 143h3v1h-3zM872 143h1v1h-1zM65 144h1v1h-1zM77 144h2v1h-2zM82 144h1v1h-1zM105 144h1v1h-1zM107 144h2v1h-2zM111 144h1v1h-1zM130 144h2v1h-2zM135 144h1v1h-1zM137 144h1v1h-1zM139 144h1v1h-1zM156 144h1v1h-1zM171 144h1v1h-1zM385 144h1v1h-1zM396 144h1v1h-1zM612 144h2v1h-2zM617 144h1v1h-1zM878 144h1v1h-1zM886 144h1v1h-1zM889 144h1v1h-1zM57 145h1v1h-1zM68 145h1v1h-1zM74 145h1v1h-1zM88 145h1v1h-1zM109 145h2v1h-2zM112 145h1v1h-1zM131 145h2v1h-2zM136 145h1v1h-1zM149 145h1v1h-1zM155 145h1v1h-1zM400 145h1v1h-1zM614 145h2v1h-2zM618 145h1v1h-1zM890 145h1v1h-1zM897 145h1v1h-1zM64 146h1v1h-1zM69 146h1v1h-1zM75 146h1v1h-1zM78 146h1v1h-1zM80 146h1v1h-1zM91 146h1v1h-1zM103 146h3v1h-3zM138 146h1v1h-1zM140 146h1v1h-1zM155 146h1v1h-1zM157 146h1v1h-1zM162 146h1v1h-1zM406 146h1v1h-1zM610 146h1v1h-1zM612 146h1v1h-1zM620 146h2v1h-2zM623 146h1v1h-1zM625 146h1v1h-1zM876 146h1v1h-1zM881 146h1v1h-1zM883 146h1v1h-1zM889 146h1v1h-1zM65 147h1v1h-1zM67 147h1v1h-1zM70 147h1v1h-1zM72 147h1v1h-1zM74 147h1v1h-1zM83 147h2v1h-2zM103 147h1v1h-1zM106 147h1v1h-1zM109 147h1v1h-1zM130 147h1v1h-1zM136 147h1v1h-1zM140 147h1v1h-1zM142 147h1v1h-1zM144 147h2v1h-2zM150 147h1v1h-1zM159 147h1v1h-1zM381 147h2v1h-2zM393 147h1v1h-1zM402 147h1v1h-1zM617 147h1v1h-1zM625 147h1v1h-1zM880 147h1v1h-1zM882 147h1v1h-1zM887 147h1v1h-1zM890 147h2v1h-2zM893 147h1v1h-1zM60 148h1v1h-1zM62 148h1v1h-1zM64 148h2v1h-2zM70 148h3v1h-3zM75 148h2v1h-2zM80 148h1v1h-1zM86 148h1v1h-1zM115 148h1v1h-1zM132 148h1v1h-1zM142 148h1v1h-1zM149 148h1v1h-1zM377 148h1v1h-1zM379 148h1v1h-1zM389 148h1v1h-1zM393 148h1v1h-1zM608 148h1v1h-1zM615 148h1v1h-1zM621 148h2v1h-2zM629 148h1v1h-1zM652 148h1v1h-1zM879 148h1v1h-1zM882 148h1v1h-1zM885 148h2v1h-2zM64 149h1v1h-1zM67 149h1v1h-1zM79 149h1v1h-1zM82 149h1v1h-1zM87 149h1v1h-1zM100 149h1v1h-1zM103 149h1v1h-1zM106 149h1v1h-1zM108 149h1v1h-1zM119 149h1v1h-1zM125 149h1v1h-1zM145 149h1v1h-1zM148 149h1v1h-1zM377 149h1v1h-1zM392 149h1v1h-1zM396 149h1v1h-1zM607 149h1v1h-1zM612 149h2v1h-2zM615 149h1v1h-1zM623 149h1v1h-1zM627 149h1v1h-1zM56 150h1v1h-1zM58 150h1v1h-1zM63 150h1v1h-1zM69 150h1v1h-1zM74 150h1v1h-1zM77 150h1v1h-1zM79 150h1v1h-1zM81 150h1v1h-1zM84 150h4v1h-4zM103 150h2v1h-2zM109 150h1v1h-1zM131 150h1v1h-1zM134 150h1v1h-1zM138 150h1v1h-1zM142 150h1v1h-1zM173 150h1v1h-1zM377 150h2v1h-2zM408 150h1v1h-1zM611 150h1v1h-1zM621 150h1v1h-1zM623 150h1v1h-1zM873 150h1v1h-1zM882 150h2v1h-2zM66 151h1v1h-1zM73 151h1v1h-1zM76 151h2v1h-2zM79 151h1v1h-1zM82 151h2v1h-2zM91 151h1v1h-1zM94 151h1v1h-1zM102 151h1v1h-1zM125 151h1v1h-1zM128 151h4v1h-4zM139 151h1v1h-1zM146 151h1v1h-1zM149 151h1v1h-1zM151 151h1v1h-1zM165 151h1v1h-1zM375 151h1v1h-1zM389 151h1v1h-1zM391 151h2v1h-2zM408 151h1v1h-1zM614 151h1v1h-1zM881 151h1v1h-1zM63 152h1v1h-1zM68 152h1v1h-1zM73 152h1v1h-1zM76 152h2v1h-2zM85 152h1v1h-1zM89 152h1v1h-1zM93 152h1v1h-1zM96 152h1v1h-1zM107 152h1v1h-1zM121 152h1v1h-1zM123 152h1v1h-1zM125 152h1v1h-1zM128 152h1v1h-1zM131 152h1v1h-1zM139 152h2v1h-2zM145 152h1v1h-1zM147 152h1v1h-1zM150 152h1v1h-1zM390 152h1v1h-1zM400 152h1v1h-1zM407 152h1v1h-1zM610 152h1v1h-1zM613 152h1v1h-1zM616 152h1v1h-1zM620 152h1v1h-1zM626 152h1v1h-1zM887 152h1v1h-1zM61 153h1v1h-1zM70 153h1v1h-1zM95 153h1v1h-1zM97 153h1v1h-1zM100 153h1v1h-1zM103 153h1v1h-1zM106 153h1v1h-1zM110 153h2v1h-2zM124 153h2v1h-2zM129 153h1v1h-1zM134 153h1v1h-1zM142 153h2v1h-2zM148 153h1v1h-1zM610 153h1v1h-1zM615 153h2v1h-2zM620 153h1v1h-1zM881 153h1v1h-1zM887 153h1v1h-1zM59 154h2v1h-2zM62 154h1v1h-1zM64 154h2v1h-2zM97 154h1v1h-1zM104 154h1v1h-1zM109 154h1v1h-1zM123 154h4v1h-4zM128 154h1v1h-1zM131 154h3v1h-3zM140 154h1v1h-1zM373 154h1v1h-1zM407 154h1v1h-1zM596 154h1v1h-1zM614 154h1v1h-1zM616 154h1v1h-1zM619 154h1v1h-1zM624 154h1v1h-1zM628 154h1v1h-1zM67 155h1v1h-1zM81 155h2v1h-2zM84 155h1v1h-1zM96 155h2v1h-2zM101 155h1v1h-1zM104 155h1v1h-1zM109 155h1v1h-1zM117 155h1v1h-1zM124 155h1v1h-1zM126 155h1v1h-1zM128 155h1v1h-1zM132 155h2v1h-2zM140 155h1v1h-1zM142 155h1v1h-1zM153 155h1v1h-1zM157 155h1v1h-1zM371 155h1v1h-1zM396 155h1v1h-1zM400 155h1v1h-1zM406 155h1v1h-1zM608 155h1v1h-1zM613 155h1v1h-1zM617 155h2v1h-2zM623 155h1v1h-1zM881 155h1v1h-1zM55 156h1v1h-1zM57 156h1v1h-1zM63 156h2v1h-2zM66 156h1v1h-1zM71 156h1v1h-1zM73 156h1v1h-1zM76 156h1v1h-1zM79 156h1v1h-1zM86 156h1v1h-1zM103 156h2v1h-2zM108 156h2v1h-2zM127 156h1v1h-1zM130 156h2v1h-2zM134 156h1v1h-1zM138 156h1v1h-1zM142 156h1v1h-1zM384 156h1v1h-1zM401 156h1v1h-1zM407 156h1v1h-1zM598 156h1v1h-1zM601 156h1v1h-1zM605 156h1v1h-1zM621 156h4v1h-4zM627 156h1v1h-1zM638 156h1v1h-1zM880 156h1v1h-1zM61 157h1v1h-1zM65 157h1v1h-1zM81 157h1v1h-1zM84 157h1v1h-1zM97 157h1v1h-1zM101 157h1v1h-1zM105 157h1v1h-1zM107 157h2v1h-2zM121 157h1v1h-1zM124 157h2v1h-2zM135 157h1v1h-1zM138 157h1v1h-1zM140 157h1v1h-1zM143 157h1v1h-1zM146 157h1v1h-1zM160 157h1v1h-1zM370 157h1v1h-1zM406 157h3v1h-3zM605 157h2v1h-2zM610 157h1v1h-1zM622 157h1v1h-1zM624 157h1v1h-1zM626 157h2v1h-2zM646 157h1v1h-1zM889 157h1v1h-1zM894 157h1v1h-1zM59 158h1v1h-1zM69 158h1v1h-1zM77 158h1v1h-1zM84 158h2v1h-2zM94 158h1v1h-1zM96 158h1v1h-1zM105 158h1v1h-1zM109 158h1v1h-1zM122 158h1v1h-1zM127 158h1v1h-1zM139 158h1v1h-1zM143 158h1v1h-1zM166 158h1v1h-1zM393 158h1v1h-1zM400 158h1v1h-1zM407 158h1v1h-1zM610 158h1v1h-1zM629 158h1v1h-1zM632 158h1v1h-1zM874 158h1v1h-1zM892 158h1v1h-1zM55 159h1v1h-1zM57 159h1v1h-1zM63 159h1v1h-1zM65 159h1v1h-1zM67 159h1v1h-1zM75 159h1v1h-1zM78 159h1v1h-1zM87 159h2v1h-2zM97 159h1v1h-1zM102 159h1v1h-1zM111 159h1v1h-1zM121 159h1v1h-1zM126 159h1v1h-1zM130 159h1v1h-1zM140 159h3v1h-3zM171 159h1v1h-1zM379 159h1v1h-1zM399 159h2v1h-2zM402 159h1v1h-1zM407 159h1v1h-1zM622 159h1v1h-1zM881 159h1v1h-1zM889 159h1v1h-1zM891 159h1v1h-1zM57 160h1v1h-1zM62 160h1v1h-1zM73 160h1v1h-1zM79 160h3v1h-3zM90 160h1v1h-1zM100 160h2v1h-2zM103 160h1v1h-1zM105 160h2v1h-2zM117 160h1v1h-1zM125 160h1v1h-1zM131 160h2v1h-2zM137 160h1v1h-1zM153 160h1v1h-1zM366 160h1v1h-1zM380 160h1v1h-1zM388 160h1v1h-1zM400 160h1v1h-1zM405 160h1v1h-1zM608 160h1v1h-1zM610 160h1v1h-1zM618 160h1v1h-1zM623 160h1v1h-1zM632 160h2v1h-2zM877 160h1v1h-1zM879 160h1v1h-1zM888 160h1v1h-1zM891 160h1v1h-1zM903 160h1v1h-1zM63 161h1v1h-1zM65 161h1v1h-1zM67 161h1v1h-1zM71 161h1v1h-1zM73 161h1v1h-1zM77 161h1v1h-1zM107 161h1v1h-1zM127 161h4v1h-4zM137 161h1v1h-1zM140 161h1v1h-1zM147 161h1v1h-1zM149 161h1v1h-1zM364 161h2v1h-2zM375 161h1v1h-1zM388 161h1v1h-1zM395 161h1v1h-1zM406 161h1v1h-1zM605 161h1v1h-1zM608 161h1v1h-1zM624 161h1v1h-1zM628 161h1v1h-1zM643 161h1v1h-1zM890 161h1v1h-1zM56 162h1v1h-1zM59 162h1v1h-1zM79 162h4v1h-4zM91 162h1v1h-1zM95 162h2v1h-2zM98 162h1v1h-1zM108 162h1v1h-1zM111 162h1v1h-1zM119 162h1v1h-1zM126 162h2v1h-2zM133 162h3v1h-3zM137 162h1v1h-1zM141 162h1v1h-1zM151 162h1v1h-1zM201 162h1v1h-1zM363 162h2v1h-2zM408 162h1v1h-1zM608 162h1v1h-1zM628 162h1v1h-1zM638 162h1v1h-1zM651 162h1v1h-1zM890 162h1v1h-1zM56 163h1v1h-1zM58 163h1v1h-1zM69 163h1v1h-1zM83 163h1v1h-1zM98 163h1v1h-1zM100 163h1v1h-1zM103 163h1v1h-1zM121 163h3v1h-3zM125 163h1v1h-1zM127 163h2v1h-2zM136 163h1v1h-1zM362 163h1v1h-1zM364 163h2v1h-2zM388 163h1v1h-1zM646 163h1v1h-1zM649 163h1v1h-1zM891 163h1v1h-1zM55 164h2v1h-2zM58 164h1v1h-1zM60 164h1v1h-1zM67 164h1v1h-1zM73 164h1v1h-1zM76 164h1v1h-1zM81 164h1v1h-1zM83 164h2v1h-2zM103 164h1v1h-1zM126 164h1v1h-1zM131 164h1v1h-1zM136 164h1v1h-1zM139 164h1v1h-1zM362 164h1v1h-1zM389 164h1v1h-1zM392 164h1v1h-1zM399 164h1v1h-1zM607 164h1v1h-1zM627 164h1v1h-1zM879 164h1v1h-1zM890 164h1v1h-1zM896 164h1v1h-1zM900 164h1v1h-1zM60 165h1v1h-1zM69 165h1v1h-1zM72 165h2v1h-2zM78 165h1v1h-1zM82 165h1v1h-1zM87 165h1v1h-1zM91 165h1v1h-1zM98 165h1v1h-1zM100 165h1v1h-1zM103 165h1v1h-1zM108 165h1v1h-1zM110 165h1v1h-1zM119 165h1v1h-1zM125 165h2v1h-2zM135 165h1v1h-1zM138 165h2v1h-2zM360 165h1v1h-1zM402 165h1v1h-1zM407 165h1v1h-1zM605 165h1v1h-1zM609 165h1v1h-1zM624 165h1v1h-1zM630 165h1v1h-1zM635 165h1v1h-1zM637 165h1v1h-1zM645 165h1v1h-1zM669 165h1v1h-1zM879 165h1v1h-1zM60 166h2v1h-2zM65 166h2v1h-2zM69 166h1v1h-1zM79 166h1v1h-1zM82 166h2v1h-2zM92 166h1v1h-1zM99 166h2v1h-2zM108 166h2v1h-2zM118 166h1v1h-1zM140 166h1v1h-1zM386 166h1v1h-1zM396 166h2v1h-2zM401 166h1v1h-1zM606 166h1v1h-1zM624 166h3v1h-3zM635 166h1v1h-1zM647 166h1v1h-1zM875 166h1v1h-1zM61 167h1v1h-1zM67 167h1v1h-1zM74 167h1v1h-1zM77 167h1v1h-1zM83 167h1v1h-1zM95 167h2v1h-2zM99 167h1v1h-1zM109 167h1v1h-1zM111 167h1v1h-1zM118 167h1v1h-1zM123 167h5v1h-5zM137 167h1v1h-1zM141 167h2v1h-2zM166 167h1v1h-1zM387 167h1v1h-1zM389 167h1v1h-1zM405 167h1v1h-1zM604 167h1v1h-1zM610 167h1v1h-1zM627 167h1v1h-1zM634 167h1v1h-1zM638 167h1v1h-1zM875 167h1v1h-1zM902 167h1v1h-1zM61 168h1v1h-1zM64 168h1v1h-1zM69 168h3v1h-3zM76 168h2v1h-2zM79 168h2v1h-2zM83 168h2v1h-2zM96 168h1v1h-1zM102 168h1v1h-1zM121 168h2v1h-2zM126 168h1v1h-1zM128 168h1v1h-1zM131 168h1v1h-1zM137 168h1v1h-1zM143 168h1v1h-1zM386 168h3v1h-3zM393 168h1v1h-1zM396 168h1v1h-1zM398 168h1v1h-1zM626 168h1v1h-1zM875 168h1v1h-1zM883 168h1v1h-1zM896 168h1v1h-1zM59 169h1v1h-1zM64 169h1v1h-1zM68 169h1v1h-1zM75 169h1v1h-1zM80 169h1v1h-1zM90 169h1v1h-1zM92 169h1v1h-1zM94 169h1v1h-1zM104 169h1v1h-1zM117 169h1v1h-1zM119 169h3v1h-3zM128 169h2v1h-2zM138 169h1v1h-1zM145 169h1v1h-1zM181 169h1v1h-1zM225 169h1v1h-1zM400 169h1v1h-1zM603 169h1v1h-1zM605 169h1v1h-1zM632 169h1v1h-1zM647 169h1v1h-1zM879 169h1v1h-1zM59 170h2v1h-2zM62 170h1v1h-1zM67 170h1v1h-1zM73 170h1v1h-1zM75 170h2v1h-2zM87 170h1v1h-1zM92 170h2v1h-2zM97 170h1v1h-1zM99 170h1v1h-1zM102 170h3v1h-3zM107 170h1v1h-1zM116 170h1v1h-1zM120 170h1v1h-1zM123 170h1v1h-1zM129 170h1v1h-1zM160 170h1v1h-1zM356 170h1v1h-1zM358 170h1v1h-1zM393 170h1v1h-1zM397 170h1v1h-1zM399 170h1v1h-1zM404 170h1v1h-1zM639 170h1v1h-1zM643 170h1v1h-1zM646 170h1v1h-1zM862 170h1v1h-1zM869 170h1v1h-1zM877 170h1v1h-1zM893 170h1v1h-1zM895 170h1v1h-1zM901 170h1v1h-1zM59 171h2v1h-2zM68 171h1v1h-1zM70 171h1v1h-1zM75 171h4v1h-4zM83 171h1v1h-1zM85 171h1v1h-1zM99 171h1v1h-1zM101 171h1v1h-1zM103 171h1v1h-1zM105 171h1v1h-1zM124 171h1v1h-1zM127 171h2v1h-2zM131 171h1v1h-1zM174 171h1v1h-1zM387 171h1v1h-1zM399 171h2v1h-2zM603 171h3v1h-3zM625 171h1v1h-1zM630 171h1v1h-1zM634 171h1v1h-1zM647 171h1v1h-1zM863 171h1v1h-1zM875 171h2v1h-2zM895 171h1v1h-1zM901 171h1v1h-1zM72 172h1v1h-1zM75 172h1v1h-1zM79 172h1v1h-1zM81 172h1v1h-1zM83 172h2v1h-2zM104 172h1v1h-1zM115 172h1v1h-1zM121 172h1v1h-1zM126 172h1v1h-1zM128 172h2v1h-2zM134 172h1v1h-1zM137 172h2v1h-2zM351 172h1v1h-1zM354 172h1v1h-1zM384 172h2v1h-2zM392 172h1v1h-1zM396 172h1v1h-1zM403 172h1v1h-1zM406 172h1v1h-1zM625 172h1v1h-1zM630 172h1v1h-1zM876 172h2v1h-2zM894 172h1v1h-1zM902 172h1v1h-1zM61 173h1v1h-1zM85 173h1v1h-1zM87 173h1v1h-1zM95 173h1v1h-1zM98 173h2v1h-2zM109 173h1v1h-1zM115 173h1v1h-1zM117 173h1v1h-1zM119 173h2v1h-2zM124 173h2v1h-2zM139 173h2v1h-2zM370 173h1v1h-1zM386 173h1v1h-1zM391 173h1v1h-1zM398 173h1v1h-1zM602 173h1v1h-1zM626 173h1v1h-1zM630 173h1v1h-1zM657 173h1v1h-1zM871 173h1v1h-1zM898 173h1v1h-1zM900 173h1v1h-1zM64 174h2v1h-2zM68 174h1v1h-1zM82 174h1v1h-1zM89 174h1v1h-1zM98 174h1v1h-1zM117 174h1v1h-1zM123 174h1v1h-1zM130 174h1v1h-1zM141 174h1v1h-1zM148 174h1v1h-1zM161 174h1v1h-1zM389 174h1v1h-1zM395 174h1v1h-1zM397 174h1v1h-1zM598 174h1v1h-1zM602 174h1v1h-1zM643 174h1v1h-1zM647 174h1v1h-1zM662 174h1v1h-1zM877 174h1v1h-1zM895 174h1v1h-1zM57 175h1v1h-1zM67 175h1v1h-1zM106 175h1v1h-1zM113 175h1v1h-1zM115 175h2v1h-2zM126 175h1v1h-1zM129 175h1v1h-1zM135 175h1v1h-1zM351 175h1v1h-1zM392 175h1v1h-1zM395 175h1v1h-1zM601 175h1v1h-1zM616 175h1v1h-1zM632 175h1v1h-1zM635 175h1v1h-1zM649 175h2v1h-2zM869 175h1v1h-1zM871 175h1v1h-1zM59 176h1v1h-1zM95 176h1v1h-1zM98 176h2v1h-2zM103 176h1v1h-1zM111 176h1v1h-1zM113 176h1v1h-1zM118 176h1v1h-1zM121 176h1v1h-1zM128 176h1v1h-1zM162 176h1v1h-1zM200 176h1v1h-1zM349 176h1v1h-1zM383 176h1v1h-1zM395 176h1v1h-1zM397 176h2v1h-2zM401 176h1v1h-1zM625 176h1v1h-1zM649 176h1v1h-1zM661 176h1v1h-1zM873 176h1v1h-1zM875 176h1v1h-1zM899 176h1v1h-1zM910 176h1v1h-1zM66 177h1v1h-1zM80 177h1v1h-1zM85 177h1v1h-1zM103 177h1v1h-1zM109 177h1v1h-1zM120 177h1v1h-1zM367 177h1v1h-1zM380 177h1v1h-1zM382 177h1v1h-1zM384 177h1v1h-1zM386 177h1v1h-1zM390 177h1v1h-1zM392 177h2v1h-2zM395 177h1v1h-1zM398 177h1v1h-1zM400 177h1v1h-1zM600 177h1v1h-1zM603 177h1v1h-1zM627 177h1v1h-1zM637 177h1v1h-1zM652 177h1v1h-1zM661 177h1v1h-1zM870 177h1v1h-1zM875 177h1v1h-1zM895 177h1v1h-1zM898 177h1v1h-1zM55 178h1v1h-1zM71 178h1v1h-1zM95 178h1v1h-1zM98 178h1v1h-1zM101 178h1v1h-1zM116 178h1v1h-1zM120 178h1v1h-1zM123 178h1v1h-1zM134 178h1v1h-1zM380 178h2v1h-2zM389 178h1v1h-1zM391 178h1v1h-1zM395 178h1v1h-1zM627 178h1v1h-1zM629 178h1v1h-1zM641 178h1v1h-1zM643 178h1v1h-1zM872 178h1v1h-1zM875 178h1v1h-1zM893 178h1v1h-1zM895 178h1v1h-1zM900 178h1v1h-1zM99 179h1v1h-1zM114 179h2v1h-2zM117 179h4v1h-4zM124 179h2v1h-2zM129 179h3v1h-3zM137 179h1v1h-1zM146 179h1v1h-1zM158 179h1v1h-1zM374 179h1v1h-1zM376 179h1v1h-1zM391 179h2v1h-2zM599 179h1v1h-1zM602 179h1v1h-1zM624 179h1v1h-1zM628 179h1v1h-1zM630 179h1v1h-1zM641 179h1v1h-1zM645 179h1v1h-1zM650 179h1v1h-1zM896 179h1v1h-1zM898 179h1v1h-1zM60 180h1v1h-1zM83 180h1v1h-1zM107 180h1v1h-1zM110 180h1v1h-1zM117 180h1v1h-1zM120 180h2v1h-2zM132 180h4v1h-4zM143 180h1v1h-1zM345 180h1v1h-1zM348 180h1v1h-1zM374 180h1v1h-1zM378 180h1v1h-1zM385 180h1v1h-1zM387 180h1v1h-1zM392 180h1v1h-1zM623 180h1v1h-1zM627 180h1v1h-1zM630 180h1v1h-1zM643 180h1v1h-1zM892 180h1v1h-1zM55 181h1v1h-1zM82 181h1v1h-1zM113 181h1v1h-1zM145 181h1v1h-1zM342 181h1v1h-1zM352 181h1v1h-1zM357 181h1v1h-1zM385 181h1v1h-1zM626 181h1v1h-1zM629 181h1v1h-1zM863 181h1v1h-1zM874 181h1v1h-1zM897 181h1v1h-1zM900 181h2v1h-2zM57 182h1v1h-1zM69 182h1v1h-1zM115 182h1v1h-1zM119 182h1v1h-1zM123 182h1v1h-1zM126 182h1v1h-1zM343 182h2v1h-2zM376 182h1v1h-1zM379 182h1v1h-1zM381 182h1v1h-1zM390 182h1v1h-1zM608 182h1v1h-1zM629 182h1v1h-1zM631 182h2v1h-2zM639 182h1v1h-1zM654 182h1v1h-1zM659 182h1v1h-1zM874 182h1v1h-1zM897 182h2v1h-2zM903 182h1v1h-1zM60 183h1v1h-1zM63 183h1v1h-1zM97 183h1v1h-1zM112 183h1v1h-1zM117 183h1v1h-1zM119 183h1v1h-1zM121 183h1v1h-1zM131 183h1v1h-1zM135 183h1v1h-1zM373 183h1v1h-1zM379 183h2v1h-2zM598 183h1v1h-1zM609 183h1v1h-1zM630 183h1v1h-1zM634 183h1v1h-1zM636 183h1v1h-1zM642 183h1v1h-1zM870 183h1v1h-1zM897 183h1v1h-1zM901 183h1v1h-1zM903 183h1v1h-1zM62 184h1v1h-1zM69 184h1v1h-1zM78 184h1v1h-1zM82 184h1v1h-1zM97 184h1v1h-1zM122 184h1v1h-1zM124 184h1v1h-1zM131 184h1v1h-1zM133 184h1v1h-1zM354 184h1v1h-1zM367 184h1v1h-1zM370 184h1v1h-1zM389 184h2v1h-2zM627 184h1v1h-1zM629 184h1v1h-1zM635 184h1v1h-1zM640 184h2v1h-2zM645 184h1v1h-1zM871 184h1v1h-1zM876 184h1v1h-1zM899 184h1v1h-1zM901 184h1v1h-1zM910 184h1v1h-1zM55 185h2v1h-2zM79 185h1v1h-1zM90 185h1v1h-1zM108 185h1v1h-1zM114 185h1v1h-1zM117 185h1v1h-1zM120 185h1v1h-1zM126 185h1v1h-1zM128 185h1v1h-1zM130 185h1v1h-1zM339 185h2v1h-2zM370 185h1v1h-1zM373 185h1v1h-1zM376 185h2v1h-2zM381 185h1v1h-1zM384 185h1v1h-1zM627 185h2v1h-2zM634 185h3v1h-3zM640 185h1v1h-1zM645 185h2v1h-2zM649 185h1v1h-1zM866 185h1v1h-1zM872 185h1v1h-1zM55 186h1v1h-1zM59 186h1v1h-1zM70 186h1v1h-1zM89 186h1v1h-1zM96 186h1v1h-1zM115 186h1v1h-1zM118 186h1v1h-1zM123 186h2v1h-2zM132 186h1v1h-1zM153 186h1v1h-1zM362 186h2v1h-2zM368 186h1v1h-1zM370 186h4v1h-4zM382 186h2v1h-2zM619 186h1v1h-1zM625 186h1v1h-1zM627 186h1v1h-1zM640 186h1v1h-1zM643 186h1v1h-1zM645 186h1v1h-1zM665 186h1v1h-1zM867 186h1v1h-1zM872 186h2v1h-2zM897 186h1v1h-1zM899 186h1v1h-1zM57 187h2v1h-2zM61 187h1v1h-1zM69 187h1v1h-1zM85 187h1v1h-1zM119 187h1v1h-1zM122 187h1v1h-1zM134 187h1v1h-1zM361 187h1v1h-1zM363 187h1v1h-1zM367 187h1v1h-1zM376 187h1v1h-1zM635 187h1v1h-1zM648 187h1v1h-1zM872 187h1v1h-1zM897 187h1v1h-1zM84 188h1v1h-1zM94 188h1v1h-1zM113 188h1v1h-1zM120 188h1v1h-1zM122 188h3v1h-3zM126 188h1v1h-1zM128 188h1v1h-1zM145 188h1v1h-1zM149 188h1v1h-1zM151 188h1v1h-1zM372 188h1v1h-1zM374 188h1v1h-1zM383 188h1v1h-1zM631 188h2v1h-2zM639 188h2v1h-2zM642 188h1v1h-1zM901 188h1v1h-1zM905 188h1v1h-1zM912 188h1v1h-1zM55 189h1v1h-1zM59 189h1v1h-1zM61 189h1v1h-1zM74 189h1v1h-1zM82 189h1v1h-1zM84 189h1v1h-1zM95 189h1v1h-1zM97 189h1v1h-1zM113 189h1v1h-1zM120 189h2v1h-2zM135 189h1v1h-1zM364 189h1v1h-1zM368 189h1v1h-1zM373 189h1v1h-1zM375 189h1v1h-1zM601 189h1v1h-1zM626 189h2v1h-2zM629 189h2v1h-2zM643 189h1v1h-1zM649 189h2v1h-2zM866 189h1v1h-1zM868 189h1v1h-1zM870 189h1v1h-1zM876 189h1v1h-1zM897 189h1v1h-1zM903 189h1v1h-1zM55 190h1v1h-1zM57 190h1v1h-1zM84 190h1v1h-1zM86 190h2v1h-2zM90 190h1v1h-1zM92 190h1v1h-1zM94 190h1v1h-1zM97 190h1v1h-1zM100 190h1v1h-1zM109 190h1v1h-1zM116 190h1v1h-1zM122 190h1v1h-1zM124 190h1v1h-1zM126 190h1v1h-1zM352 190h1v1h-1zM359 190h1v1h-1zM362 190h1v1h-1zM366 190h1v1h-1zM370 190h1v1h-1zM376 190h1v1h-1zM639 190h1v1h-1zM641 190h1v1h-1zM648 190h1v1h-1zM898 190h2v1h-2zM911 190h1v1h-1zM57 191h2v1h-2zM63 191h1v1h-1zM88 191h2v1h-2zM91 191h1v1h-1zM96 191h1v1h-1zM104 191h1v1h-1zM118 191h1v1h-1zM135 191h1v1h-1zM356 191h1v1h-1zM360 191h1v1h-1zM363 191h1v1h-1zM632 191h1v1h-1zM641 191h1v1h-1zM650 191h1v1h-1zM653 191h1v1h-1zM860 191h1v1h-1zM867 191h2v1h-2zM870 191h2v1h-2zM898 191h1v1h-1zM55 192h1v1h-1zM57 192h1v1h-1zM74 192h1v1h-1zM96 192h1v1h-1zM129 192h1v1h-1zM332 192h1v1h-1zM334 192h1v1h-1zM360 192h2v1h-2zM364 192h1v1h-1zM368 192h1v1h-1zM642 192h1v1h-1zM651 192h1v1h-1zM870 192h1v1h-1zM872 192h1v1h-1zM879 192h1v1h-1zM904 192h1v1h-1zM906 192h1v1h-1zM55 193h1v1h-1zM59 193h1v1h-1zM74 193h1v1h-1zM82 193h1v1h-1zM85 193h1v1h-1zM94 193h1v1h-1zM96 193h1v1h-1zM106 193h1v1h-1zM121 193h1v1h-1zM130 193h1v1h-1zM333 193h1v1h-1zM357 193h1v1h-1zM359 193h2v1h-2zM629 193h1v1h-1zM631 193h1v1h-1zM635 193h1v1h-1zM639 193h1v1h-1zM663 193h1v1h-1zM867 193h1v1h-1zM871 193h1v1h-1zM899 193h1v1h-1zM904 193h1v1h-1zM907 193h1v1h-1zM909 193h1v1h-1zM65 194h1v1h-1zM82 194h1v1h-1zM97 194h2v1h-2zM104 194h1v1h-1zM124 194h1v1h-1zM147 194h1v1h-1zM331 194h1v1h-1zM345 194h1v1h-1zM351 194h1v1h-1zM631 194h1v1h-1zM900 194h1v1h-1zM63 195h1v1h-1zM75 195h1v1h-1zM96 195h1v1h-1zM120 195h1v1h-1zM147 195h1v1h-1zM343 195h1v1h-1zM346 195h1v1h-1zM603 195h2v1h-2zM625 195h1v1h-1zM627 195h1v1h-1zM632 195h1v1h-1zM638 195h1v1h-1zM640 195h1v1h-1zM649 195h1v1h-1zM652 195h1v1h-1zM863 195h1v1h-1zM865 195h1v1h-1zM871 195h1v1h-1zM873 195h1v1h-1zM897 195h1v1h-1zM899 195h1v1h-1zM907 195h1v1h-1zM55 196h1v1h-1zM57 196h1v1h-1zM61 196h1v1h-1zM77 196h2v1h-2zM103 196h1v1h-1zM112 196h1v1h-1zM126 196h1v1h-1zM128 196h2v1h-2zM138 196h1v1h-1zM331 196h1v1h-1zM340 196h1v1h-1zM345 196h1v1h-1zM347 196h1v1h-1zM626 196h1v1h-1zM642 196h2v1h-2zM863 196h1v1h-1zM869 196h1v1h-1zM902 196h1v1h-1zM904 196h1v1h-1zM65 197h1v1h-1zM73 197h1v1h-1zM75 197h1v1h-1zM97 197h2v1h-2zM328 197h1v1h-1zM343 197h1v1h-1zM351 197h1v1h-1zM604 197h1v1h-1zM624 197h1v1h-1zM627 197h1v1h-1zM629 197h1v1h-1zM643 197h1v1h-1zM646 197h1v1h-1zM652 197h1v1h-1zM896 197h1v1h-1zM55 198h1v1h-1zM72 198h2v1h-2zM92 198h1v1h-1zM95 198h1v1h-1zM130 198h1v1h-1zM134 198h1v1h-1zM138 198h1v1h-1zM335 198h3v1h-3zM339 198h2v1h-2zM344 198h1v1h-1zM346 198h1v1h-1zM599 198h1v1h-1zM634 198h2v1h-2zM642 198h1v1h-1zM670 198h1v1h-1zM866 198h1v1h-1zM872 198h1v1h-1zM881 198h1v1h-1zM896 198h1v1h-1zM55 199h1v1h-1zM66 199h1v1h-1zM73 199h1v1h-1zM75 199h1v1h-1zM92 199h1v1h-1zM108 199h1v1h-1zM121 199h1v1h-1zM610 199h1v1h-1zM616 199h1v1h-1zM619 199h1v1h-1zM630 199h1v1h-1zM633 199h1v1h-1zM865 199h1v1h-1zM867 199h1v1h-1zM873 199h1v1h-1zM888 199h1v1h-1zM893 199h1v1h-1zM904 199h1v1h-1zM59 200h1v1h-1zM62 200h1v1h-1zM64 200h2v1h-2zM91 200h1v1h-1zM93 200h1v1h-1zM106 200h1v1h-1zM113 200h1v1h-1zM115 200h1v1h-1zM122 200h1v1h-1zM131 200h1v1h-1zM334 200h1v1h-1zM338 200h1v1h-1zM341 200h1v1h-1zM344 200h1v1h-1zM604 200h1v1h-1zM607 200h1v1h-1zM609 200h1v1h-1zM612 200h1v1h-1zM616 200h1v1h-1zM618 200h1v1h-1zM624 200h1v1h-1zM628 200h2v1h-2zM637 200h1v1h-1zM653 200h1v1h-1zM867 200h2v1h-2zM871 200h1v1h-1zM883 200h1v1h-1zM890 200h2v1h-2zM893 200h1v1h-1zM895 200h1v1h-1zM907 200h1v1h-1zM55 201h2v1h-2zM58 201h2v1h-2zM61 201h1v1h-1zM64 201h2v1h-2zM67 201h1v1h-1zM73 201h1v1h-1zM91 201h1v1h-1zM96 201h1v1h-1zM120 201h1v1h-1zM127 201h1v1h-1zM129 201h1v1h-1zM335 201h1v1h-1zM347 201h1v1h-1zM613 201h1v1h-1zM615 201h2v1h-2zM658 201h1v1h-1zM880 201h1v1h-1zM885 201h1v1h-1zM891 201h1v1h-1zM905 201h1v1h-1zM57 202h1v1h-1zM59 202h1v1h-1zM66 202h1v1h-1zM70 202h1v1h-1zM98 202h2v1h-2zM102 202h1v1h-1zM109 202h1v1h-1zM113 202h2v1h-2zM116 202h1v1h-1zM341 202h1v1h-1zM641 202h1v1h-1zM876 202h1v1h-1zM880 202h3v1h-3zM885 202h4v1h-4zM891 202h1v1h-1zM56 203h2v1h-2zM68 203h1v1h-1zM72 203h1v1h-1zM74 203h1v1h-1zM109 203h1v1h-1zM114 203h3v1h-3zM341 203h1v1h-1zM613 203h1v1h-1zM642 203h1v1h-1zM877 203h1v1h-1zM883 203h1v1h-1zM887 203h1v1h-1zM899 203h1v1h-1zM56 204h1v1h-1zM68 204h1v1h-1zM75 204h1v1h-1zM119 204h1v1h-1zM131 204h1v1h-1zM638 204h1v1h-1zM879 204h1v1h-1zM891 204h1v1h-1zM55 205h1v1h-1zM71 205h1v1h-1zM75 205h1v1h-1zM85 205h1v1h-1zM92 205h1v1h-1zM98 205h1v1h-1zM103 205h1v1h-1zM108 205h1v1h-1zM112 205h1v1h-1zM892 205h1v1h-1zM913 205h1v1h-1zM71 206h1v1h-1zM79 206h3v1h-3zM88 206h1v1h-1zM91 206h1v1h-1zM103 206h1v1h-1zM110 206h1v1h-1zM119 206h1v1h-1zM122 206h1v1h-1zM125 206h1v1h-1zM128 206h1v1h-1zM145 206h1v1h-1zM656 206h1v1h-1zM891 206h1v1h-1zM68 207h1v1h-1zM71 207h1v1h-1zM88 207h1v1h-1zM93 207h1v1h-1zM100 207h1v1h-1zM105 207h2v1h-2zM110 207h2v1h-2zM117 207h1v1h-1zM621 207h1v1h-1zM631 207h1v1h-1zM69 208h1v1h-1zM81 208h1v1h-1zM90 208h1v1h-1zM92 208h1v1h-1zM94 208h2v1h-2zM99 208h1v1h-1zM107 208h1v1h-1zM115 208h2v1h-2zM124 208h1v1h-1zM656 208h1v1h-1zM659 208h1v1h-1zM61 209h1v1h-1zM63 209h1v1h-1zM74 209h1v1h-1zM82 209h2v1h-2zM90 209h1v1h-1zM94 209h1v1h-1zM106 209h1v1h-1zM117 209h1v1h-1zM129 209h1v1h-1zM65 210h2v1h-2zM70 210h1v1h-1zM76 210h1v1h-1zM84 210h1v1h-1zM96 210h1v1h-1zM103 210h2v1h-2zM113 210h1v1h-1zM121 210h1v1h-1zM879 210h1v1h-1zM61 211h1v1h-1zM66 211h2v1h-2zM69 211h2v1h-2zM75 211h1v1h-1zM77 211h1v1h-1zM79 211h1v1h-1zM83 211h1v1h-1zM86 211h1v1h-1zM88 211h2v1h-2zM92 211h1v1h-1zM101 211h1v1h-1zM113 211h1v1h-1zM121 211h1v1h-1zM125 211h1v1h-1zM58 212h1v1h-1zM60 212h2v1h-2zM75 212h2v1h-2zM89 212h1v1h-1zM97 212h2v1h-2zM116 212h1v1h-1zM61 213h2v1h-2zM107 213h1v1h-1zM77 214h1v1h-1zM89 214h1v1h-1zM111 214h1v1h-1zM131 214h1v1h-1zM58 215h1v1h-1zM132 215h1v1h-1zM88 239h1v1h-1zM76 252h1v1h-1zM72 258h1v1h-1zM88 267h1v1h-1zM61 272h1v1h-1zM63 276h1v1h-1zM68 276h1v1h-1zM126 276h1v1h-1zM88 285h1v1h-1zM140 287h1v1h-1zM87 290h1v1h-1zM966 297h1v1h-1zM937 300h1v1h-1zM623 301h1v1h-1zM937 301h1v1h-1zM616 302h1v1h-1zM620 302h1v1h-1zM948 302h1v1h-1zM950 302h2v1h-2zM604 303h1v1h-1zM613 303h1v1h-1zM621 303h1v1h-1zM624 303h1v1h-1zM935 303h1v1h-1zM950 303h1v1h-1zM610 304h1v1h-1zM614 304h1v1h-1zM618 304h2v1h-2zM934 304h1v1h-1zM67 305h1v1h-1zM88 305h1v1h-1zM605 305h1v1h-1zM609 305h1v1h-1zM616 305h1v1h-1zM939 305h2v1h-2zM945 305h1v1h-1zM951 305h1v1h-1zM960 305h1v1h-1zM611 306h1v1h-1zM620 306h1v1h-1zM622 306h1v1h-1zM625 306h1v1h-1zM924 306h1v1h-1zM948 306h1v1h-1zM951 306h1v1h-1zM611 307h1v1h-1zM613 307h1v1h-1zM616 307h2v1h-2zM620 307h1v1h-1zM917 307h1v1h-1zM931 307h1v1h-1zM936 307h1v1h-1zM938 307h1v1h-1zM941 307h1v1h-1zM949 307h2v1h-2zM954 307h1v1h-1zM604 308h2v1h-2zM614 308h2v1h-2zM620 308h3v1h-3zM624 308h1v1h-1zM912 308h1v1h-1zM921 308h1v1h-1zM928 308h2v1h-2zM931 308h1v1h-1zM937 308h2v1h-2zM952 308h1v1h-1zM611 309h2v1h-2zM617 309h1v1h-1zM619 309h2v1h-2zM623 309h1v1h-1zM910 309h2v1h-2zM916 309h1v1h-1zM921 309h1v1h-1zM927 309h2v1h-2zM942 309h1v1h-1zM948 309h1v1h-1zM601 310h1v1h-1zM611 310h1v1h-1zM614 310h2v1h-2zM617 310h1v1h-1zM623 310h1v1h-1zM626 310h1v1h-1zM628 310h1v1h-1zM908 310h1v1h-1zM918 310h1v1h-1zM920 310h1v1h-1zM924 310h1v1h-1zM926 310h1v1h-1zM929 310h1v1h-1zM931 310h1v1h-1zM939 310h1v1h-1zM91 311h1v1h-1zM612 311h1v1h-1zM614 311h1v1h-1zM620 311h1v1h-1zM911 311h1v1h-1zM913 311h2v1h-2zM931 311h1v1h-1zM934 311h3v1h-3zM939 311h1v1h-1zM941 311h1v1h-1zM944 311h1v1h-1zM947 311h1v1h-1zM951 311h1v1h-1zM605 312h1v1h-1zM608 312h2v1h-2zM611 312h1v1h-1zM616 312h1v1h-1zM618 312h1v1h-1zM620 312h1v1h-1zM624 312h1v1h-1zM925 312h1v1h-1zM930 312h3v1h-3zM934 312h3v1h-3zM939 312h1v1h-1zM946 312h3v1h-3zM957 312h1v1h-1zM960 312h2v1h-2zM604 313h1v1h-1zM607 313h2v1h-2zM610 313h1v1h-1zM614 313h1v1h-1zM621 313h2v1h-2zM886 313h1v1h-1zM901 313h1v1h-1zM909 313h1v1h-1zM919 313h1v1h-1zM929 313h1v1h-1zM932 313h2v1h-2zM937 313h1v1h-1zM940 313h1v1h-1zM942 313h1v1h-1zM946 313h1v1h-1zM948 313h2v1h-2zM952 313h1v1h-1zM956 313h1v1h-1zM605 314h1v1h-1zM610 314h1v1h-1zM615 314h1v1h-1zM617 314h1v1h-1zM621 314h1v1h-1zM625 314h1v1h-1zM899 314h1v1h-1zM911 314h1v1h-1zM913 314h1v1h-1zM916 314h1v1h-1zM918 314h2v1h-2zM927 314h1v1h-1zM939 314h1v1h-1zM941 314h2v1h-2zM944 314h1v1h-1zM603 315h1v1h-1zM608 315h1v1h-1zM611 315h1v1h-1zM622 315h2v1h-2zM626 315h1v1h-1zM906 315h2v1h-2zM915 315h1v1h-1zM922 315h1v1h-1zM926 315h1v1h-1zM929 315h1v1h-1zM931 315h1v1h-1zM934 315h1v1h-1zM947 315h1v1h-1zM952 315h2v1h-2zM958 315h1v1h-1zM609 316h1v1h-1zM617 316h2v1h-2zM620 316h1v1h-1zM622 316h1v1h-1zM627 316h1v1h-1zM656 316h1v1h-1zM895 316h1v1h-1zM910 316h1v1h-1zM915 316h2v1h-2zM920 316h3v1h-3zM925 316h1v1h-1zM927 316h1v1h-1zM943 316h1v1h-1zM949 316h1v1h-1zM609 317h1v1h-1zM618 317h1v1h-1zM620 317h3v1h-3zM896 317h1v1h-1zM903 317h1v1h-1zM905 317h1v1h-1zM921 317h1v1h-1zM925 317h1v1h-1zM927 317h2v1h-2zM937 317h1v1h-1zM940 317h1v1h-1zM942 317h1v1h-1zM945 317h1v1h-1zM947 317h1v1h-1zM950 317h1v1h-1zM953 317h1v1h-1zM959 317h1v1h-1zM600 318h1v1h-1zM602 318h2v1h-2zM606 318h1v1h-1zM609 318h1v1h-1zM618 318h1v1h-1zM620 318h1v1h-1zM910 318h1v1h-1zM917 318h2v1h-2zM920 318h1v1h-1zM925 318h1v1h-1zM933 318h1v1h-1zM938 318h2v1h-2zM941 318h2v1h-2zM944 318h1v1h-1zM605 319h1v1h-1zM611 319h2v1h-2zM617 319h1v1h-1zM619 319h2v1h-2zM625 319h1v1h-1zM899 319h1v1h-1zM905 319h1v1h-1zM907 319h1v1h-1zM910 319h1v1h-1zM920 319h1v1h-1zM922 319h1v1h-1zM925 319h1v1h-1zM931 319h1v1h-1zM934 319h1v1h-1zM937 319h1v1h-1zM947 319h2v1h-2zM955 319h1v1h-1zM113 320h1v1h-1zM603 320h1v1h-1zM618 320h1v1h-1zM626 320h1v1h-1zM864 320h1v1h-1zM910 320h3v1h-3zM915 320h1v1h-1zM924 320h2v1h-2zM931 320h2v1h-2zM936 320h1v1h-1zM942 320h2v1h-2zM604 321h1v1h-1zM607 321h1v1h-1zM611 321h1v1h-1zM615 321h2v1h-2zM621 321h1v1h-1zM623 321h1v1h-1zM893 321h1v1h-1zM898 321h1v1h-1zM902 321h1v1h-1zM921 321h1v1h-1zM927 321h1v1h-1zM930 321h1v1h-1zM932 321h1v1h-1zM943 321h1v1h-1zM946 321h1v1h-1zM951 321h2v1h-2zM602 322h1v1h-1zM606 322h1v1h-1zM608 322h3v1h-3zM613 322h2v1h-2zM618 322h1v1h-1zM624 322h1v1h-1zM630 322h1v1h-1zM921 322h1v1h-1zM929 322h1v1h-1zM943 322h1v1h-1zM948 322h1v1h-1zM602 323h1v1h-1zM605 323h1v1h-1zM607 323h1v1h-1zM611 323h1v1h-1zM613 323h1v1h-1zM619 323h3v1h-3zM899 323h1v1h-1zM906 323h1v1h-1zM908 323h1v1h-1zM910 323h1v1h-1zM917 323h1v1h-1zM920 323h1v1h-1zM930 323h1v1h-1zM941 323h1v1h-1zM946 323h1v1h-1zM948 323h1v1h-1zM950 323h1v1h-1zM955 323h1v1h-1zM602 324h1v1h-1zM605 324h1v1h-1zM608 324h1v1h-1zM612 324h2v1h-2zM622 324h1v1h-1zM906 324h1v1h-1zM911 324h1v1h-1zM915 324h2v1h-2zM919 324h1v1h-1zM923 324h1v1h-1zM925 324h1v1h-1zM932 324h1v1h-1zM941 324h1v1h-1zM954 324h2v1h-2zM602 325h1v1h-1zM605 325h1v1h-1zM608 325h2v1h-2zM612 325h1v1h-1zM617 325h1v1h-1zM619 325h1v1h-1zM622 325h1v1h-1zM624 325h1v1h-1zM903 325h1v1h-1zM906 325h2v1h-2zM910 325h1v1h-1zM919 325h1v1h-1zM930 325h1v1h-1zM932 325h2v1h-2zM937 325h1v1h-1zM941 325h1v1h-1zM952 325h1v1h-1zM954 325h1v1h-1zM602 326h2v1h-2zM611 326h1v1h-1zM614 326h2v1h-2zM620 326h4v1h-4zM626 326h1v1h-1zM899 326h1v1h-1zM902 326h1v1h-1zM909 326h2v1h-2zM915 326h1v1h-1zM928 326h1v1h-1zM930 326h1v1h-1zM932 326h1v1h-1zM934 326h1v1h-1zM936 326h2v1h-2zM939 326h1v1h-1zM946 326h1v1h-1zM950 326h1v1h-1zM952 326h1v1h-1zM954 326h1v1h-1zM608 327h1v1h-1zM610 327h1v1h-1zM615 327h1v1h-1zM625 327h1v1h-1zM901 327h1v1h-1zM903 327h1v1h-1zM916 327h1v1h-1zM923 327h3v1h-3zM938 327h2v1h-2zM948 327h1v1h-1zM609 328h2v1h-2zM617 328h1v1h-1zM621 328h1v1h-1zM627 328h1v1h-1zM905 328h1v1h-1zM908 328h1v1h-1zM915 328h2v1h-2zM930 328h1v1h-1zM938 328h1v1h-1zM951 328h1v1h-1zM606 329h1v1h-1zM610 329h1v1h-1zM612 329h3v1h-3zM616 329h1v1h-1zM618 329h1v1h-1zM902 329h1v1h-1zM913 329h1v1h-1zM919 329h1v1h-1zM934 329h1v1h-1zM936 329h1v1h-1zM938 329h1v1h-1zM943 329h1v1h-1zM605 330h1v1h-1zM623 330h1v1h-1zM907 330h1v1h-1zM920 330h1v1h-1zM931 330h2v1h-2zM948 330h1v1h-1zM605 331h1v1h-1zM616 331h2v1h-2zM902 331h1v1h-1zM911 331h2v1h-2zM915 331h1v1h-1zM921 331h3v1h-3zM927 331h1v1h-1zM936 331h1v1h-1zM939 331h1v1h-1zM943 331h1v1h-1zM945 331h1v1h-1zM947 331h1v1h-1zM604 332h1v1h-1zM607 332h1v1h-1zM610 332h2v1h-2zM614 332h1v1h-1zM618 332h1v1h-1zM620 332h1v1h-1zM623 332h1v1h-1zM898 332h1v1h-1zM922 332h1v1h-1zM930 332h2v1h-2zM936 332h2v1h-2zM948 332h1v1h-1zM606 333h1v1h-1zM615 333h1v1h-1zM618 333h1v1h-1zM622 333h1v1h-1zM888 333h1v1h-1zM897 333h1v1h-1zM903 333h1v1h-1zM910 333h1v1h-1zM915 333h1v1h-1zM922 333h1v1h-1zM928 333h1v1h-1zM933 333h1v1h-1zM942 333h1v1h-1zM604 334h1v1h-1zM607 334h1v1h-1zM611 334h1v1h-1zM616 334h1v1h-1zM619 334h1v1h-1zM622 334h1v1h-1zM625 334h1v1h-1zM905 334h1v1h-1zM907 334h1v1h-1zM914 334h2v1h-2zM917 334h1v1h-1zM921 334h1v1h-1zM929 334h2v1h-2zM946 334h1v1h-1zM602 335h1v1h-1zM605 335h1v1h-1zM610 335h1v1h-1zM616 335h1v1h-1zM618 335h1v1h-1zM915 335h1v1h-1zM917 335h5v1h-5zM923 335h1v1h-1zM929 335h1v1h-1zM934 335h3v1h-3zM938 335h1v1h-1zM602 336h1v1h-1zM606 336h1v1h-1zM611 336h1v1h-1zM615 336h1v1h-1zM619 336h1v1h-1zM905 336h1v1h-1zM912 336h1v1h-1zM916 336h1v1h-1zM921 336h2v1h-2zM924 336h1v1h-1zM927 336h1v1h-1zM929 336h2v1h-2zM938 336h1v1h-1zM609 337h1v1h-1zM613 337h1v1h-1zM619 337h1v1h-1zM623 337h1v1h-1zM907 337h2v1h-2zM917 337h1v1h-1zM924 337h1v1h-1zM929 337h1v1h-1zM938 337h1v1h-1zM80 338h1v1h-1zM604 338h1v1h-1zM606 338h1v1h-1zM610 338h1v1h-1zM616 338h2v1h-2zM621 338h3v1h-3zM908 338h1v1h-1zM927 338h1v1h-1zM939 338h1v1h-1zM606 339h1v1h-1zM610 339h1v1h-1zM612 339h1v1h-1zM621 339h1v1h-1zM625 339h1v1h-1zM904 339h1v1h-1zM922 339h1v1h-1zM94 340h1v1h-1zM612 340h2v1h-2zM615 340h1v1h-1zM619 340h1v1h-1zM916 340h2v1h-2zM921 340h1v1h-1zM924 340h1v1h-1zM605 341h1v1h-1zM611 341h1v1h-1zM617 341h1v1h-1zM620 341h1v1h-1zM923 341h1v1h-1zM62 342h1v1h-1zM65 342h1v1h-1zM92 342h1v1h-1zM610 342h2v1h-2zM613 342h1v1h-1zM617 342h1v1h-1zM911 342h1v1h-1zM916 342h1v1h-1zM609 343h1v1h-1zM608 344h1v1h-1zM622 345h1v1h-1zM648 346h1v1h-1zM90 347h1v1h-1zM88 349h1v1h-1zM120 352h1v1h-1zM61 353h1v1h-1zM394 357h1v1h-1zM381 360h1v1h-1zM383 360h1v1h-1zM379 362h2v1h-2zM383 362h1v1h-1zM381 363h1v1h-1zM380 364h1v1h-1zM66 365h1v1h-1zM890 365h1v1h-1zM375 367h1v1h-1zM116 369h1v1h-1zM372 369h1v1h-1zM374 369h1v1h-1zM379 369h1v1h-1zM382 369h1v1h-1zM368 370h1v1h-1zM373 370h1v1h-1zM56 371h1v1h-1zM369 371h1v1h-1zM373 371h1v1h-1zM375 371h1v1h-1zM59 372h1v1h-1zM366 372h1v1h-1zM369 372h2v1h-2zM367 373h1v1h-1zM371 373h2v1h-2zM116 374h1v1h-1zM66 375h1v1h-1zM123 375h1v1h-1zM363 375h1v1h-1zM63 376h1v1h-1zM364 376h1v1h-1zM366 376h1v1h-1zM365 377h1v1h-1zM367 377h1v1h-1zM120 378h1v1h-1zM881 378h1v1h-1zM110 379h2v1h-2zM117 379h1v1h-1zM150 379h1v1h-1zM357 379h1v1h-1zM364 379h1v1h-1zM366 379h1v1h-1zM610 379h1v1h-1zM56 380h1v1h-1zM122 380h1v1h-1zM358 380h1v1h-1zM111 381h1v1h-1zM116 381h1v1h-1zM118 381h1v1h-1zM122 381h1v1h-1zM356 381h2v1h-2zM360 381h1v1h-1zM882 381h1v1h-1zM64 382h1v1h-1zM96 382h1v1h-1zM107 382h1v1h-1zM110 382h1v1h-1zM361 382h1v1h-1zM877 382h1v1h-1zM75 383h1v1h-1zM356 383h1v1h-1zM358 383h1v1h-1zM83 384h1v1h-1zM111 384h1v1h-1zM113 384h1v1h-1zM117 384h1v1h-1zM121 384h1v1h-1zM124 384h1v1h-1zM604 384h1v1h-1zM607 384h1v1h-1zM609 384h1v1h-1zM63 385h1v1h-1zM107 385h1v1h-1zM110 385h1v1h-1zM113 385h1v1h-1zM120 385h1v1h-1zM353 385h1v1h-1zM63 386h1v1h-1zM107 386h1v1h-1zM118 386h1v1h-1zM130 386h1v1h-1zM350 386h1v1h-1zM356 386h1v1h-1zM56 387h1v1h-1zM89 387h1v1h-1zM99 387h1v1h-1zM101 387h1v1h-1zM104 387h1v1h-1zM107 387h1v1h-1zM111 387h1v1h-1zM113 387h1v1h-1zM353 387h1v1h-1zM355 387h1v1h-1zM880 387h1v1h-1zM62 388h1v1h-1zM98 388h1v1h-1zM106 388h2v1h-2zM109 388h1v1h-1zM111 388h1v1h-1zM114 388h2v1h-2zM350 388h1v1h-1zM600 388h1v1h-1zM612 388h1v1h-1zM620 388h1v1h-1zM887 388h1v1h-1zM891 388h1v1h-1zM55 389h1v1h-1zM74 389h1v1h-1zM87 389h1v1h-1zM101 389h1v1h-1zM108 389h2v1h-2zM116 389h1v1h-1zM136 389h1v1h-1zM347 389h1v1h-1zM350 389h2v1h-2zM608 389h1v1h-1zM615 389h1v1h-1zM886 389h1v1h-1zM68 390h1v1h-1zM97 390h1v1h-1zM103 390h2v1h-2zM108 390h1v1h-1zM110 390h1v1h-1zM118 390h1v1h-1zM120 390h1v1h-1zM125 390h1v1h-1zM354 390h1v1h-1zM606 390h1v1h-1zM610 390h1v1h-1zM621 390h1v1h-1zM878 390h1v1h-1zM880 390h1v1h-1zM888 390h1v1h-1zM56 391h1v1h-1zM96 391h1v1h-1zM108 391h2v1h-2zM112 391h1v1h-1zM117 391h2v1h-2zM121 391h1v1h-1zM345 391h1v1h-1zM348 391h1v1h-1zM608 391h1v1h-1zM611 391h1v1h-1zM879 391h1v1h-1zM882 391h2v1h-2zM886 391h1v1h-1zM94 392h1v1h-1zM104 392h1v1h-1zM107 392h1v1h-1zM120 392h1v1h-1zM124 392h1v1h-1zM344 392h1v1h-1zM611 392h1v1h-1zM616 392h1v1h-1zM99 393h1v1h-1zM101 393h1v1h-1zM107 393h1v1h-1zM110 393h2v1h-2zM114 393h1v1h-1zM68 394h1v1h-1zM91 394h1v1h-1zM97 394h1v1h-1zM99 394h1v1h-1zM105 394h1v1h-1zM107 394h2v1h-2zM111 394h1v1h-1zM114 394h1v1h-1zM116 394h1v1h-1zM120 394h1v1h-1zM614 394h1v1h-1zM58 395h1v1h-1zM104 395h1v1h-1zM113 395h1v1h-1zM342 395h1v1h-1zM879 395h1v1h-1zM881 395h1v1h-1zM80 396h1v1h-1zM85 396h1v1h-1zM89 396h1v1h-1zM92 396h3v1h-3zM99 396h1v1h-1zM101 396h1v1h-1zM107 396h5v1h-5zM119 396h1v1h-1zM86 397h1v1h-1zM95 397h1v1h-1zM103 397h1v1h-1zM108 397h2v1h-2zM883 397h1v1h-1zM886 397h1v1h-1zM93 398h2v1h-2zM96 398h1v1h-1zM103 398h2v1h-2zM108 398h1v1h-1zM114 398h1v1h-1zM91 399h1v1h-1zM98 399h1v1h-1zM104 399h1v1h-1zM84 400h1v1h-1zM98 400h1v1h-1zM106 400h1v1h-1zM85 401h1v1h-1zM92 401h1v1h-1zM96 401h1v1h-1zM107 401h1v1h-1zM94 402h2v1h-2zM609 402h1v1h-1zM90 403h2v1h-2zM60 404h1v1h-1zM69 404h1v1h-1zM80 404h1v1h-1zM89 404h3v1h-3zM93 404h1v1h-1zM98 404h1v1h-1zM64 405h1v1h-1zM93 405h1v1h-1zM99 405h1v1h-1zM101 405h1v1h-1zM79 406h1v1h-1zM92 406h1v1h-1zM94 406h1v1h-1zM71 407h1v1h-1zM82 407h1v1h-1zM88 407h1v1h-1zM90 407h1v1h-1zM93 407h1v1h-1zM58 408h1v1h-1zM86 409h1v1h-1zM88 409h1v1h-1zM105 410h1v1h-1zM58 412h1v1h-1zM87 412h1v1h-1zM76 413h1v1h-1zM86 413h1v1h-1zM62 415h2v1h-2zM76 416h1v1h-1zM80 417h1v1h-1zM68 419h1v1h-1zM72 420h1v1h-1zM65 423h1v1h-1z" fill="#333"/><path d="M127 32h1v1h-1zM138 32h1v1h-1zM169 32h1v1h-1zM183 32h1v1h-1zM121 33h1v1h-1zM125 33h1v1h-1zM131 33h1v1h-1zM151 33h1v1h-1zM157 33h1v1h-1zM159 33h1v1h-1zM163 33h1v1h-1zM176 33h1v1h-1zM182 33h1v1h-1zM128 34h1v1h-1zM152 34h1v1h-1zM181 34h1v1h-1zM183 34h1v1h-1zM187 34h2v1h-2zM133 35h1v1h-1zM135 35h1v1h-1zM151 35h1v1h-1zM153 35h1v1h-1zM158 35h1v1h-1zM163 35h2v1h-2zM175 35h1v1h-1zM179 35h1v1h-1zM184 35h1v1h-1zM190 35h1v1h-1zM132 36h1v1h-1zM136 36h1v1h-1zM139 36h1v1h-1zM142 36h1v1h-1zM146 36h1v1h-1zM155 36h1v1h-1zM157 36h1v1h-1zM168 36h1v1h-1zM172 36h1v1h-1zM181 36h1v1h-1zM129 37h1v1h-1zM155 37h1v1h-1zM161 37h1v1h-1zM165 37h1v1h-1zM171 37h2v1h-2zM174 37h1v1h-1zM124 38h1v1h-1zM129 38h1v1h-1zM134 38h1v1h-1zM153 38h1v1h-1zM156 38h1v1h-1zM159 38h3v1h-3zM164 38h1v1h-1zM166 38h1v1h-1zM174 38h1v1h-1zM187 38h1v1h-1zM206 38h1v1h-1zM216 38h1v1h-1zM116 39h1v1h-1zM131 39h1v1h-1zM143 39h3v1h-3zM149 39h1v1h-1zM158 39h1v1h-1zM166 39h1v1h-1zM170 39h1v1h-1zM172 39h2v1h-2zM177 39h2v1h-2zM181 39h3v1h-3zM200 39h1v1h-1zM124 40h1v1h-1zM131 40h1v1h-1zM137 40h1v1h-1zM162 40h2v1h-2zM167 40h1v1h-1zM175 40h1v1h-1zM184 40h1v1h-1zM125 41h2v1h-2zM136 41h4v1h-4zM143 41h1v1h-1zM152 41h1v1h-1zM160 41h2v1h-2zM163 41h1v1h-1zM166 41h1v1h-1zM170 41h1v1h-1zM175 41h1v1h-1zM207 41h1v1h-1zM125 42h1v1h-1zM129 42h1v1h-1zM132 42h1v1h-1zM134 42h1v1h-1zM138 42h1v1h-1zM140 42h1v1h-1zM161 42h1v1h-1zM163 42h1v1h-1zM166 42h1v1h-1zM169 42h1v1h-1zM118 43h1v1h-1zM121 43h1v1h-1zM129 43h1v1h-1zM137 43h1v1h-1zM147 43h1v1h-1zM153 43h1v1h-1zM157 43h2v1h-2zM179 43h1v1h-1zM226 43h1v1h-1zM122 44h1v1h-1zM127 44h1v1h-1zM132 44h1v1h-1zM141 44h1v1h-1zM176 44h2v1h-2zM120 45h1v1h-1zM127 45h1v1h-1zM140 45h1v1h-1zM149 45h1v1h-1zM151 45h1v1h-1zM156 45h1v1h-1zM172 45h1v1h-1zM178 45h1v1h-1zM186 45h1v1h-1zM196 45h1v1h-1zM231 45h1v1h-1zM127 46h1v1h-1zM130 46h1v1h-1zM133 46h1v1h-1zM139 46h2v1h-2zM145 46h1v1h-1zM149 46h1v1h-1zM153 46h1v1h-1zM156 46h1v1h-1zM168 46h1v1h-1zM177 46h1v1h-1zM179 46h1v1h-1zM181 46h1v1h-1zM108 47h1v1h-1zM125 47h1v1h-1zM127 47h1v1h-1zM137 47h1v1h-1zM140 47h1v1h-1zM142 47h2v1h-2zM149 47h1v1h-1zM154 47h1v1h-1zM162 47h1v1h-1zM164 47h1v1h-1zM167 47h1v1h-1zM174 47h2v1h-2zM178 47h1v1h-1zM182 47h1v1h-1zM186 47h1v1h-1zM129 48h2v1h-2zM141 48h1v1h-1zM157 48h1v1h-1zM170 48h2v1h-2zM173 48h3v1h-3zM121 49h1v1h-1zM127 49h2v1h-2zM131 49h1v1h-1zM135 49h1v1h-1zM140 49h1v1h-1zM152 49h4v1h-4zM159 49h1v1h-1zM167 49h1v1h-1zM169 49h2v1h-2zM173 49h1v1h-1zM177 49h1v1h-1zM216 49h1v1h-1zM110 50h1v1h-1zM125 50h1v1h-1zM131 50h1v1h-1zM136 50h1v1h-1zM142 50h1v1h-1zM149 50h1v1h-1zM160 50h1v1h-1zM162 50h1v1h-1zM165 50h1v1h-1zM169 50h1v1h-1zM113 51h2v1h-2zM116 51h1v1h-1zM120 51h1v1h-1zM124 51h1v1h-1zM131 51h1v1h-1zM148 51h1v1h-1zM158 51h1v1h-1zM163 51h1v1h-1zM165 51h2v1h-2zM169 51h2v1h-2zM181 51h1v1h-1zM116 52h1v1h-1zM119 52h2v1h-2zM125 52h1v1h-1zM127 52h1v1h-1zM132 52h1v1h-1zM137 52h1v1h-1zM145 52h1v1h-1zM158 52h1v1h-1zM168 52h1v1h-1zM173 52h2v1h-2zM224 52h1v1h-1zM235 52h1v1h-1zM111 53h1v1h-1zM113 53h1v1h-1zM118 53h1v1h-1zM122 53h3v1h-3zM130 53h1v1h-1zM134 53h1v1h-1zM148 53h1v1h-1zM150 53h2v1h-2zM156 53h2v1h-2zM165 53h1v1h-1zM177 53h1v1h-1zM230 53h1v1h-1zM236 53h1v1h-1zM112 54h1v1h-1zM124 54h1v1h-1zM130 54h1v1h-1zM132 54h4v1h-4zM139 54h1v1h-1zM144 54h1v1h-1zM146 54h1v1h-1zM151 54h1v1h-1zM153 54h1v1h-1zM155 54h1v1h-1zM161 54h1v1h-1zM171 54h2v1h-2zM235 54h1v1h-1zM110 55h1v1h-1zM139 55h1v1h-1zM142 55h2v1h-2zM151 55h2v1h-2zM154 55h1v1h-1zM160 55h1v1h-1zM163 55h1v1h-1zM170 55h1v1h-1zM175 55h1v1h-1zM114 56h1v1h-1zM123 56h1v1h-1zM127 56h1v1h-1zM142 56h1v1h-1zM145 56h1v1h-1zM152 56h3v1h-3zM161 56h1v1h-1zM163 56h2v1h-2zM166 56h1v1h-1zM168 56h1v1h-1zM173 56h2v1h-2zM202 56h1v1h-1zM212 56h1v1h-1zM224 56h1v1h-1zM116 57h3v1h-3zM125 57h1v1h-1zM129 57h1v1h-1zM136 57h1v1h-1zM138 57h1v1h-1zM142 57h1v1h-1zM145 57h1v1h-1zM161 57h2v1h-2zM179 57h1v1h-1zM182 57h1v1h-1zM127 58h1v1h-1zM129 58h1v1h-1zM135 58h2v1h-2zM143 58h1v1h-1zM146 58h1v1h-1zM150 58h1v1h-1zM152 58h1v1h-1zM157 58h1v1h-1zM159 58h2v1h-2zM163 58h2v1h-2zM167 58h1v1h-1zM174 58h1v1h-1zM201 58h1v1h-1zM103 59h1v1h-1zM119 59h1v1h-1zM123 59h1v1h-1zM125 59h1v1h-1zM137 59h2v1h-2zM144 59h1v1h-1zM148 59h1v1h-1zM152 59h1v1h-1zM160 59h1v1h-1zM171 59h1v1h-1zM178 59h1v1h-1zM185 59h1v1h-1zM110 60h2v1h-2zM114 60h1v1h-1zM119 60h1v1h-1zM125 60h1v1h-1zM135 60h1v1h-1zM137 60h1v1h-1zM140 60h1v1h-1zM153 60h2v1h-2zM159 60h1v1h-1zM180 60h1v1h-1zM110 61h1v1h-1zM115 61h1v1h-1zM119 61h1v1h-1zM131 61h1v1h-1zM137 61h2v1h-2zM143 61h1v1h-1zM152 61h1v1h-1zM154 61h1v1h-1zM166 61h1v1h-1zM168 61h1v1h-1zM177 61h1v1h-1zM108 62h2v1h-2zM117 62h1v1h-1zM123 62h1v1h-1zM126 62h1v1h-1zM133 62h1v1h-1zM136 62h1v1h-1zM140 62h1v1h-1zM147 62h1v1h-1zM149 62h1v1h-1zM159 62h2v1h-2zM163 62h1v1h-1zM168 62h1v1h-1zM172 62h1v1h-1zM174 62h2v1h-2zM177 62h1v1h-1zM179 62h1v1h-1zM182 62h1v1h-1zM227 62h1v1h-1zM114 63h1v1h-1zM116 63h1v1h-1zM119 63h1v1h-1zM126 63h1v1h-1zM128 63h1v1h-1zM165 63h2v1h-2zM173 63h1v1h-1zM179 63h1v1h-1zM226 63h1v1h-1zM115 64h1v1h-1zM122 64h1v1h-1zM124 64h1v1h-1zM126 64h1v1h-1zM136 64h1v1h-1zM139 64h1v1h-1zM145 64h2v1h-2zM156 64h1v1h-1zM163 64h1v1h-1zM111 65h1v1h-1zM114 65h1v1h-1zM117 65h1v1h-1zM128 65h1v1h-1zM131 65h2v1h-2zM134 65h1v1h-1zM136 65h1v1h-1zM142 65h2v1h-2zM146 65h2v1h-2zM159 65h1v1h-1zM165 65h1v1h-1zM176 65h1v1h-1zM102 66h1v1h-1zM107 66h1v1h-1zM117 66h1v1h-1zM121 66h1v1h-1zM124 66h2v1h-2zM127 66h2v1h-2zM134 66h4v1h-4zM142 66h2v1h-2zM151 66h1v1h-1zM163 66h3v1h-3zM173 66h1v1h-1zM181 66h1v1h-1zM214 66h1v1h-1zM109 67h1v1h-1zM113 67h1v1h-1zM133 67h1v1h-1zM151 67h2v1h-2zM159 67h1v1h-1zM164 67h1v1h-1zM166 67h1v1h-1zM217 67h1v1h-1zM109 68h1v1h-1zM111 68h1v1h-1zM116 68h1v1h-1zM125 68h2v1h-2zM133 68h1v1h-1zM137 68h1v1h-1zM144 68h1v1h-1zM149 68h1v1h-1zM157 68h2v1h-2zM165 68h1v1h-1zM169 68h2v1h-2zM177 68h1v1h-1zM105 69h1v1h-1zM107 69h2v1h-2zM113 69h1v1h-1zM117 69h1v1h-1zM120 69h1v1h-1zM125 69h1v1h-1zM131 69h1v1h-1zM137 69h1v1h-1zM142 69h1v1h-1zM148 69h3v1h-3zM157 69h1v1h-1zM169 69h1v1h-1zM175 69h1v1h-1zM109 70h1v1h-1zM113 70h2v1h-2zM116 70h2v1h-2zM119 70h1v1h-1zM121 70h1v1h-1zM123 70h1v1h-1zM127 70h1v1h-1zM129 70h3v1h-3zM137 70h1v1h-1zM147 70h1v1h-1zM149 70h2v1h-2zM157 70h1v1h-1zM169 70h1v1h-1zM174 70h2v1h-2zM184 70h1v1h-1zM201 70h1v1h-1zM101 71h1v1h-1zM107 71h5v1h-5zM113 71h2v1h-2zM116 71h3v1h-3zM124 71h1v1h-1zM130 71h1v1h-1zM133 71h1v1h-1zM139 71h1v1h-1zM141 71h1v1h-1zM143 71h2v1h-2zM146 71h1v1h-1zM154 71h1v1h-1zM165 71h1v1h-1zM186 71h1v1h-1zM99 72h1v1h-1zM104 72h5v1h-5zM110 72h3v1h-3zM114 72h4v1h-4zM119 72h2v1h-2zM123 72h1v1h-1zM126 72h1v1h-1zM128 72h4v1h-4zM135 72h1v1h-1zM137 72h1v1h-1zM140 72h1v1h-1zM143 72h2v1h-2zM163 72h1v1h-1zM171 72h1v1h-1zM193 72h1v1h-1zM99 73h1v1h-1zM103 73h1v1h-1zM106 73h19v1h-19zM126 73h1v1h-1zM129 73h2v1h-2zM133 73h1v1h-1zM137 73h1v1h-1zM139 73h1v1h-1zM149 73h1v1h-1zM151 73h1v1h-1zM153 73h1v1h-1zM156 73h1v1h-1zM159 73h1v1h-1zM162 73h2v1h-2zM167 73h1v1h-1zM178 73h1v1h-1zM100 74h1v1h-1zM104 74h19v1h-19zM124 74h3v1h-3zM128 74h5v1h-5zM136 74h2v1h-2zM140 74h1v1h-1zM143 74h1v1h-1zM146 74h1v1h-1zM150 74h1v1h-1zM152 74h2v1h-2zM160 74h1v1h-1zM168 74h1v1h-1zM102 75h2v1h-2zM105 75h5v1h-5zM111 75h17v1h-17zM129 75h9v1h-9zM139 75h3v1h-3zM143 75h1v1h-1zM145 75h1v1h-1zM148 75h2v1h-2zM157 75h1v1h-1zM160 75h1v1h-1zM170 75h1v1h-1zM174 75h1v1h-1zM99 76h1v1h-1zM102 76h1v1h-1zM104 76h30v1h-30zM135 76h2v1h-2zM138 76h3v1h-3zM145 76h2v1h-2zM152 76h1v1h-1zM169 76h1v1h-1zM173 76h1v1h-1zM175 76h1v1h-1zM177 76h1v1h-1zM209 76h1v1h-1zM99 77h3v1h-3zM103 77h3v1h-3zM108 77h14v1h-14zM123 77h6v1h-6zM130 77h1v1h-1zM132 77h6v1h-6zM139 77h2v1h-2zM143 77h2v1h-2zM148 77h1v1h-1zM154 77h1v1h-1zM174 77h1v1h-1zM95 78h1v1h-1zM100 78h3v1h-3zM104 78h7v1h-7zM112 78h9v1h-9zM122 78h2v1h-2zM125 78h15v1h-15zM148 78h2v1h-2zM158 78h1v1h-1zM161 78h1v1h-1zM170 78h1v1h-1zM174 78h1v1h-1zM199 78h1v1h-1zM209 78h1v1h-1zM98 79h1v1h-1zM100 79h3v1h-3zM104 79h33v1h-33zM138 79h2v1h-2zM143 79h1v1h-1zM146 79h1v1h-1zM152 79h1v1h-1zM161 79h1v1h-1zM165 79h1v1h-1zM167 79h1v1h-1zM100 80h5v1h-5zM106 80h33v1h-33zM140 80h1v1h-1zM144 80h3v1h-3zM151 80h3v1h-3zM156 80h1v1h-1zM159 80h1v1h-1zM167 80h1v1h-1zM172 80h1v1h-1zM193 80h1v1h-1zM87 81h1v1h-1zM95 81h1v1h-1zM102 81h2v1h-2zM105 81h34v1h-34zM141 81h1v1h-1zM143 81h1v1h-1zM148 81h1v1h-1zM153 81h1v1h-1zM156 81h1v1h-1zM95 82h1v1h-1zM97 82h1v1h-1zM100 82h4v1h-4zM105 82h12v1h-12zM118 82h8v1h-8zM127 82h16v1h-16zM145 82h1v1h-1zM148 82h1v1h-1zM151 82h1v1h-1zM159 82h1v1h-1zM163 82h2v1h-2zM167 82h1v1h-1zM169 82h1v1h-1zM91 83h1v1h-1zM93 83h1v1h-1zM98 83h2v1h-2zM101 83h13v1h-13zM115 83h2v1h-2zM118 83h29v1h-29zM148 83h1v1h-1zM150 83h1v1h-1zM154 83h1v1h-1zM158 83h2v1h-2zM163 83h2v1h-2zM166 83h1v1h-1zM171 83h1v1h-1zM199 83h1v1h-1zM204 83h1v1h-1zM91 84h1v1h-1zM96 84h1v1h-1zM98 84h45v1h-45zM146 84h3v1h-3zM151 84h2v1h-2zM156 84h1v1h-1zM165 84h1v1h-1zM168 84h2v1h-2zM174 84h1v1h-1zM96 85h1v1h-1zM98 85h5v1h-5zM104 85h4v1h-4zM109 85h13v1h-13zM123 85h3v1h-3zM127 85h11v1h-11zM140 85h4v1h-4zM149 85h1v1h-1zM151 85h1v1h-1zM154 85h1v1h-1zM160 85h3v1h-3zM165 85h2v1h-2zM168 85h1v1h-1zM226 85h1v1h-1zM95 86h1v1h-1zM98 86h8v1h-8zM107 86h4v1h-4zM112 86h2v1h-2zM116 86h1v1h-1zM119 86h1v1h-1zM121 86h2v1h-2zM124 86h21v1h-21zM147 86h2v1h-2zM150 86h1v1h-1zM152 86h1v1h-1zM160 86h2v1h-2zM164 86h1v1h-1zM166 86h1v1h-1zM92 87h1v1h-1zM95 87h2v1h-2zM98 87h9v1h-9zM108 87h5v1h-5zM118 87h25v1h-25zM144 87h1v1h-1zM148 87h1v1h-1zM150 87h1v1h-1zM152 87h1v1h-1zM157 87h1v1h-1zM159 87h1v1h-1zM162 87h1v1h-1zM164 87h3v1h-3zM170 87h2v1h-2zM89 88h1v1h-1zM93 88h1v1h-1zM95 88h1v1h-1zM97 88h12v1h-12zM110 88h1v1h-1zM118 88h1v1h-1zM120 88h2v1h-2zM123 88h19v1h-19zM143 88h2v1h-2zM146 88h1v1h-1zM148 88h2v1h-2zM158 88h1v1h-1zM169 88h1v1h-1zM90 89h2v1h-2zM95 89h1v1h-1zM97 89h13v1h-13zM115 89h1v1h-1zM117 89h4v1h-4zM123 89h23v1h-23zM159 89h3v1h-3zM165 89h1v1h-1zM96 90h15v1h-15zM112 90h1v1h-1zM114 90h1v1h-1zM122 90h6v1h-6zM129 90h9v1h-9zM139 90h4v1h-4zM144 90h4v1h-4zM150 90h1v1h-1zM160 90h1v1h-1zM168 90h1v1h-1zM876 90h1v1h-1zM90 91h1v1h-1zM92 91h1v1h-1zM95 91h1v1h-1zM97 91h11v1h-11zM111 91h4v1h-4zM118 91h1v1h-1zM120 91h1v1h-1zM122 91h9v1h-9zM132 91h4v1h-4zM137 91h6v1h-6zM144 91h2v1h-2zM147 91h3v1h-3zM160 91h1v1h-1zM163 91h1v1h-1zM166 91h1v1h-1zM941 91h1v1h-1zM82 92h1v1h-1zM89 92h1v1h-1zM93 92h3v1h-3zM97 92h3v1h-3zM101 92h10v1h-10zM118 92h2v1h-2zM121 92h1v1h-1zM123 92h13v1h-13zM137 92h4v1h-4zM142 92h3v1h-3zM146 92h1v1h-1zM148 92h1v1h-1zM165 92h1v1h-1zM172 92h1v1h-1zM194 92h1v1h-1zM879 92h1v1h-1zM93 93h1v1h-1zM96 93h12v1h-12zM109 93h1v1h-1zM113 93h1v1h-1zM115 93h1v1h-1zM119 93h1v1h-1zM122 93h14v1h-14zM137 93h6v1h-6zM144 93h5v1h-5zM155 93h1v1h-1zM158 93h1v1h-1zM160 93h1v1h-1zM92 94h2v1h-2zM95 94h8v1h-8zM104 94h4v1h-4zM114 94h1v1h-1zM118 94h1v1h-1zM120 94h2v1h-2zM123 94h22v1h-22zM148 94h1v1h-1zM153 94h1v1h-1zM155 94h3v1h-3zM163 94h1v1h-1zM165 94h2v1h-2zM204 94h1v1h-1zM612 94h1v1h-1zM615 94h1v1h-1zM84 95h1v1h-1zM86 95h1v1h-1zM89 95h1v1h-1zM93 95h12v1h-12zM106 95h1v1h-1zM116 95h1v1h-1zM119 95h2v1h-2zM124 95h17v1h-17zM142 95h4v1h-4zM147 95h1v1h-1zM149 95h1v1h-1zM154 95h2v1h-2zM158 95h1v1h-1zM187 95h1v1h-1zM191 95h1v1h-1zM212 95h1v1h-1zM615 95h1v1h-1zM90 96h1v1h-1zM93 96h2v1h-2zM96 96h7v1h-7zM104 96h2v1h-2zM108 96h1v1h-1zM114 96h1v1h-1zM117 96h2v1h-2zM122 96h14v1h-14zM137 96h11v1h-11zM151 96h1v1h-1zM155 96h1v1h-1zM157 96h1v1h-1zM161 96h1v1h-1zM163 96h1v1h-1zM169 96h1v1h-1zM191 96h1v1h-1zM883 96h4v1h-4zM85 97h1v1h-1zM90 97h2v1h-2zM93 97h11v1h-11zM105 97h1v1h-1zM109 97h1v1h-1zM121 97h1v1h-1zM123 97h7v1h-7zM131 97h1v1h-1zM134 97h7v1h-7zM142 97h4v1h-4zM150 97h1v1h-1zM161 97h1v1h-1zM164 97h1v1h-1zM170 97h1v1h-1zM173 97h1v1h-1zM199 97h1v1h-1zM610 97h1v1h-1zM612 97h2v1h-2zM875 97h1v1h-1zM879 97h1v1h-1zM882 97h1v1h-1zM887 97h1v1h-1zM889 97h1v1h-1zM83 98h2v1h-2zM90 98h1v1h-1zM92 98h2v1h-2zM95 98h10v1h-10zM109 98h1v1h-1zM118 98h1v1h-1zM122 98h15v1h-15zM138 98h4v1h-4zM143 98h2v1h-2zM146 98h1v1h-1zM148 98h1v1h-1zM154 98h1v1h-1zM159 98h1v1h-1zM163 98h1v1h-1zM609 98h4v1h-4zM870 98h1v1h-1zM883 98h1v1h-1zM888 98h1v1h-1zM944 98h1v1h-1zM83 99h1v1h-1zM86 99h1v1h-1zM92 99h9v1h-9zM103 99h1v1h-1zM105 99h1v1h-1zM108 99h1v1h-1zM110 99h1v1h-1zM112 99h1v1h-1zM116 99h1v1h-1zM122 99h12v1h-12zM135 99h1v1h-1zM137 99h6v1h-6zM145 99h3v1h-3zM153 99h1v1h-1zM155 99h1v1h-1zM161 99h2v1h-2zM164 99h1v1h-1zM166 99h1v1h-1zM173 99h1v1h-1zM609 99h7v1h-7zM624 99h1v1h-1zM878 99h1v1h-1zM880 99h1v1h-1zM882 99h2v1h-2zM885 99h1v1h-1zM93 100h3v1h-3zM97 100h6v1h-6zM106 100h1v1h-1zM117 100h1v1h-1zM124 100h19v1h-19zM146 100h1v1h-1zM150 100h1v1h-1zM181 100h1v1h-1zM202 100h1v1h-1zM607 100h9v1h-9zM863 100h1v1h-1zM878 100h1v1h-1zM881 100h2v1h-2zM884 100h4v1h-4zM889 100h2v1h-2zM85 101h1v1h-1zM90 101h3v1h-3zM94 101h3v1h-3zM98 101h2v1h-2zM101 101h4v1h-4zM110 101h2v1h-2zM114 101h1v1h-1zM117 101h1v1h-1zM123 101h8v1h-8zM132 101h9v1h-9zM151 101h2v1h-2zM161 101h2v1h-2zM605 101h1v1h-1zM607 101h1v1h-1zM609 101h7v1h-7zM619 101h1v1h-1zM881 101h7v1h-7zM889 101h1v1h-1zM923 101h1v1h-1zM90 102h1v1h-1zM92 102h1v1h-1zM94 102h7v1h-7zM102 102h1v1h-1zM105 102h1v1h-1zM110 102h1v1h-1zM112 102h1v1h-1zM114 102h1v1h-1zM122 102h1v1h-1zM124 102h18v1h-18zM144 102h2v1h-2zM150 102h1v1h-1zM161 102h1v1h-1zM163 102h1v1h-1zM606 102h1v1h-1zM608 102h9v1h-9zM878 102h4v1h-4zM883 102h5v1h-5zM889 102h2v1h-2zM86 103h1v1h-1zM90 103h2v1h-2zM93 103h1v1h-1zM95 103h9v1h-9zM109 103h1v1h-1zM111 103h1v1h-1zM123 103h3v1h-3zM127 103h19v1h-19zM149 103h2v1h-2zM158 103h2v1h-2zM175 103h1v1h-1zM607 103h8v1h-8zM620 103h1v1h-1zM622 103h1v1h-1zM877 103h13v1h-13zM895 103h1v1h-1zM950 103h1v1h-1zM88 104h3v1h-3zM92 104h1v1h-1zM94 104h9v1h-9zM104 104h2v1h-2zM110 104h1v1h-1zM115 104h1v1h-1zM119 104h2v1h-2zM122 104h3v1h-3zM126 104h13v1h-13zM140 104h1v1h-1zM142 104h5v1h-5zM152 104h2v1h-2zM168 104h1v1h-1zM607 104h8v1h-8zM616 104h1v1h-1zM877 104h1v1h-1zM881 104h10v1h-10zM892 104h1v1h-1zM894 104h1v1h-1zM930 104h1v1h-1zM90 105h1v1h-1zM92 105h9v1h-9zM103 105h2v1h-2zM109 105h2v1h-2zM113 105h2v1h-2zM116 105h1v1h-1zM119 105h2v1h-2zM124 105h17v1h-17zM144 105h3v1h-3zM149 105h1v1h-1zM160 105h1v1h-1zM606 105h2v1h-2zM609 105h8v1h-8zM618 105h1v1h-1zM880 105h12v1h-12zM64 106h1v1h-1zM78 106h1v1h-1zM87 106h13v1h-13zM101 106h1v1h-1zM107 106h1v1h-1zM114 106h1v1h-1zM121 106h1v1h-1zM123 106h18v1h-18zM142 106h3v1h-3zM146 106h1v1h-1zM150 106h1v1h-1zM163 106h1v1h-1zM165 106h1v1h-1zM606 106h12v1h-12zM873 106h1v1h-1zM876 106h1v1h-1zM879 106h12v1h-12zM925 106h1v1h-1zM88 107h3v1h-3zM92 107h6v1h-6zM99 107h2v1h-2zM103 107h1v1h-1zM105 107h1v1h-1zM107 107h1v1h-1zM109 107h1v1h-1zM116 107h1v1h-1zM119 107h1v1h-1zM124 107h1v1h-1zM126 107h2v1h-2zM129 107h3v1h-3zM133 107h7v1h-7zM141 107h4v1h-4zM150 107h1v1h-1zM158 107h1v1h-1zM163 107h1v1h-1zM186 107h1v1h-1zM605 107h1v1h-1zM607 107h11v1h-11zM872 107h1v1h-1zM878 107h14v1h-14zM895 107h1v1h-1zM908 107h1v1h-1zM918 107h1v1h-1zM924 107h1v1h-1zM83 108h2v1h-2zM88 108h2v1h-2zM91 108h2v1h-2zM94 108h9v1h-9zM105 108h1v1h-1zM118 108h1v1h-1zM121 108h5v1h-5zM127 108h5v1h-5zM133 108h1v1h-1zM135 108h7v1h-7zM143 108h1v1h-1zM145 108h1v1h-1zM152 108h1v1h-1zM158 108h1v1h-1zM606 108h11v1h-11zM618 108h1v1h-1zM876 108h11v1h-11zM888 108h3v1h-3zM894 108h2v1h-2zM74 109h1v1h-1zM79 109h1v1h-1zM82 109h1v1h-1zM87 109h1v1h-1zM90 109h9v1h-9zM100 109h3v1h-3zM108 109h1v1h-1zM111 109h1v1h-1zM113 109h1v1h-1zM115 109h2v1h-2zM124 109h18v1h-18zM145 109h1v1h-1zM152 109h1v1h-1zM154 109h1v1h-1zM604 109h11v1h-11zM616 109h1v1h-1zM876 109h14v1h-14zM891 109h2v1h-2zM931 109h1v1h-1zM81 110h3v1h-3zM85 110h1v1h-1zM88 110h3v1h-3zM92 110h10v1h-10zM104 110h1v1h-1zM110 110h1v1h-1zM112 110h1v1h-1zM119 110h1v1h-1zM121 110h3v1h-3zM125 110h1v1h-1zM128 110h3v1h-3zM132 110h9v1h-9zM143 110h2v1h-2zM152 110h1v1h-1zM161 110h1v1h-1zM166 110h1v1h-1zM181 110h1v1h-1zM605 110h13v1h-13zM865 110h1v1h-1zM876 110h14v1h-14zM892 110h2v1h-2zM73 111h1v1h-1zM76 111h2v1h-2zM79 111h1v1h-1zM86 111h1v1h-1zM88 111h1v1h-1zM92 111h7v1h-7zM100 111h1v1h-1zM102 111h1v1h-1zM104 111h1v1h-1zM113 111h1v1h-1zM116 111h3v1h-3zM121 111h1v1h-1zM123 111h1v1h-1zM125 111h15v1h-15zM141 111h2v1h-2zM145 111h1v1h-1zM160 111h1v1h-1zM603 111h14v1h-14zM875 111h2v1h-2zM879 111h12v1h-12zM896 111h2v1h-2zM918 111h1v1h-1zM933 111h1v1h-1zM87 112h2v1h-2zM90 112h13v1h-13zM109 112h1v1h-1zM111 112h3v1h-3zM118 112h1v1h-1zM121 112h18v1h-18zM142 112h2v1h-2zM145 112h1v1h-1zM147 112h2v1h-2zM156 112h1v1h-1zM604 112h1v1h-1zM607 112h10v1h-10zM875 112h1v1h-1zM879 112h11v1h-11zM891 112h1v1h-1zM929 112h1v1h-1zM72 113h1v1h-1zM83 113h1v1h-1zM88 113h1v1h-1zM90 113h11v1h-11zM103 113h2v1h-2zM112 113h1v1h-1zM114 113h1v1h-1zM120 113h1v1h-1zM122 113h1v1h-1zM124 113h16v1h-16zM141 113h1v1h-1zM143 113h1v1h-1zM147 113h1v1h-1zM161 113h1v1h-1zM166 113h1v1h-1zM607 113h12v1h-12zM878 113h13v1h-13zM892 113h1v1h-1zM75 114h1v1h-1zM81 114h1v1h-1zM83 114h2v1h-2zM89 114h14v1h-14zM114 114h1v1h-1zM120 114h1v1h-1zM122 114h2v1h-2zM126 114h2v1h-2zM129 114h6v1h-6zM136 114h1v1h-1zM138 114h1v1h-1zM140 114h2v1h-2zM158 114h1v1h-1zM607 114h9v1h-9zM879 114h11v1h-11zM894 114h1v1h-1zM930 114h1v1h-1zM80 115h1v1h-1zM83 115h1v1h-1zM88 115h8v1h-8zM97 115h3v1h-3zM107 115h1v1h-1zM109 115h2v1h-2zM115 115h1v1h-1zM119 115h1v1h-1zM121 115h1v1h-1zM123 115h7v1h-7zM131 115h9v1h-9zM141 115h1v1h-1zM147 115h1v1h-1zM149 115h1v1h-1zM152 115h2v1h-2zM186 115h1v1h-1zM190 115h1v1h-1zM607 115h9v1h-9zM875 115h1v1h-1zM877 115h2v1h-2zM880 115h2v1h-2zM883 115h1v1h-1zM885 115h7v1h-7zM928 115h1v1h-1zM63 116h1v1h-1zM70 116h1v1h-1zM78 116h3v1h-3zM82 116h1v1h-1zM89 116h12v1h-12zM102 116h1v1h-1zM107 116h1v1h-1zM115 116h2v1h-2zM120 116h12v1h-12zM133 116h3v1h-3zM137 116h1v1h-1zM139 116h5v1h-5zM147 116h2v1h-2zM198 116h1v1h-1zM607 116h8v1h-8zM878 116h1v1h-1zM881 116h2v1h-2zM884 116h4v1h-4zM912 116h1v1h-1zM85 117h1v1h-1zM89 117h10v1h-10zM100 117h1v1h-1zM103 117h2v1h-2zM107 117h1v1h-1zM109 117h1v1h-1zM113 117h1v1h-1zM118 117h1v1h-1zM121 117h19v1h-19zM141 117h1v1h-1zM145 117h2v1h-2zM156 117h1v1h-1zM183 117h1v1h-1zM608 117h8v1h-8zM879 117h1v1h-1zM882 117h2v1h-2zM887 117h1v1h-1zM893 117h1v1h-1zM904 117h1v1h-1zM930 117h1v1h-1zM79 118h1v1h-1zM84 118h9v1h-9zM95 118h10v1h-10zM110 118h2v1h-2zM118 118h1v1h-1zM123 118h7v1h-7zM131 118h4v1h-4zM137 118h6v1h-6zM144 118h1v1h-1zM147 118h1v1h-1zM152 118h1v1h-1zM161 118h1v1h-1zM212 118h1v1h-1zM608 118h6v1h-6zM878 118h1v1h-1zM880 118h1v1h-1zM882 118h4v1h-4zM887 118h3v1h-3zM891 118h1v1h-1zM930 118h1v1h-1zM65 119h1v1h-1zM76 119h1v1h-1zM81 119h2v1h-2zM85 119h1v1h-1zM88 119h1v1h-1zM90 119h10v1h-10zM102 119h1v1h-1zM104 119h2v1h-2zM108 119h1v1h-1zM111 119h1v1h-1zM117 119h1v1h-1zM122 119h17v1h-17zM140 119h2v1h-2zM143 119h1v1h-1zM145 119h2v1h-2zM151 119h1v1h-1zM157 119h1v1h-1zM607 119h1v1h-1zM609 119h1v1h-1zM611 119h3v1h-3zM865 119h1v1h-1zM878 119h1v1h-1zM883 119h1v1h-1zM887 119h1v1h-1zM890 119h1v1h-1zM894 119h1v1h-1zM75 120h1v1h-1zM82 120h1v1h-1zM86 120h12v1h-12zM99 120h1v1h-1zM101 120h1v1h-1zM123 120h14v1h-14zM138 120h1v1h-1zM140 120h3v1h-3zM149 120h1v1h-1zM151 120h1v1h-1zM185 120h1v1h-1zM608 120h1v1h-1zM610 120h4v1h-4zM615 120h1v1h-1zM867 120h1v1h-1zM874 120h1v1h-1zM883 120h1v1h-1zM885 120h1v1h-1zM887 120h4v1h-4zM918 120h1v1h-1zM926 120h1v1h-1zM68 121h1v1h-1zM71 121h1v1h-1zM73 121h1v1h-1zM75 121h1v1h-1zM77 121h1v1h-1zM82 121h1v1h-1zM86 121h3v1h-3zM91 121h9v1h-9zM105 121h1v1h-1zM108 121h2v1h-2zM111 121h1v1h-1zM113 121h1v1h-1zM120 121h2v1h-2zM124 121h11v1h-11zM136 121h4v1h-4zM142 121h2v1h-2zM146 121h3v1h-3zM155 121h1v1h-1zM611 121h1v1h-1zM613 121h1v1h-1zM616 121h1v1h-1zM689 121h1v1h-1zM875 121h1v1h-1zM879 121h1v1h-1zM881 121h2v1h-2zM919 121h1v1h-1zM72 122h1v1h-1zM82 122h1v1h-1zM86 122h1v1h-1zM88 122h1v1h-1zM90 122h2v1h-2zM93 122h6v1h-6zM105 122h1v1h-1zM110 122h1v1h-1zM121 122h2v1h-2zM124 122h8v1h-8zM133 122h6v1h-6zM143 122h1v1h-1zM145 122h2v1h-2zM168 122h1v1h-1zM607 122h3v1h-3zM612 122h1v1h-1zM879 122h1v1h-1zM885 122h1v1h-1zM919 122h1v1h-1zM926 122h1v1h-1zM70 123h1v1h-1zM82 123h1v1h-1zM84 123h10v1h-10zM95 123h4v1h-4zM101 123h1v1h-1zM105 123h1v1h-1zM113 123h1v1h-1zM117 123h1v1h-1zM122 123h2v1h-2zM125 123h15v1h-15zM178 123h1v1h-1zM609 123h1v1h-1zM613 123h1v1h-1zM880 123h1v1h-1zM882 123h1v1h-1zM884 123h2v1h-2zM887 123h1v1h-1zM890 123h2v1h-2zM82 124h1v1h-1zM84 124h1v1h-1zM87 124h1v1h-1zM89 124h11v1h-11zM113 124h1v1h-1zM118 124h2v1h-2zM121 124h4v1h-4zM126 124h13v1h-13zM141 124h1v1h-1zM144 124h1v1h-1zM155 124h1v1h-1zM166 124h2v1h-2zM171 124h1v1h-1zM884 124h1v1h-1zM887 124h1v1h-1zM889 124h1v1h-1zM73 125h2v1h-2zM77 125h1v1h-1zM80 125h1v1h-1zM83 125h3v1h-3zM89 125h11v1h-11zM119 125h2v1h-2zM122 125h16v1h-16zM140 125h2v1h-2zM146 125h1v1h-1zM183 125h1v1h-1zM609 125h4v1h-4zM614 125h1v1h-1zM624 125h1v1h-1zM872 125h1v1h-1zM887 125h1v1h-1zM67 126h1v1h-1zM77 126h1v1h-1zM82 126h1v1h-1zM85 126h5v1h-5zM91 126h9v1h-9zM103 126h1v1h-1zM105 126h1v1h-1zM112 126h1v1h-1zM118 126h5v1h-5zM124 126h13v1h-13zM138 126h1v1h-1zM141 126h1v1h-1zM151 126h1v1h-1zM153 126h1v1h-1zM196 126h1v1h-1zM606 126h1v1h-1zM608 126h1v1h-1zM610 126h1v1h-1zM883 126h1v1h-1zM886 126h1v1h-1zM889 126h1v1h-1zM67 127h1v1h-1zM79 127h1v1h-1zM84 127h1v1h-1zM89 127h7v1h-7zM97 127h1v1h-1zM100 127h1v1h-1zM109 127h1v1h-1zM115 127h1v1h-1zM120 127h1v1h-1zM122 127h13v1h-13zM136 127h1v1h-1zM138 127h1v1h-1zM140 127h2v1h-2zM143 127h1v1h-1zM146 127h2v1h-2zM149 127h2v1h-2zM158 127h1v1h-1zM609 127h1v1h-1zM614 127h1v1h-1zM616 127h2v1h-2zM620 127h2v1h-2zM869 127h1v1h-1zM879 127h1v1h-1zM887 127h2v1h-2zM69 128h1v1h-1zM80 128h1v1h-1zM82 128h2v1h-2zM85 128h2v1h-2zM88 128h12v1h-12zM105 128h1v1h-1zM117 128h1v1h-1zM121 128h2v1h-2zM124 128h11v1h-11zM137 128h1v1h-1zM141 128h1v1h-1zM143 128h2v1h-2zM148 128h1v1h-1zM156 128h1v1h-1zM610 128h1v1h-1zM612 128h1v1h-1zM615 128h1v1h-1zM619 128h1v1h-1zM624 128h1v1h-1zM882 128h2v1h-2zM62 129h1v1h-1zM68 129h1v1h-1zM76 129h1v1h-1zM84 129h3v1h-3zM89 129h2v1h-2zM92 129h4v1h-4zM97 129h1v1h-1zM99 129h1v1h-1zM101 129h1v1h-1zM106 129h1v1h-1zM110 129h1v1h-1zM113 129h1v1h-1zM119 129h4v1h-4zM124 129h13v1h-13zM138 129h4v1h-4zM143 129h1v1h-1zM150 129h1v1h-1zM609 129h1v1h-1zM891 129h1v1h-1zM895 129h1v1h-1zM69 130h1v1h-1zM81 130h1v1h-1zM83 130h2v1h-2zM87 130h3v1h-3zM91 130h8v1h-8zM101 130h1v1h-1zM105 130h1v1h-1zM115 130h1v1h-1zM117 130h1v1h-1zM119 130h7v1h-7zM127 130h9v1h-9zM140 130h1v1h-1zM143 130h1v1h-1zM146 130h1v1h-1zM607 130h1v1h-1zM612 130h1v1h-1zM617 130h2v1h-2zM620 130h1v1h-1zM622 130h1v1h-1zM873 130h1v1h-1zM884 130h1v1h-1zM889 130h1v1h-1zM911 130h1v1h-1zM66 131h1v1h-1zM75 131h1v1h-1zM84 131h3v1h-3zM88 131h11v1h-11zM100 131h1v1h-1zM114 131h1v1h-1zM117 131h2v1h-2zM120 131h2v1h-2zM123 131h6v1h-6zM130 131h4v1h-4zM135 131h5v1h-5zM141 131h1v1h-1zM158 131h1v1h-1zM613 131h3v1h-3zM883 131h2v1h-2zM887 131h1v1h-1zM893 131h1v1h-1zM71 132h1v1h-1zM80 132h1v1h-1zM83 132h1v1h-1zM86 132h6v1h-6zM93 132h4v1h-4zM98 132h2v1h-2zM104 132h2v1h-2zM107 132h1v1h-1zM119 132h16v1h-16zM136 132h1v1h-1zM141 132h1v1h-1zM153 132h1v1h-1zM191 132h1v1h-1zM406 132h1v1h-1zM611 132h2v1h-2zM614 132h1v1h-1zM616 132h1v1h-1zM886 132h1v1h-1zM908 132h1v1h-1zM59 133h1v1h-1zM67 133h1v1h-1zM72 133h2v1h-2zM75 133h1v1h-1zM82 133h3v1h-3zM88 133h7v1h-7zM96 133h6v1h-6zM114 133h2v1h-2zM117 133h1v1h-1zM119 133h18v1h-18zM401 133h1v1h-1zM404 133h2v1h-2zM610 133h6v1h-6zM880 133h1v1h-1zM883 133h1v1h-1zM885 133h1v1h-1zM60 134h1v1h-1zM81 134h2v1h-2zM88 134h13v1h-13zM116 134h1v1h-1zM118 134h2v1h-2zM121 134h2v1h-2zM124 134h2v1h-2zM128 134h8v1h-8zM137 134h1v1h-1zM149 134h1v1h-1zM153 134h1v1h-1zM400 134h1v1h-1zM402 134h6v1h-6zM609 134h1v1h-1zM879 134h1v1h-1zM881 134h1v1h-1zM79 135h2v1h-2zM84 135h2v1h-2zM88 135h4v1h-4zM93 135h9v1h-9zM107 135h1v1h-1zM109 135h1v1h-1zM111 135h1v1h-1zM113 135h2v1h-2zM116 135h19v1h-19zM137 135h1v1h-1zM140 135h2v1h-2zM399 135h1v1h-1zM401 135h4v1h-4zM407 135h1v1h-1zM609 135h1v1h-1zM618 135h2v1h-2zM621 135h1v1h-1zM882 135h1v1h-1zM886 135h2v1h-2zM890 135h1v1h-1zM77 136h1v1h-1zM79 136h2v1h-2zM83 136h1v1h-1zM85 136h1v1h-1zM87 136h1v1h-1zM89 136h12v1h-12zM102 136h1v1h-1zM106 136h1v1h-1zM108 136h1v1h-1zM110 136h1v1h-1zM113 136h22v1h-22zM136 136h2v1h-2zM139 136h1v1h-1zM144 136h1v1h-1zM149 136h1v1h-1zM157 136h2v1h-2zM168 136h1v1h-1zM395 136h1v1h-1zM397 136h2v1h-2zM400 136h3v1h-3zM404 136h4v1h-4zM605 136h1v1h-1zM616 136h1v1h-1zM623 136h1v1h-1zM886 136h1v1h-1zM60 137h1v1h-1zM78 137h1v1h-1zM83 137h3v1h-3zM87 137h4v1h-4zM93 137h4v1h-4zM98 137h4v1h-4zM103 137h1v1h-1zM109 137h1v1h-1zM113 137h22v1h-22zM137 137h1v1h-1zM139 137h1v1h-1zM141 137h2v1h-2zM145 137h1v1h-1zM147 137h1v1h-1zM158 137h1v1h-1zM391 137h1v1h-1zM395 137h4v1h-4zM400 137h6v1h-6zM610 137h1v1h-1zM616 137h1v1h-1zM882 137h1v1h-1zM73 138h1v1h-1zM80 138h1v1h-1zM82 138h1v1h-1zM85 138h1v1h-1zM87 138h1v1h-1zM89 138h11v1h-11zM103 138h2v1h-2zM110 138h1v1h-1zM114 138h11v1h-11zM126 138h14v1h-14zM141 138h2v1h-2zM181 138h1v1h-1zM392 138h1v1h-1zM394 138h2v1h-2zM398 138h2v1h-2zM401 138h5v1h-5zM613 138h1v1h-1zM616 138h1v1h-1zM619 138h1v1h-1zM881 138h1v1h-1zM883 138h2v1h-2zM887 138h1v1h-1zM889 138h1v1h-1zM67 139h1v1h-1zM70 139h1v1h-1zM72 139h1v1h-1zM77 139h1v1h-1zM81 139h1v1h-1zM83 139h6v1h-6zM90 139h2v1h-2zM93 139h6v1h-6zM100 139h4v1h-4zM106 139h2v1h-2zM111 139h1v1h-1zM115 139h1v1h-1zM117 139h10v1h-10zM128 139h3v1h-3zM135 139h2v1h-2zM138 139h2v1h-2zM236 139h1v1h-1zM390 139h1v1h-1zM394 139h9v1h-9zM404 139h3v1h-3zM614 139h1v1h-1zM617 139h2v1h-2zM620 139h1v1h-1zM882 139h1v1h-1zM884 139h2v1h-2zM887 139h1v1h-1zM74 140h1v1h-1zM76 140h4v1h-4zM84 140h1v1h-1zM86 140h1v1h-1zM88 140h2v1h-2zM91 140h12v1h-12zM104 140h2v1h-2zM107 140h1v1h-1zM109 140h1v1h-1zM113 140h8v1h-8zM122 140h11v1h-11zM136 140h1v1h-1zM140 140h1v1h-1zM142 140h1v1h-1zM149 140h2v1h-2zM152 140h1v1h-1zM391 140h6v1h-6zM398 140h8v1h-8zM608 140h2v1h-2zM611 140h1v1h-1zM620 140h1v1h-1zM883 140h3v1h-3zM887 140h1v1h-1zM70 141h3v1h-3zM83 141h1v1h-1zM86 141h3v1h-3zM90 141h2v1h-2zM93 141h11v1h-11zM107 141h2v1h-2zM111 141h3v1h-3zM115 141h17v1h-17zM133 141h4v1h-4zM140 141h1v1h-1zM392 141h4v1h-4zM397 141h3v1h-3zM401 141h4v1h-4zM407 141h1v1h-1zM605 141h1v1h-1zM618 141h1v1h-1zM620 141h1v1h-1zM883 141h2v1h-2zM886 141h2v1h-2zM65 142h1v1h-1zM72 142h3v1h-3zM77 142h1v1h-1zM82 142h1v1h-1zM85 142h2v1h-2zM88 142h1v1h-1zM90 142h15v1h-15zM107 142h1v1h-1zM109 142h1v1h-1zM111 142h1v1h-1zM113 142h10v1h-10zM124 142h4v1h-4zM129 142h1v1h-1zM131 142h3v1h-3zM135 142h1v1h-1zM160 142h1v1h-1zM388 142h9v1h-9zM398 142h1v1h-1zM400 142h7v1h-7zM597 142h1v1h-1zM618 142h1v1h-1zM624 142h1v1h-1zM881 142h1v1h-1zM884 142h1v1h-1zM886 142h1v1h-1zM64 143h1v1h-1zM70 143h1v1h-1zM76 143h2v1h-2zM79 143h1v1h-1zM81 143h3v1h-3zM85 143h1v1h-1zM87 143h17v1h-17zM107 143h1v1h-1zM110 143h12v1h-12zM123 143h9v1h-9zM133 143h1v1h-1zM135 143h1v1h-1zM137 143h2v1h-2zM164 143h1v1h-1zM168 143h1v1h-1zM386 143h5v1h-5zM392 143h7v1h-7zM400 143h5v1h-5zM608 143h1v1h-1zM612 143h1v1h-1zM624 143h1v1h-1zM878 143h1v1h-1zM882 143h1v1h-1zM884 143h2v1h-2zM887 143h1v1h-1zM889 143h1v1h-1zM67 144h1v1h-1zM70 144h2v1h-2zM74 144h1v1h-1zM76 144h1v1h-1zM80 144h2v1h-2zM83 144h7v1h-7zM91 144h14v1h-14zM106 144h1v1h-1zM109 144h2v1h-2zM112 144h8v1h-8zM121 144h9v1h-9zM132 144h3v1h-3zM138 144h1v1h-1zM144 144h2v1h-2zM159 144h1v1h-1zM384 144h1v1h-1zM386 144h10v1h-10zM397 144h9v1h-9zM407 144h1v1h-1zM616 144h1v1h-1zM881 144h1v1h-1zM884 144h1v1h-1zM66 145h1v1h-1zM70 145h1v1h-1zM75 145h1v1h-1zM78 145h1v1h-1zM80 145h2v1h-2zM85 145h1v1h-1zM87 145h1v1h-1zM89 145h1v1h-1zM92 145h17v1h-17zM111 145h1v1h-1zM113 145h18v1h-18zM133 145h3v1h-3zM139 145h1v1h-1zM146 145h1v1h-1zM170 145h1v1h-1zM384 145h9v1h-9zM394 145h6v1h-6zM401 145h3v1h-3zM406 145h1v1h-1zM604 145h1v1h-1zM621 145h1v1h-1zM883 145h1v1h-1zM885 145h1v1h-1zM887 145h2v1h-2zM59 146h1v1h-1zM66 146h1v1h-1zM71 146h1v1h-1zM74 146h1v1h-1zM82 146h8v1h-8zM92 146h11v1h-11zM106 146h9v1h-9zM116 146h17v1h-17zM135 146h1v1h-1zM151 146h1v1h-1zM161 146h1v1h-1zM381 146h1v1h-1zM383 146h23v1h-23zM599 146h1v1h-1zM609 146h1v1h-1zM611 146h1v1h-1zM614 146h1v1h-1zM884 146h2v1h-2zM68 147h1v1h-1zM77 147h1v1h-1zM80 147h1v1h-1zM82 147h1v1h-1zM85 147h2v1h-2zM88 147h2v1h-2zM91 147h12v1h-12zM104 147h2v1h-2zM107 147h2v1h-2zM110 147h20v1h-20zM131 147h1v1h-1zM133 147h2v1h-2zM138 147h1v1h-1zM143 147h1v1h-1zM151 147h1v1h-1zM383 147h10v1h-10zM394 147h8v1h-8zM403 147h4v1h-4zM608 147h1v1h-1zM612 147h1v1h-1zM615 147h1v1h-1zM618 147h1v1h-1zM622 147h1v1h-1zM871 147h1v1h-1zM879 147h1v1h-1zM883 147h4v1h-4zM59 148h1v1h-1zM61 148h1v1h-1zM68 148h2v1h-2zM73 148h1v1h-1zM77 148h1v1h-1zM82 148h1v1h-1zM84 148h2v1h-2zM87 148h17v1h-17zM105 148h3v1h-3zM109 148h6v1h-6zM116 148h13v1h-13zM131 148h1v1h-1zM133 148h3v1h-3zM151 148h1v1h-1zM165 148h1v1h-1zM380 148h9v1h-9zM390 148h1v1h-1zM392 148h1v1h-1zM394 148h12v1h-12zM604 148h2v1h-2zM607 148h1v1h-1zM614 148h1v1h-1zM883 148h1v1h-1zM887 148h1v1h-1zM889 148h1v1h-1zM58 149h1v1h-1zM61 149h1v1h-1zM72 149h1v1h-1zM77 149h2v1h-2zM80 149h2v1h-2zM83 149h4v1h-4zM88 149h3v1h-3zM92 149h8v1h-8zM101 149h1v1h-1zM104 149h1v1h-1zM107 149h1v1h-1zM109 149h10v1h-10zM120 149h5v1h-5zM126 149h3v1h-3zM130 149h3v1h-3zM134 149h1v1h-1zM136 149h1v1h-1zM139 149h1v1h-1zM142 149h1v1h-1zM379 149h13v1h-13zM393 149h3v1h-3zM397 149h8v1h-8zM406 149h1v1h-1zM408 149h1v1h-1zM609 149h1v1h-1zM611 149h1v1h-1zM621 149h1v1h-1zM880 149h2v1h-2zM883 149h3v1h-3zM68 150h1v1h-1zM70 150h3v1h-3zM76 150h1v1h-1zM80 150h1v1h-1zM82 150h2v1h-2zM88 150h8v1h-8zM97 150h5v1h-5zM107 150h2v1h-2zM110 150h21v1h-21zM135 150h2v1h-2zM139 150h1v1h-1zM146 150h1v1h-1zM379 150h12v1h-12zM393 150h13v1h-13zM612 150h2v1h-2zM616 150h2v1h-2zM619 150h2v1h-2zM884 150h2v1h-2zM61 151h1v1h-1zM71 151h2v1h-2zM75 151h1v1h-1zM80 151h2v1h-2zM84 151h1v1h-1zM86 151h3v1h-3zM92 151h2v1h-2zM95 151h5v1h-5zM106 151h2v1h-2zM109 151h16v1h-16zM126 151h2v1h-2zM132 151h2v1h-2zM141 151h1v1h-1zM377 151h12v1h-12zM390 151h1v1h-1zM393 151h7v1h-7zM401 151h5v1h-5zM611 151h2v1h-2zM616 151h1v1h-1zM622 151h2v1h-2zM879 151h1v1h-1zM883 151h4v1h-4zM66 152h2v1h-2zM79 152h5v1h-5zM86 152h1v1h-1zM88 152h1v1h-1zM90 152h3v1h-3zM94 152h2v1h-2zM97 152h1v1h-1zM100 152h1v1h-1zM106 152h1v1h-1zM108 152h13v1h-13zM122 152h1v1h-1zM124 152h1v1h-1zM127 152h1v1h-1zM129 152h2v1h-2zM132 152h2v1h-2zM135 152h2v1h-2zM142 152h2v1h-2zM375 152h15v1h-15zM391 152h9v1h-9zM401 152h6v1h-6zM605 152h1v1h-1zM608 152h2v1h-2zM611 152h1v1h-1zM623 152h1v1h-1zM881 152h1v1h-1zM884 152h2v1h-2zM888 152h1v1h-1zM64 153h1v1h-1zM71 153h1v1h-1zM73 153h1v1h-1zM76 153h1v1h-1zM79 153h2v1h-2zM82 153h2v1h-2zM85 153h1v1h-1zM88 153h7v1h-7zM96 153h1v1h-1zM99 153h1v1h-1zM101 153h1v1h-1zM108 153h1v1h-1zM112 153h11v1h-11zM126 153h2v1h-2zM130 153h2v1h-2zM133 153h1v1h-1zM135 153h3v1h-3zM144 153h1v1h-1zM157 153h1v1h-1zM373 153h1v1h-1zM376 153h24v1h-24zM401 153h5v1h-5zM407 153h1v1h-1zM611 153h1v1h-1zM618 153h1v1h-1zM622 153h1v1h-1zM625 153h1v1h-1zM882 153h5v1h-5zM889 153h2v1h-2zM892 153h1v1h-1zM63 154h1v1h-1zM66 154h1v1h-1zM72 154h1v1h-1zM75 154h1v1h-1zM78 154h2v1h-2zM81 154h1v1h-1zM83 154h7v1h-7zM91 154h6v1h-6zM103 154h1v1h-1zM108 154h1v1h-1zM111 154h6v1h-6zM118 154h5v1h-5zM127 154h1v1h-1zM129 154h1v1h-1zM134 154h2v1h-2zM144 154h1v1h-1zM167 154h1v1h-1zM374 154h16v1h-16zM392 154h7v1h-7zM400 154h7v1h-7zM609 154h2v1h-2zM613 154h1v1h-1zM615 154h1v1h-1zM621 154h1v1h-1zM623 154h1v1h-1zM879 154h1v1h-1zM882 154h8v1h-8zM63 155h1v1h-1zM66 155h1v1h-1zM75 155h3v1h-3zM80 155h1v1h-1zM83 155h1v1h-1zM85 155h10v1h-10zM102 155h1v1h-1zM105 155h1v1h-1zM108 155h1v1h-1zM110 155h1v1h-1zM112 155h5v1h-5zM118 155h6v1h-6zM125 155h1v1h-1zM127 155h1v1h-1zM129 155h1v1h-1zM131 155h1v1h-1zM138 155h2v1h-2zM165 155h1v1h-1zM372 155h18v1h-18zM392 155h4v1h-4zM398 155h2v1h-2zM401 155h5v1h-5zM407 155h1v1h-1zM611 155h2v1h-2zM616 155h1v1h-1zM619 155h4v1h-4zM626 155h1v1h-1zM882 155h7v1h-7zM894 155h1v1h-1zM60 156h1v1h-1zM70 156h1v1h-1zM75 156h1v1h-1zM77 156h2v1h-2zM80 156h6v1h-6zM87 156h9v1h-9zM106 156h2v1h-2zM110 156h17v1h-17zM133 156h1v1h-1zM140 156h1v1h-1zM148 156h2v1h-2zM371 156h13v1h-13zM385 156h16v1h-16zM402 156h5v1h-5zM408 156h1v1h-1zM609 156h6v1h-6zM616 156h5v1h-5zM877 156h1v1h-1zM881 156h8v1h-8zM58 157h1v1h-1zM66 157h1v1h-1zM68 157h1v1h-1zM73 157h1v1h-1zM77 157h4v1h-4zM83 157h1v1h-1zM85 157h8v1h-8zM94 157h2v1h-2zM109 157h12v1h-12zM122 157h2v1h-2zM126 157h2v1h-2zM130 157h1v1h-1zM133 157h1v1h-1zM141 157h1v1h-1zM371 157h24v1h-24zM396 157h10v1h-10zM609 157h1v1h-1zM611 157h11v1h-11zM880 157h9v1h-9zM65 158h1v1h-1zM68 158h1v1h-1zM73 158h2v1h-2zM76 158h1v1h-1zM79 158h2v1h-2zM82 158h2v1h-2zM86 158h1v1h-1zM88 158h6v1h-6zM95 158h1v1h-1zM97 158h2v1h-2zM103 158h2v1h-2zM110 158h12v1h-12zM125 158h1v1h-1zM131 158h2v1h-2zM134 158h1v1h-1zM141 158h1v1h-1zM144 158h1v1h-1zM149 158h1v1h-1zM151 158h1v1h-1zM369 158h23v1h-23zM394 158h6v1h-6zM401 158h1v1h-1zM403 158h3v1h-3zM609 158h1v1h-1zM611 158h13v1h-13zM628 158h1v1h-1zM879 158h10v1h-10zM890 158h1v1h-1zM895 158h1v1h-1zM60 159h1v1h-1zM62 159h1v1h-1zM69 159h1v1h-1zM71 159h1v1h-1zM73 159h2v1h-2zM77 159h1v1h-1zM81 159h1v1h-1zM83 159h1v1h-1zM85 159h2v1h-2zM89 159h8v1h-8zM108 159h3v1h-3zM112 159h7v1h-7zM120 159h1v1h-1zM124 159h1v1h-1zM129 159h1v1h-1zM138 159h1v1h-1zM369 159h10v1h-10zM380 159h19v1h-19zM401 159h1v1h-1zM403 159h4v1h-4zM606 159h1v1h-1zM608 159h14v1h-14zM623 159h1v1h-1zM627 159h1v1h-1zM875 159h1v1h-1zM879 159h2v1h-2zM882 159h7v1h-7zM66 160h1v1h-1zM71 160h2v1h-2zM74 160h1v1h-1zM82 160h2v1h-2zM86 160h4v1h-4zM91 160h1v1h-1zM93 160h1v1h-1zM96 160h1v1h-1zM98 160h1v1h-1zM107 160h2v1h-2zM110 160h7v1h-7zM118 160h3v1h-3zM122 160h3v1h-3zM126 160h5v1h-5zM133 160h1v1h-1zM136 160h1v1h-1zM161 160h1v1h-1zM367 160h13v1h-13zM381 160h7v1h-7zM389 160h11v1h-11zM402 160h3v1h-3zM408 160h1v1h-1zM607 160h1v1h-1zM609 160h1v1h-1zM611 160h7v1h-7zM619 160h4v1h-4zM634 160h1v1h-1zM644 160h1v1h-1zM880 160h8v1h-8zM889 160h1v1h-1zM898 160h1v1h-1zM59 161h2v1h-2zM64 161h1v1h-1zM68 161h2v1h-2zM74 161h1v1h-1zM78 161h5v1h-5zM84 161h5v1h-5zM90 161h4v1h-4zM95 161h1v1h-1zM97 161h1v1h-1zM99 161h1v1h-1zM106 161h1v1h-1zM108 161h1v1h-1zM110 161h8v1h-8zM119 161h2v1h-2zM122 161h1v1h-1zM124 161h2v1h-2zM134 161h1v1h-1zM138 161h1v1h-1zM366 161h9v1h-9zM376 161h12v1h-12zM389 161h6v1h-6zM396 161h5v1h-5zM402 161h3v1h-3zM609 161h15v1h-15zM877 161h1v1h-1zM879 161h11v1h-11zM891 161h1v1h-1zM894 161h1v1h-1zM60 162h1v1h-1zM62 162h1v1h-1zM74 162h3v1h-3zM78 162h1v1h-1zM83 162h8v1h-8zM94 162h1v1h-1zM104 162h1v1h-1zM107 162h1v1h-1zM109 162h1v1h-1zM112 162h7v1h-7zM120 162h1v1h-1zM122 162h1v1h-1zM125 162h1v1h-1zM128 162h1v1h-1zM139 162h1v1h-1zM365 162h31v1h-31zM398 162h7v1h-7zM406 162h2v1h-2zM607 162h1v1h-1zM609 162h16v1h-16zM626 162h1v1h-1zM642 162h1v1h-1zM878 162h12v1h-12zM892 162h1v1h-1zM896 162h1v1h-1zM67 163h2v1h-2zM72 163h1v1h-1zM74 163h1v1h-1zM76 163h1v1h-1zM79 163h2v1h-2zM82 163h1v1h-1zM84 163h10v1h-10zM95 163h1v1h-1zM99 163h1v1h-1zM101 163h1v1h-1zM105 163h1v1h-1zM109 163h1v1h-1zM111 163h7v1h-7zM119 163h2v1h-2zM124 163h1v1h-1zM126 163h1v1h-1zM138 163h4v1h-4zM150 163h1v1h-1zM366 163h21v1h-21zM389 163h12v1h-12zM402 163h4v1h-4zM608 163h1v1h-1zM610 163h15v1h-15zM627 163h1v1h-1zM638 163h1v1h-1zM877 163h14v1h-14zM892 163h1v1h-1zM894 163h1v1h-1zM61 164h3v1h-3zM66 164h1v1h-1zM69 164h2v1h-2zM75 164h1v1h-1zM77 164h4v1h-4zM82 164h1v1h-1zM85 164h9v1h-9zM104 164h1v1h-1zM110 164h11v1h-11zM122 164h4v1h-4zM129 164h1v1h-1zM132 164h1v1h-1zM134 164h1v1h-1zM363 164h25v1h-25zM390 164h2v1h-2zM393 164h6v1h-6zM400 164h7v1h-7zM408 164h1v1h-1zM606 164h1v1h-1zM608 164h19v1h-19zM630 164h1v1h-1zM880 164h10v1h-10zM65 165h2v1h-2zM75 165h1v1h-1zM79 165h1v1h-1zM81 165h1v1h-1zM83 165h4v1h-4zM88 165h3v1h-3zM92 165h2v1h-2zM97 165h1v1h-1zM101 165h1v1h-1zM104 165h1v1h-1zM107 165h1v1h-1zM111 165h4v1h-4zM116 165h3v1h-3zM120 165h1v1h-1zM122 165h1v1h-1zM124 165h1v1h-1zM127 165h3v1h-3zM144 165h1v1h-1zM362 165h38v1h-38zM401 165h1v1h-1zM403 165h2v1h-2zM604 165h1v1h-1zM608 165h1v1h-1zM610 165h14v1h-14zM625 165h2v1h-2zM877 165h1v1h-1zM880 165h12v1h-12zM73 166h1v1h-1zM76 166h1v1h-1zM78 166h1v1h-1zM81 166h1v1h-1zM84 166h2v1h-2zM87 166h5v1h-5zM93 166h2v1h-2zM97 166h2v1h-2zM101 166h1v1h-1zM110 166h8v1h-8zM120 166h2v1h-2zM123 166h1v1h-1zM125 166h3v1h-3zM129 166h1v1h-1zM131 166h1v1h-1zM133 166h1v1h-1zM136 166h1v1h-1zM359 166h1v1h-1zM361 166h25v1h-25zM387 166h9v1h-9zM398 166h1v1h-1zM400 166h1v1h-1zM402 166h3v1h-3zM607 166h17v1h-17zM627 166h1v1h-1zM636 166h1v1h-1zM879 166h13v1h-13zM893 166h1v1h-1zM55 167h1v1h-1zM58 167h2v1h-2zM62 167h1v1h-1zM65 167h1v1h-1zM70 167h2v1h-2zM78 167h5v1h-5zM86 167h8v1h-8zM102 167h1v1h-1zM105 167h1v1h-1zM110 167h1v1h-1zM112 167h6v1h-6zM119 167h4v1h-4zM130 167h1v1h-1zM132 167h3v1h-3zM358 167h29v1h-29zM388 167h1v1h-1zM390 167h13v1h-13zM407 167h1v1h-1zM607 167h3v1h-3zM611 167h15v1h-15zM877 167h16v1h-16zM60 168h1v1h-1zM65 168h3v1h-3zM74 168h1v1h-1zM78 168h1v1h-1zM81 168h2v1h-2zM86 168h6v1h-6zM93 168h1v1h-1zM106 168h15v1h-15zM123 168h1v1h-1zM132 168h1v1h-1zM134 168h1v1h-1zM136 168h1v1h-1zM359 168h27v1h-27zM389 168h4v1h-4zM394 168h2v1h-2zM397 168h1v1h-1zM399 168h4v1h-4zM405 168h1v1h-1zM606 168h19v1h-19zM631 168h1v1h-1zM876 168h1v1h-1zM878 168h5v1h-5zM884 168h10v1h-10zM895 168h1v1h-1zM899 168h1v1h-1zM65 169h1v1h-1zM67 169h1v1h-1zM69 169h1v1h-1zM72 169h2v1h-2zM76 169h4v1h-4zM81 169h9v1h-9zM91 169h1v1h-1zM93 169h1v1h-1zM95 169h4v1h-4zM100 169h1v1h-1zM103 169h1v1h-1zM107 169h1v1h-1zM109 169h7v1h-7zM118 169h1v1h-1zM122 169h6v1h-6zM132 169h1v1h-1zM139 169h1v1h-1zM152 169h1v1h-1zM356 169h1v1h-1zM358 169h31v1h-31zM390 169h6v1h-6zM397 169h2v1h-2zM606 169h21v1h-21zM628 169h1v1h-1zM630 169h1v1h-1zM634 169h1v1h-1zM876 169h1v1h-1zM880 169h11v1h-11zM892 169h1v1h-1zM63 170h1v1h-1zM69 170h2v1h-2zM77 170h2v1h-2zM80 170h2v1h-2zM83 170h4v1h-4zM88 170h1v1h-1zM90 170h2v1h-2zM94 170h1v1h-1zM96 170h1v1h-1zM106 170h1v1h-1zM108 170h8v1h-8zM117 170h3v1h-3zM124 170h1v1h-1zM130 170h3v1h-3zM136 170h1v1h-1zM357 170h1v1h-1zM359 170h34v1h-34zM394 170h3v1h-3zM402 170h1v1h-1zM405 170h1v1h-1zM605 170h22v1h-22zM878 170h15v1h-15zM62 171h1v1h-1zM64 171h2v1h-2zM71 171h4v1h-4zM79 171h4v1h-4zM84 171h1v1h-1zM86 171h9v1h-9zM98 171h1v1h-1zM106 171h9v1h-9zM116 171h8v1h-8zM125 171h1v1h-1zM132 171h2v1h-2zM356 171h31v1h-31zM388 171h5v1h-5zM394 171h1v1h-1zM396 171h1v1h-1zM403 171h1v1h-1zM602 171h1v1h-1zM606 171h19v1h-19zM626 171h1v1h-1zM628 171h1v1h-1zM871 171h1v1h-1zM877 171h15v1h-15zM902 171h1v1h-1zM58 172h4v1h-4zM63 172h5v1h-5zM70 172h2v1h-2zM73 172h2v1h-2zM76 172h3v1h-3zM80 172h1v1h-1zM86 172h10v1h-10zM97 172h2v1h-2zM105 172h10v1h-10zM116 172h2v1h-2zM119 172h1v1h-1zM122 172h3v1h-3zM355 172h29v1h-29zM387 172h5v1h-5zM393 172h3v1h-3zM603 172h2v1h-2zM606 172h19v1h-19zM874 172h2v1h-2zM878 172h15v1h-15zM896 172h1v1h-1zM898 172h1v1h-1zM55 173h6v1h-6zM62 173h23v1h-23zM86 173h1v1h-1zM88 173h7v1h-7zM96 173h1v1h-1zM102 173h7v1h-7zM110 173h5v1h-5zM118 173h1v1h-1zM121 173h3v1h-3zM126 173h3v1h-3zM130 173h2v1h-2zM133 173h1v1h-1zM135 173h2v1h-2zM353 173h17v1h-17zM371 173h15v1h-15zM389 173h2v1h-2zM394 173h1v1h-1zM396 173h1v1h-1zM399 173h2v1h-2zM402 173h2v1h-2zM405 173h2v1h-2zM603 173h23v1h-23zM629 173h1v1h-1zM878 173h16v1h-16zM56 174h3v1h-3zM60 174h4v1h-4zM66 174h2v1h-2zM69 174h13v1h-13zM83 174h3v1h-3zM87 174h2v1h-2zM90 174h5v1h-5zM96 174h2v1h-2zM99 174h1v1h-1zM102 174h1v1h-1zM104 174h1v1h-1zM106 174h6v1h-6zM113 174h2v1h-2zM116 174h1v1h-1zM118 174h4v1h-4zM125 174h1v1h-1zM129 174h1v1h-1zM131 174h2v1h-2zM136 174h1v1h-1zM352 174h33v1h-33zM387 174h1v1h-1zM390 174h2v1h-2zM396 174h1v1h-1zM400 174h1v1h-1zM403 174h1v1h-1zM405 174h1v1h-1zM603 174h22v1h-22zM635 174h1v1h-1zM640 174h1v1h-1zM876 174h1v1h-1zM878 174h15v1h-15zM898 174h1v1h-1zM55 175h2v1h-2zM58 175h4v1h-4zM63 175h4v1h-4zM68 175h20v1h-20zM89 175h1v1h-1zM91 175h7v1h-7zM99 175h1v1h-1zM102 175h4v1h-4zM108 175h5v1h-5zM114 175h1v1h-1zM117 175h4v1h-4zM122 175h3v1h-3zM133 175h1v1h-1zM138 175h1v1h-1zM352 175h33v1h-33zM387 175h2v1h-2zM397 175h1v1h-1zM400 175h1v1h-1zM602 175h1v1h-1zM604 175h12v1h-12zM617 175h9v1h-9zM633 175h1v1h-1zM877 175h16v1h-16zM894 175h1v1h-1zM903 175h1v1h-1zM55 176h2v1h-2zM58 176h1v1h-1zM60 176h25v1h-25zM86 176h9v1h-9zM97 176h1v1h-1zM100 176h3v1h-3zM104 176h7v1h-7zM115 176h3v1h-3zM120 176h1v1h-1zM122 176h2v1h-2zM125 176h1v1h-1zM127 176h1v1h-1zM129 176h1v1h-1zM131 176h1v1h-1zM135 176h1v1h-1zM351 176h31v1h-31zM385 176h1v1h-1zM392 176h1v1h-1zM404 176h1v1h-1zM604 176h21v1h-21zM627 176h2v1h-2zM632 176h1v1h-1zM635 176h1v1h-1zM638 176h1v1h-1zM640 176h1v1h-1zM643 176h1v1h-1zM874 176h1v1h-1zM876 176h18v1h-18zM56 177h10v1h-10zM67 177h4v1h-4zM72 177h8v1h-8zM81 177h3v1h-3zM86 177h7v1h-7zM94 177h3v1h-3zM98 177h3v1h-3zM102 177h1v1h-1zM104 177h5v1h-5zM110 177h5v1h-5zM116 177h4v1h-4zM121 177h2v1h-2zM125 177h1v1h-1zM139 177h1v1h-1zM349 177h18v1h-18zM368 177h11v1h-11zM381 177h1v1h-1zM391 177h1v1h-1zM604 177h23v1h-23zM631 177h1v1h-1zM874 177h1v1h-1zM876 177h17v1h-17zM894 177h1v1h-1zM897 177h1v1h-1zM56 178h15v1h-15zM72 178h23v1h-23zM96 178h1v1h-1zM100 178h1v1h-1zM102 178h4v1h-4zM107 178h2v1h-2zM110 178h1v1h-1zM112 178h3v1h-3zM118 178h2v1h-2zM121 178h1v1h-1zM124 178h1v1h-1zM132 178h1v1h-1zM349 178h29v1h-29zM379 178h1v1h-1zM385 178h1v1h-1zM603 178h1v1h-1zM605 178h20v1h-20zM626 178h1v1h-1zM634 178h1v1h-1zM659 178h1v1h-1zM866 178h1v1h-1zM876 178h17v1h-17zM903 178h2v1h-2zM906 178h1v1h-1zM57 179h22v1h-22zM80 179h19v1h-19zM100 179h14v1h-14zM116 179h1v1h-1zM122 179h1v1h-1zM134 179h1v1h-1zM345 179h29v1h-29zM377 179h1v1h-1zM380 179h1v1h-1zM383 179h1v1h-1zM389 179h1v1h-1zM398 179h1v1h-1zM604 179h20v1h-20zM625 179h2v1h-2zM632 179h1v1h-1zM634 179h1v1h-1zM637 179h1v1h-1zM639 179h1v1h-1zM875 179h18v1h-18zM894 179h2v1h-2zM897 179h1v1h-1zM55 180h1v1h-1zM57 180h3v1h-3zM61 180h2v1h-2zM64 180h19v1h-19zM84 180h23v1h-23zM108 180h2v1h-2zM111 180h5v1h-5zM118 180h1v1h-1zM123 180h2v1h-2zM126 180h1v1h-1zM128 180h1v1h-1zM141 180h1v1h-1zM156 180h1v1h-1zM347 180h1v1h-1zM349 180h25v1h-25zM376 180h2v1h-2zM382 180h3v1h-3zM386 180h1v1h-1zM394 180h1v1h-1zM602 180h21v1h-21zM624 180h3v1h-3zM635 180h1v1h-1zM638 180h1v1h-1zM660 180h1v1h-1zM662 180h1v1h-1zM873 180h3v1h-3zM877 180h15v1h-15zM893 180h3v1h-3zM898 180h1v1h-1zM906 180h1v1h-1zM56 181h4v1h-4zM61 181h21v1h-21zM83 181h26v1h-26zM110 181h3v1h-3zM114 181h1v1h-1zM117 181h1v1h-1zM119 181h2v1h-2zM123 181h1v1h-1zM129 181h1v1h-1zM133 181h2v1h-2zM149 181h1v1h-1zM345 181h7v1h-7zM353 181h4v1h-4zM358 181h14v1h-14zM381 181h3v1h-3zM386 181h1v1h-1zM390 181h1v1h-1zM392 181h1v1h-1zM602 181h24v1h-24zM632 181h1v1h-1zM865 181h1v1h-1zM872 181h2v1h-2zM876 181h21v1h-21zM56 182h1v1h-1zM58 182h11v1h-11zM70 182h44v1h-44zM116 182h2v1h-2zM120 182h2v1h-2zM127 182h1v1h-1zM129 182h1v1h-1zM141 182h1v1h-1zM345 182h25v1h-25zM371 182h1v1h-1zM383 182h1v1h-1zM386 182h1v1h-1zM601 182h7v1h-7zM609 182h20v1h-20zM634 182h1v1h-1zM870 182h1v1h-1zM872 182h2v1h-2zM875 182h21v1h-21zM899 182h1v1h-1zM906 182h1v1h-1zM56 183h1v1h-1zM59 183h1v1h-1zM61 183h2v1h-2zM64 183h33v1h-33zM98 183h14v1h-14zM113 183h1v1h-1zM116 183h1v1h-1zM118 183h1v1h-1zM123 183h2v1h-2zM129 183h1v1h-1zM342 183h29v1h-29zM372 183h1v1h-1zM374 183h1v1h-1zM387 183h2v1h-2zM602 183h7v1h-7zM610 183h16v1h-16zM627 183h1v1h-1zM641 183h1v1h-1zM647 183h1v1h-1zM874 183h23v1h-23zM55 184h2v1h-2zM58 184h3v1h-3zM63 184h6v1h-6zM70 184h7v1h-7zM79 184h3v1h-3zM83 184h14v1h-14zM98 184h20v1h-20zM119 184h1v1h-1zM123 184h1v1h-1zM342 184h12v1h-12zM355 184h12v1h-12zM374 184h5v1h-5zM385 184h1v1h-1zM387 184h1v1h-1zM601 184h25v1h-25zM628 184h1v1h-1zM631 184h1v1h-1zM636 184h1v1h-1zM638 184h1v1h-1zM863 184h1v1h-1zM873 184h1v1h-1zM877 184h19v1h-19zM57 185h7v1h-7zM65 185h14v1h-14zM80 185h8v1h-8zM91 185h17v1h-17zM109 185h5v1h-5zM115 185h1v1h-1zM118 185h1v1h-1zM121 185h1v1h-1zM341 185h23v1h-23zM365 185h2v1h-2zM372 185h1v1h-1zM380 185h1v1h-1zM387 185h1v1h-1zM603 185h24v1h-24zM629 185h1v1h-1zM632 185h2v1h-2zM864 185h1v1h-1zM867 185h1v1h-1zM874 185h23v1h-23zM57 186h2v1h-2zM60 186h3v1h-3zM64 186h6v1h-6zM71 186h18v1h-18zM90 186h6v1h-6zM97 186h18v1h-18zM116 186h2v1h-2zM121 186h2v1h-2zM125 186h2v1h-2zM161 186h1v1h-1zM336 186h1v1h-1zM339 186h23v1h-23zM364 186h1v1h-1zM376 186h1v1h-1zM385 186h1v1h-1zM603 186h16v1h-16zM620 186h5v1h-5zM626 186h1v1h-1zM628 186h5v1h-5zM634 186h3v1h-3zM638 186h1v1h-1zM874 186h23v1h-23zM902 186h1v1h-1zM904 186h1v1h-1zM55 187h1v1h-1zM59 187h2v1h-2zM62 187h7v1h-7zM70 187h15v1h-15zM86 187h7v1h-7zM94 187h25v1h-25zM123 187h1v1h-1zM129 187h1v1h-1zM339 187h22v1h-22zM366 187h1v1h-1zM371 187h1v1h-1zM378 187h1v1h-1zM382 187h2v1h-2zM600 187h1v1h-1zM602 187h25v1h-25zM628 187h1v1h-1zM632 187h1v1h-1zM634 187h1v1h-1zM636 187h1v1h-1zM638 187h1v1h-1zM640 187h1v1h-1zM644 187h1v1h-1zM647 187h1v1h-1zM870 187h2v1h-2zM875 187h22v1h-22zM909 187h1v1h-1zM55 188h1v1h-1zM57 188h1v1h-1zM59 188h25v1h-25zM85 188h9v1h-9zM95 188h18v1h-18zM114 188h6v1h-6zM130 188h1v1h-1zM338 188h19v1h-19zM363 188h1v1h-1zM366 188h2v1h-2zM375 188h2v1h-2zM381 188h1v1h-1zM600 188h1v1h-1zM602 188h26v1h-26zM633 188h1v1h-1zM635 188h1v1h-1zM637 188h2v1h-2zM641 188h1v1h-1zM647 188h1v1h-1zM871 188h19v1h-19zM891 188h8v1h-8zM908 188h1v1h-1zM57 189h1v1h-1zM60 189h1v1h-1zM62 189h4v1h-4zM67 189h7v1h-7zM75 189h3v1h-3zM79 189h3v1h-3zM83 189h1v1h-1zM85 189h10v1h-10zM96 189h1v1h-1zM98 189h15v1h-15zM114 189h6v1h-6zM122 189h1v1h-1zM130 189h2v1h-2zM336 189h20v1h-20zM357 189h1v1h-1zM367 189h1v1h-1zM369 189h1v1h-1zM371 189h1v1h-1zM374 189h1v1h-1zM379 189h1v1h-1zM600 189h1v1h-1zM602 189h24v1h-24zM637 189h1v1h-1zM639 189h4v1h-4zM659 189h1v1h-1zM871 189h5v1h-5zM877 189h20v1h-20zM899 189h1v1h-1zM58 190h9v1h-9zM68 190h13v1h-13zM82 190h2v1h-2zM85 190h1v1h-1zM88 190h2v1h-2zM91 190h1v1h-1zM93 190h1v1h-1zM95 190h1v1h-1zM98 190h2v1h-2zM101 190h8v1h-8zM110 190h6v1h-6zM117 190h3v1h-3zM121 190h1v1h-1zM128 190h2v1h-2zM133 190h1v1h-1zM333 190h1v1h-1zM336 190h16v1h-16zM353 190h1v1h-1zM356 190h1v1h-1zM358 190h1v1h-1zM367 190h1v1h-1zM374 190h1v1h-1zM602 190h26v1h-26zM629 190h1v1h-1zM632 190h1v1h-1zM635 190h3v1h-3zM640 190h1v1h-1zM871 190h1v1h-1zM873 190h1v1h-1zM875 190h23v1h-23zM56 191h1v1h-1zM59 191h4v1h-4zM64 191h17v1h-17zM83 191h2v1h-2zM87 191h1v1h-1zM93 191h1v1h-1zM95 191h1v1h-1zM97 191h7v1h-7zM105 191h13v1h-13zM119 191h2v1h-2zM128 191h1v1h-1zM335 191h16v1h-16zM352 191h1v1h-1zM355 191h1v1h-1zM357 191h2v1h-2zM602 191h28v1h-28zM631 191h1v1h-1zM633 191h1v1h-1zM639 191h1v1h-1zM642 191h1v1h-1zM672 191h1v1h-1zM872 191h26v1h-26zM56 192h1v1h-1zM58 192h10v1h-10zM70 192h4v1h-4zM75 192h3v1h-3zM82 192h2v1h-2zM97 192h1v1h-1zM99 192h21v1h-21zM121 192h2v1h-2zM130 192h1v1h-1zM132 192h1v1h-1zM135 192h1v1h-1zM227 192h1v1h-1zM335 192h12v1h-12zM348 192h2v1h-2zM354 192h1v1h-1zM358 192h1v1h-1zM363 192h1v1h-1zM603 192h25v1h-25zM631 192h1v1h-1zM633 192h3v1h-3zM639 192h1v1h-1zM869 192h1v1h-1zM873 192h6v1h-6zM880 192h1v1h-1zM882 192h18v1h-18zM905 192h1v1h-1zM57 193h2v1h-2zM60 193h8v1h-8zM69 193h5v1h-5zM75 193h6v1h-6zM83 193h1v1h-1zM87 193h1v1h-1zM97 193h2v1h-2zM100 193h6v1h-6zM107 193h14v1h-14zM122 193h1v1h-1zM334 193h14v1h-14zM356 193h1v1h-1zM364 193h1v1h-1zM602 193h25v1h-25zM628 193h1v1h-1zM868 193h1v1h-1zM872 193h27v1h-27zM55 194h1v1h-1zM57 194h2v1h-2zM60 194h5v1h-5zM66 194h13v1h-13zM99 194h5v1h-5zM105 194h17v1h-17zM123 194h1v1h-1zM126 194h1v1h-1zM334 194h11v1h-11zM346 194h2v1h-2zM604 194h26v1h-26zM633 194h2v1h-2zM637 194h2v1h-2zM641 194h1v1h-1zM864 194h1v1h-1zM868 194h1v1h-1zM871 194h28v1h-28zM904 194h1v1h-1zM56 195h4v1h-4zM61 195h2v1h-2zM64 195h11v1h-11zM76 195h4v1h-4zM97 195h1v1h-1zM99 195h21v1h-21zM121 195h3v1h-3zM129 195h1v1h-1zM131 195h1v1h-1zM331 195h10v1h-10zM342 195h1v1h-1zM348 195h1v1h-1zM356 195h1v1h-1zM360 195h1v1h-1zM605 195h20v1h-20zM626 195h1v1h-1zM628 195h1v1h-1zM637 195h1v1h-1zM639 195h1v1h-1zM643 195h1v1h-1zM647 195h1v1h-1zM874 195h23v1h-23zM898 195h1v1h-1zM903 195h2v1h-2zM911 195h1v1h-1zM58 196h3v1h-3zM62 196h14v1h-14zM96 196h7v1h-7zM104 196h7v1h-7zM113 196h4v1h-4zM118 196h2v1h-2zM121 196h1v1h-1zM124 196h1v1h-1zM329 196h1v1h-1zM332 196h8v1h-8zM341 196h3v1h-3zM360 196h1v1h-1zM364 196h1v1h-1zM600 196h1v1h-1zM606 196h20v1h-20zM627 196h1v1h-1zM629 196h1v1h-1zM638 196h1v1h-1zM871 196h28v1h-28zM55 197h1v1h-1zM58 197h7v1h-7zM66 197h4v1h-4zM71 197h2v1h-2zM74 197h1v1h-1zM77 197h1v1h-1zM95 197h2v1h-2zM99 197h20v1h-20zM121 197h1v1h-1zM331 197h10v1h-10zM346 197h1v1h-1zM603 197h1v1h-1zM605 197h19v1h-19zM626 197h1v1h-1zM632 197h1v1h-1zM636 197h1v1h-1zM638 197h2v1h-2zM644 197h1v1h-1zM860 197h1v1h-1zM873 197h23v1h-23zM897 197h2v1h-2zM57 198h6v1h-6zM64 198h8v1h-8zM74 198h1v1h-1zM94 198h1v1h-1zM96 198h13v1h-13zM110 198h2v1h-2zM114 198h3v1h-3zM118 198h1v1h-1zM123 198h1v1h-1zM329 198h1v1h-1zM331 198h4v1h-4zM605 198h1v1h-1zM607 198h3v1h-3zM611 198h13v1h-13zM625 198h2v1h-2zM629 198h1v1h-1zM631 198h1v1h-1zM641 198h1v1h-1zM873 198h8v1h-8zM882 198h14v1h-14zM897 198h1v1h-1zM902 198h2v1h-2zM57 199h3v1h-3zM61 199h5v1h-5zM67 199h6v1h-6zM96 199h12v1h-12zM109 199h9v1h-9zM119 199h2v1h-2zM141 199h1v1h-1zM330 199h5v1h-5zM338 199h1v1h-1zM609 199h1v1h-1zM611 199h5v1h-5zM617 199h2v1h-2zM620 199h1v1h-1zM622 199h2v1h-2zM635 199h1v1h-1zM869 199h1v1h-1zM874 199h14v1h-14zM889 199h4v1h-4zM894 199h1v1h-1zM896 199h1v1h-1zM899 199h2v1h-2zM56 200h2v1h-2zM60 200h2v1h-2zM66 200h6v1h-6zM73 200h1v1h-1zM92 200h1v1h-1zM94 200h12v1h-12zM107 200h3v1h-3zM111 200h2v1h-2zM114 200h1v1h-1zM116 200h1v1h-1zM118 200h1v1h-1zM121 200h1v1h-1zM124 200h1v1h-1zM331 200h1v1h-1zM333 200h1v1h-1zM349 200h1v1h-1zM610 200h1v1h-1zM613 200h3v1h-3zM617 200h1v1h-1zM621 200h1v1h-1zM875 200h8v1h-8zM884 200h6v1h-6zM894 200h1v1h-1zM896 200h1v1h-1zM57 201h1v1h-1zM60 201h1v1h-1zM63 201h1v1h-1zM66 201h1v1h-1zM68 201h5v1h-5zM92 201h1v1h-1zM95 201h1v1h-1zM97 201h18v1h-18zM117 201h1v1h-1zM340 201h1v1h-1zM607 201h1v1h-1zM614 201h1v1h-1zM618 201h1v1h-1zM622 201h1v1h-1zM876 201h4v1h-4zM881 201h4v1h-4zM886 201h1v1h-1zM890 201h1v1h-1zM892 201h1v1h-1zM909 201h1v1h-1zM60 202h1v1h-1zM69 202h1v1h-1zM71 202h2v1h-2zM90 202h2v1h-2zM93 202h5v1h-5zM100 202h2v1h-2zM103 202h4v1h-4zM108 202h1v1h-1zM110 202h3v1h-3zM115 202h1v1h-1zM117 202h1v1h-1zM125 202h1v1h-1zM878 202h1v1h-1zM883 202h1v1h-1zM893 202h1v1h-1zM55 203h1v1h-1zM64 203h1v1h-1zM69 203h3v1h-3zM73 203h1v1h-1zM89 203h20v1h-20zM110 203h3v1h-3zM119 203h3v1h-3zM124 203h1v1h-1zM641 203h1v1h-1zM888 203h1v1h-1zM69 204h3v1h-3zM74 204h1v1h-1zM86 204h3v1h-3zM90 204h18v1h-18zM110 204h2v1h-2zM113 204h1v1h-1zM116 204h2v1h-2zM123 204h1v1h-1zM637 204h1v1h-1zM895 204h1v1h-1zM67 205h4v1h-4zM72 205h3v1h-3zM76 205h1v1h-1zM82 205h1v1h-1zM86 205h6v1h-6zM93 205h5v1h-5zM99 205h2v1h-2zM102 205h1v1h-1zM104 205h2v1h-2zM107 205h1v1h-1zM116 205h1v1h-1zM118 205h1v1h-1zM120 205h1v1h-1zM127 205h1v1h-1zM636 205h1v1h-1zM871 205h1v1h-1zM67 206h1v1h-1zM69 206h2v1h-2zM72 206h2v1h-2zM77 206h2v1h-2zM82 206h2v1h-2zM85 206h3v1h-3zM89 206h2v1h-2zM92 206h3v1h-3zM96 206h1v1h-1zM98 206h2v1h-2zM101 206h2v1h-2zM104 206h2v1h-2zM107 206h3v1h-3zM173 206h1v1h-1zM619 206h1v1h-1zM65 207h1v1h-1zM67 207h1v1h-1zM70 207h1v1h-1zM72 207h1v1h-1zM74 207h10v1h-10zM85 207h3v1h-3zM89 207h1v1h-1zM91 207h1v1h-1zM95 207h1v1h-1zM97 207h3v1h-3zM101 207h1v1h-1zM107 207h2v1h-2zM116 207h1v1h-1zM122 207h1v1h-1zM128 207h1v1h-1zM63 208h1v1h-1zM68 208h1v1h-1zM70 208h3v1h-3zM74 208h7v1h-7zM82 208h1v1h-1zM84 208h3v1h-3zM88 208h2v1h-2zM91 208h1v1h-1zM109 208h1v1h-1zM112 208h1v1h-1zM114 208h1v1h-1zM643 208h1v1h-1zM65 209h4v1h-4zM70 209h4v1h-4zM75 209h6v1h-6zM84 209h6v1h-6zM98 209h1v1h-1zM102 209h2v1h-2zM110 209h1v1h-1zM112 209h1v1h-1zM114 209h1v1h-1zM55 210h1v1h-1zM64 210h1v1h-1zM67 210h2v1h-2zM71 210h2v1h-2zM74 210h1v1h-1zM79 210h5v1h-5zM86 210h2v1h-2zM90 210h1v1h-1zM92 210h1v1h-1zM97 210h1v1h-1zM101 210h1v1h-1zM109 210h1v1h-1zM111 210h2v1h-2zM128 210h1v1h-1zM55 211h1v1h-1zM60 211h1v1h-1zM63 211h3v1h-3zM68 211h1v1h-1zM73 211h2v1h-2zM76 211h1v1h-1zM80 211h3v1h-3zM85 211h1v1h-1zM96 211h1v1h-1zM99 211h1v1h-1zM56 212h1v1h-1zM64 212h1v1h-1zM70 212h1v1h-1zM74 212h1v1h-1zM83 212h1v1h-1zM100 212h1v1h-1zM122 212h1v1h-1zM127 212h1v1h-1zM136 212h1v1h-1zM57 215h1v1h-1zM82 215h1v1h-1zM85 215h1v1h-1zM115 215h1v1h-1zM85 246h1v1h-1zM73 254h1v1h-1zM84 262h1v1h-1zM71 267h1v1h-1zM77 269h1v1h-1zM67 281h1v1h-1zM104 292h1v1h-1zM113 292h1v1h-1zM621 301h1v1h-1zM617 302h1v1h-1zM929 302h1v1h-1zM609 303h2v1h-2zM612 303h1v1h-1zM932 303h1v1h-1zM938 303h1v1h-1zM944 303h1v1h-1zM949 303h1v1h-1zM608 304h1v1h-1zM624 304h1v1h-1zM928 304h1v1h-1zM611 305h1v1h-1zM615 305h1v1h-1zM618 305h1v1h-1zM623 305h1v1h-1zM922 305h1v1h-1zM928 305h1v1h-1zM933 305h1v1h-1zM936 305h1v1h-1zM949 305h2v1h-2zM605 306h1v1h-1zM610 306h1v1h-1zM619 306h1v1h-1zM621 306h1v1h-1zM912 306h1v1h-1zM916 306h1v1h-1zM921 306h1v1h-1zM925 306h1v1h-1zM935 306h2v1h-2zM939 306h1v1h-1zM942 306h1v1h-1zM946 306h1v1h-1zM605 307h1v1h-1zM615 307h1v1h-1zM623 307h1v1h-1zM625 307h1v1h-1zM913 307h2v1h-2zM916 307h1v1h-1zM922 307h1v1h-1zM924 307h1v1h-1zM928 307h1v1h-1zM935 307h1v1h-1zM942 307h1v1h-1zM945 307h1v1h-1zM606 308h1v1h-1zM608 308h4v1h-4zM616 308h1v1h-1zM619 308h1v1h-1zM910 308h1v1h-1zM914 308h1v1h-1zM920 308h1v1h-1zM927 308h1v1h-1zM933 308h1v1h-1zM939 308h1v1h-1zM942 308h1v1h-1zM944 308h1v1h-1zM951 308h1v1h-1zM608 309h2v1h-2zM615 309h1v1h-1zM624 309h1v1h-1zM908 309h1v1h-1zM913 309h2v1h-2zM922 309h1v1h-1zM931 309h1v1h-1zM933 309h1v1h-1zM935 309h1v1h-1zM940 309h1v1h-1zM604 310h2v1h-2zM607 310h2v1h-2zM610 310h1v1h-1zM620 310h1v1h-1zM622 310h1v1h-1zM624 310h1v1h-1zM912 310h1v1h-1zM930 310h1v1h-1zM932 310h1v1h-1zM934 310h1v1h-1zM941 310h1v1h-1zM949 310h1v1h-1zM610 311h2v1h-2zM613 311h1v1h-1zM618 311h1v1h-1zM621 311h2v1h-2zM624 311h1v1h-1zM912 311h1v1h-1zM928 311h2v1h-2zM943 311h1v1h-1zM948 311h1v1h-1zM950 311h1v1h-1zM610 312h1v1h-1zM612 312h1v1h-1zM911 312h2v1h-2zM922 312h1v1h-1zM933 312h1v1h-1zM951 312h1v1h-1zM954 312h2v1h-2zM606 313h1v1h-1zM609 313h1v1h-1zM615 313h2v1h-2zM618 313h1v1h-1zM625 313h1v1h-1zM899 313h1v1h-1zM907 313h1v1h-1zM910 313h1v1h-1zM912 313h1v1h-1zM915 313h1v1h-1zM920 313h1v1h-1zM922 313h1v1h-1zM926 313h1v1h-1zM930 313h1v1h-1zM938 313h1v1h-1zM604 314h1v1h-1zM608 314h1v1h-1zM611 314h1v1h-1zM614 314h1v1h-1zM619 314h1v1h-1zM909 314h1v1h-1zM917 314h1v1h-1zM924 314h1v1h-1zM928 314h1v1h-1zM935 314h2v1h-2zM938 314h1v1h-1zM940 314h1v1h-1zM943 314h1v1h-1zM947 314h2v1h-2zM950 314h1v1h-1zM952 314h2v1h-2zM607 315h1v1h-1zM609 315h2v1h-2zM614 315h1v1h-1zM619 315h2v1h-2zM901 315h2v1h-2zM912 315h1v1h-1zM914 315h1v1h-1zM917 315h1v1h-1zM919 315h1v1h-1zM928 315h1v1h-1zM930 315h1v1h-1zM933 315h1v1h-1zM939 315h1v1h-1zM941 315h2v1h-2zM946 315h1v1h-1zM610 316h1v1h-1zM613 316h1v1h-1zM616 316h1v1h-1zM619 316h1v1h-1zM914 316h1v1h-1zM918 316h1v1h-1zM923 316h1v1h-1zM934 316h1v1h-1zM936 316h1v1h-1zM942 316h1v1h-1zM944 316h1v1h-1zM950 316h1v1h-1zM952 316h1v1h-1zM604 317h1v1h-1zM610 317h1v1h-1zM612 317h1v1h-1zM616 317h1v1h-1zM623 317h2v1h-2zM901 317h1v1h-1zM907 317h2v1h-2zM910 317h2v1h-2zM913 317h1v1h-1zM917 317h1v1h-1zM920 317h1v1h-1zM924 317h1v1h-1zM926 317h1v1h-1zM931 317h4v1h-4zM951 317h1v1h-1zM100 318h1v1h-1zM613 318h1v1h-1zM619 318h1v1h-1zM623 318h3v1h-3zM902 318h1v1h-1zM904 318h1v1h-1zM912 318h2v1h-2zM915 318h2v1h-2zM923 318h2v1h-2zM926 318h1v1h-1zM930 318h2v1h-2zM946 318h3v1h-3zM609 319h1v1h-1zM614 319h3v1h-3zM622 319h1v1h-1zM901 319h1v1h-1zM903 319h2v1h-2zM908 319h1v1h-1zM911 319h1v1h-1zM913 319h1v1h-1zM916 319h1v1h-1zM918 319h1v1h-1zM924 319h1v1h-1zM927 319h1v1h-1zM933 319h1v1h-1zM938 319h1v1h-1zM940 319h1v1h-1zM952 319h1v1h-1zM604 320h2v1h-2zM607 320h2v1h-2zM616 320h2v1h-2zM905 320h1v1h-1zM914 320h1v1h-1zM916 320h1v1h-1zM918 320h1v1h-1zM930 320h1v1h-1zM937 320h1v1h-1zM939 320h1v1h-1zM941 320h1v1h-1zM946 320h1v1h-1zM952 320h2v1h-2zM606 321h1v1h-1zM608 321h1v1h-1zM614 321h1v1h-1zM624 321h1v1h-1zM908 321h1v1h-1zM912 321h1v1h-1zM922 321h2v1h-2zM926 321h1v1h-1zM941 321h1v1h-1zM136 322h1v1h-1zM604 322h1v1h-1zM607 322h1v1h-1zM615 322h1v1h-1zM621 322h1v1h-1zM897 322h1v1h-1zM907 322h1v1h-1zM914 322h1v1h-1zM917 322h1v1h-1zM919 322h1v1h-1zM928 322h1v1h-1zM934 322h1v1h-1zM949 322h1v1h-1zM951 322h1v1h-1zM606 323h1v1h-1zM608 323h1v1h-1zM612 323h1v1h-1zM615 323h1v1h-1zM617 323h1v1h-1zM622 323h1v1h-1zM624 323h1v1h-1zM904 323h2v1h-2zM911 323h1v1h-1zM914 323h1v1h-1zM922 323h1v1h-1zM928 323h1v1h-1zM931 323h1v1h-1zM935 323h1v1h-1zM614 324h3v1h-3zM618 324h2v1h-2zM621 324h1v1h-1zM924 324h1v1h-1zM929 324h1v1h-1zM933 324h2v1h-2zM936 324h1v1h-1zM611 325h1v1h-1zM616 325h1v1h-1zM889 325h1v1h-1zM905 325h1v1h-1zM914 325h1v1h-1zM916 325h2v1h-2zM924 325h1v1h-1zM926 325h1v1h-1zM939 325h1v1h-1zM946 325h1v1h-1zM85 326h1v1h-1zM605 326h1v1h-1zM609 326h1v1h-1zM612 326h1v1h-1zM917 326h3v1h-3zM924 326h1v1h-1zM929 326h1v1h-1zM935 326h1v1h-1zM940 326h1v1h-1zM945 326h1v1h-1zM958 326h1v1h-1zM609 327h1v1h-1zM617 327h1v1h-1zM620 327h1v1h-1zM910 327h1v1h-1zM917 327h2v1h-2zM926 327h1v1h-1zM928 327h2v1h-2zM934 327h1v1h-1zM937 327h1v1h-1zM942 327h1v1h-1zM946 327h1v1h-1zM949 327h1v1h-1zM612 328h1v1h-1zM614 328h3v1h-3zM620 328h1v1h-1zM903 328h1v1h-1zM906 328h1v1h-1zM918 328h2v1h-2zM926 328h1v1h-1zM929 328h1v1h-1zM931 328h1v1h-1zM933 328h1v1h-1zM942 328h1v1h-1zM607 329h1v1h-1zM611 329h1v1h-1zM617 329h1v1h-1zM623 329h1v1h-1zM905 329h1v1h-1zM907 329h1v1h-1zM910 329h1v1h-1zM912 329h1v1h-1zM915 329h1v1h-1zM917 329h1v1h-1zM923 329h2v1h-2zM928 329h1v1h-1zM941 329h1v1h-1zM950 329h1v1h-1zM953 329h1v1h-1zM606 330h1v1h-1zM613 330h5v1h-5zM620 330h1v1h-1zM904 330h1v1h-1zM910 330h1v1h-1zM915 330h2v1h-2zM918 330h1v1h-1zM922 330h2v1h-2zM928 330h1v1h-1zM930 330h1v1h-1zM938 330h1v1h-1zM947 330h1v1h-1zM949 330h1v1h-1zM952 330h1v1h-1zM956 330h1v1h-1zM604 331h1v1h-1zM606 331h2v1h-2zM612 331h3v1h-3zM621 331h1v1h-1zM623 331h3v1h-3zM907 331h2v1h-2zM919 331h1v1h-1zM926 331h1v1h-1zM928 331h1v1h-1zM932 331h1v1h-1zM934 331h1v1h-1zM937 331h1v1h-1zM606 332h1v1h-1zM608 332h1v1h-1zM613 332h1v1h-1zM615 332h1v1h-1zM619 332h1v1h-1zM621 332h2v1h-2zM914 332h1v1h-1zM924 332h2v1h-2zM927 332h2v1h-2zM932 332h1v1h-1zM935 332h1v1h-1zM938 332h1v1h-1zM942 332h1v1h-1zM603 333h1v1h-1zM610 333h2v1h-2zM616 333h1v1h-1zM620 333h1v1h-1zM623 333h1v1h-1zM905 333h1v1h-1zM907 333h1v1h-1zM909 333h1v1h-1zM919 333h1v1h-1zM925 333h2v1h-2zM934 333h1v1h-1zM948 333h1v1h-1zM605 334h1v1h-1zM613 334h1v1h-1zM617 334h1v1h-1zM621 334h1v1h-1zM623 334h1v1h-1zM894 334h1v1h-1zM902 334h2v1h-2zM908 334h1v1h-1zM910 334h1v1h-1zM928 334h1v1h-1zM935 334h2v1h-2zM941 334h1v1h-1zM603 335h2v1h-2zM607 335h2v1h-2zM611 335h1v1h-1zM615 335h1v1h-1zM622 335h1v1h-1zM624 335h2v1h-2zM909 335h1v1h-1zM913 335h2v1h-2zM928 335h1v1h-1zM933 335h1v1h-1zM937 335h1v1h-1zM612 336h1v1h-1zM616 336h2v1h-2zM622 336h1v1h-1zM906 336h2v1h-2zM909 336h1v1h-1zM918 336h1v1h-1zM920 336h1v1h-1zM926 336h1v1h-1zM83 337h1v1h-1zM610 337h2v1h-2zM615 337h1v1h-1zM620 337h2v1h-2zM909 337h1v1h-1zM914 337h1v1h-1zM927 337h1v1h-1zM930 337h1v1h-1zM937 337h1v1h-1zM607 338h2v1h-2zM612 338h1v1h-1zM920 338h1v1h-1zM924 338h1v1h-1zM607 339h2v1h-2zM614 339h1v1h-1zM616 339h1v1h-1zM908 339h1v1h-1zM913 339h1v1h-1zM916 339h1v1h-1zM607 340h2v1h-2zM614 340h1v1h-1zM617 340h1v1h-1zM620 340h1v1h-1zM886 340h1v1h-1zM609 341h1v1h-1zM619 341h1v1h-1zM623 341h1v1h-1zM622 342h1v1h-1zM613 343h1v1h-1zM615 343h2v1h-2zM59 345h1v1h-1zM87 348h1v1h-1zM56 351h1v1h-1zM67 353h1v1h-1zM82 357h1v1h-1zM92 360h1v1h-1zM63 361h1v1h-1zM384 361h1v1h-1zM98 362h1v1h-1zM379 363h1v1h-1zM370 364h1v1h-1zM378 364h2v1h-2zM59 365h1v1h-1zM378 365h1v1h-1zM67 366h1v1h-1zM376 366h1v1h-1zM379 366h1v1h-1zM382 366h1v1h-1zM376 367h1v1h-1zM374 368h3v1h-3zM375 369h1v1h-1zM371 370h2v1h-2zM72 371h1v1h-1zM371 371h2v1h-2zM368 372h1v1h-1zM371 372h1v1h-1zM369 373h1v1h-1zM127 374h1v1h-1zM367 374h4v1h-4zM365 375h4v1h-4zM70 376h1v1h-1zM362 376h1v1h-1zM365 376h1v1h-1zM362 377h3v1h-3zM363 378h2v1h-2zM359 380h3v1h-3zM363 380h1v1h-1zM127 381h1v1h-1zM358 381h2v1h-2zM361 381h2v1h-2zM124 382h1v1h-1zM356 382h4v1h-4zM107 383h1v1h-1zM111 383h1v1h-1zM117 383h1v1h-1zM357 383h1v1h-1zM619 383h1v1h-1zM903 383h1v1h-1zM103 384h1v1h-1zM105 384h1v1h-1zM108 384h1v1h-1zM116 384h1v1h-1zM355 384h1v1h-1zM357 384h2v1h-2zM360 384h1v1h-1zM106 385h1v1h-1zM111 385h2v1h-2zM119 385h1v1h-1zM124 385h1v1h-1zM352 385h1v1h-1zM354 385h4v1h-4zM886 385h1v1h-1zM889 385h1v1h-1zM109 386h3v1h-3zM116 386h1v1h-1zM351 386h1v1h-1zM353 386h1v1h-1zM102 387h2v1h-2zM106 387h1v1h-1zM110 387h1v1h-1zM350 387h3v1h-3zM102 388h1v1h-1zM105 388h1v1h-1zM108 388h1v1h-1zM112 388h2v1h-2zM120 388h1v1h-1zM352 388h1v1h-1zM885 388h1v1h-1zM104 389h1v1h-1zM106 389h1v1h-1zM111 389h1v1h-1zM114 389h1v1h-1zM123 389h1v1h-1zM348 389h2v1h-2zM609 389h2v1h-2zM616 389h1v1h-1zM887 389h1v1h-1zM101 390h2v1h-2zM106 390h2v1h-2zM109 390h1v1h-1zM112 390h1v1h-1zM348 390h1v1h-1zM611 390h1v1h-1zM886 390h1v1h-1zM97 391h1v1h-1zM99 391h1v1h-1zM101 391h2v1h-2zM104 391h1v1h-1zM106 391h2v1h-2zM111 391h1v1h-1zM115 391h1v1h-1zM346 391h2v1h-2zM610 391h1v1h-1zM613 391h1v1h-1zM99 392h4v1h-4zM105 392h2v1h-2zM108 392h3v1h-3zM112 392h1v1h-1zM346 392h1v1h-1zM605 392h1v1h-1zM90 393h1v1h-1zM96 393h3v1h-3zM100 393h1v1h-1zM102 393h1v1h-1zM104 393h3v1h-3zM108 393h1v1h-1zM116 393h2v1h-2zM880 393h1v1h-1zM94 394h3v1h-3zM100 394h5v1h-5zM106 394h1v1h-1zM109 394h2v1h-2zM113 394h1v1h-1zM118 394h1v1h-1zM882 394h1v1h-1zM94 395h1v1h-1zM96 395h3v1h-3zM100 395h3v1h-3zM105 395h4v1h-4zM110 395h2v1h-2zM115 395h1v1h-1zM87 396h1v1h-1zM100 396h1v1h-1zM102 396h4v1h-4zM341 396h1v1h-1zM98 397h1v1h-1zM102 397h1v1h-1zM104 397h2v1h-2zM107 397h1v1h-1zM111 397h1v1h-1zM87 398h1v1h-1zM92 398h1v1h-1zM95 398h1v1h-1zM99 398h4v1h-4zM105 398h1v1h-1zM107 398h1v1h-1zM95 399h1v1h-1zM100 399h2v1h-2zM103 399h1v1h-1zM90 400h1v1h-1zM93 400h3v1h-3zM99 400h2v1h-2zM103 400h1v1h-1zM118 400h1v1h-1zM88 401h1v1h-1zM100 401h1v1h-1zM111 401h2v1h-2zM66 402h1v1h-1zM91 402h1v1h-1zM99 402h1v1h-1zM104 402h1v1h-1zM87 403h1v1h-1zM95 403h1v1h-1zM98 403h1v1h-1zM86 404h1v1h-1zM96 404h1v1h-1zM90 405h2v1h-2zM56 406h1v1h-1zM85 408h1v1h-1zM93 408h1v1h-1zM94 409h1v1h-1zM79 411h1v1h-1zM66 415h1v1h-1zM61 416h1v1h-1zM59 417h1v1h-1zM63 417h1v1h-1zM56 421h1v1h-1z" fill="#000"/></g><ellipse cx="364.5" cy="168.4" rx="19" ry="2.0" transform="rotate(-38 364.5 168.4)" fill="none" stroke="#fff" stroke-width="0.9"/><ellipse cx="365" cy="168" rx="9" ry="1.0" transform="rotate(-38 365 168)" fill="none" stroke="#fff" stroke-width="0.8"/><ellipse cx="614.3" cy="187.3" rx="8.3" ry="5.4" transform="rotate(-50 614.3 187.3)" fill="none" stroke="#fff" stroke-width="1.4"/><ellipse cx="614.5" cy="187.2" rx="4.7" ry="2.9" transform="rotate(-50 614.5 187.2)" fill="none" stroke="#fff" stroke-width="1.3"/><ellipse cx="886.2" cy="188.2" rx="8.2" ry="5.9" transform="rotate(-35 886.2 188.2)" fill="none" stroke="#fff" stroke-width="1.4"/><ellipse cx="886" cy="187.9" rx="4.9" ry="3.1" transform="rotate(-35 886 187.9)" fill="none" stroke="#fff" stroke-width="1.3"/>
<rect x="54.5" y="31.5" width="185.5" height="185.0" fill="none" stroke="#505050" stroke-width="1.3"/>
<rect x="54.5" y="238.5" width="185.5" height="186.0" fill="none" stroke="#505050" stroke-width="1.3"/>
<rect x="313" y="31.5" width="186" height="185.0" fill="none" stroke="#505050" stroke-width="1.3"/>
<rect x="313" y="238.5" width="186" height="186.0" fill="none" stroke="#505050" stroke-width="1.3"/>
<rect x="583" y="31.5" width="185.5" height="185.0" fill="none" stroke="#505050" stroke-width="1.3"/>
<rect x="583" y="238.5" width="185.5" height="186.0" fill="none" stroke="#505050" stroke-width="1.3"/>
<rect x="855.5" y="31.5" width="186.0" height="185.0" fill="none" stroke="#505050" stroke-width="1.3"/>
<rect x="855.5" y="238.5" width="186.0" height="186.0" fill="none" stroke="#505050" stroke-width="1.3"/>
<line x1="42.2" y1="436.4" x2="42.2" y2="87.6" stroke="#858585" stroke-width="1.1"/><path d="M39.300000000000004 88.6L42.2 82.8L45.1 88.6Z" fill="#000"/>
<line x1="42.2" y1="436.4" x2="439.0" y2="436.4" stroke="#858585" stroke-width="1.1"/><path d="M438.0 433.5L443.8 436.4L438.0 439.29999999999995Z" fill="#000"/>
<line x1="301" y1="436.4" x2="301" y2="85.2" stroke="#858585" stroke-width="1.1"/><path d="M298.1 86.2L301 80.4L303.9 86.2Z" fill="#000"/>
<line x1="571" y1="437" x2="571" y2="93.3" stroke="#858585" stroke-width="1.1"/><path d="M568.1 94.3L571 88.5L573.9 94.3Z" fill="#000"/>
<line x1="571" y1="437" x2="669.0" y2="437" stroke="#858585" stroke-width="1.1"/><path d="M668.0 434.1L673.8 437L668.0 439.9Z" fill="#000"/>
<line x1="843.2" y1="436.4" x2="843.2" y2="90.0" stroke="#858585" stroke-width="1.1"/><path d="M840.3000000000001 91.0L843.2 85.2L846.1 91.0Z" fill="#000"/>
<line x1="843.2" y1="436.4" x2="978.5" y2="436.4" stroke="#858585" stroke-width="1.1"/><path d="M977.5 433.5L983.3 436.4L977.5 439.29999999999995Z" fill="#000"/>
<path d="M105.5 68.7L140.4 74.0L150.0 89.0L143.9 116.0L135.2 147.4L124.7 175.4L117.7 198.1L77.5 210.3L70.5 205.1L75.7 175.4L81.0 130.0L89.7 102.0Z" fill="none" stroke="#111" stroke-width="1.5" stroke-linejoin="round"/>
<path d="M107.0 276.7L133.9 275.9L150.1 292.4L139.3 340.0L136.4 354.4L123.0 387.9L117.3 407.1L78.0 419.5L70.3 410.9L78.0 381.2L82.2 326.4Z" fill="none" stroke="#111" stroke-width="1.5" stroke-linejoin="round"/>
<path d="M329.5 405.0L397.7 342.3L407.5 339.1L403.3 352.3L346.0 393.5L329.5 407.7Z" fill="none" stroke="#111" stroke-width="1.4" stroke-linejoin="round"/>
<line x1="625.8" y1="31.5" x2="625.8" y2="216.5" stroke="#111" stroke-width="1.6"/>
<line x1="625.8" y1="238.5" x2="625.8" y2="424.5" stroke="#111" stroke-width="1.6"/>
<rect x="900" y="69.6" width="74" height="76" fill="none" stroke="#222" stroke-width="1.3"/>
<rect x="900" y="276.6" width="74" height="76.7" fill="none" stroke="#222" stroke-width="1.3"/>
<line x1="149.3" y1="97.4" x2="277.7" y2="97.4" stroke="#555" stroke-width="1.1"/><path d="M276.7 94.5L282.5 97.4L276.7 100.30000000000001Z" fill="#000"/>
<line x1="114.1" y1="303.2" x2="260.4" y2="303.2" stroke="#888" stroke-width="1.1"/><path d="M259.4 300.3L265.2 303.2L259.4 306.09999999999997Z" fill="#000"/>
<line x1="407" y1="164.2" x2="539.5" y2="164.2" stroke="#777" stroke-width="1.1"/><path d="M538.5 161.29999999999998L544.3 164.2L538.5 167.1Z" fill="#000"/>
<line x1="403.3" y1="353.1" x2="534.6" y2="353.1" stroke="#888" stroke-width="1.1"/><path d="M533.6 350.20000000000005L539.4 353.1L533.6 356.0Z" fill="#000"/>
<line x1="604.5" y1="76.1" x2="812.2" y2="76.1" stroke="#666" stroke-width="1.1"/><path d="M811.2 73.19999999999999L817 76.1L811.2 79.0Z" fill="#000"/>
<line x1="604.5" y1="283.2" x2="803.7" y2="283.2" stroke="#666" stroke-width="1.1"/><path d="M802.7 280.3L808.5 283.2L802.7 286.09999999999997Z" fill="#000"/>
<g font-family="Liberation Sans, sans-serif">
<text x="82.2" y="20" font-size="18" font-weight="bold" fill="#000" textLength="120.8" lengthAdjust="spacingAndGlyphs">lymphoid gate</text>
<text x="347.0" y="20.3" font-size="18" font-weight="bold" fill="#000" textLength="107" lengthAdjust="spacingAndGlyphs">Singlets gate</text>
<text x="612.9" y="20.3" font-size="18" font-weight="bold" fill="#000" textLength="112.3" lengthAdjust="spacingAndGlyphs">live cells gate</text>
<text x="902.1" y="20.3" font-size="18" font-weight="bold" fill="#000" textLength="84.6" lengthAdjust="spacingAndGlyphs">pDCs gate</text>
<text x="18" y="190.9" font-size="17" font-weight="bold" fill="#000" textLength="142.2" lengthAdjust="spacingAndGlyphs" transform="rotate(-90 18 190.9)">Before enrichment</text>
<text x="18" y="400.3" font-size="17" font-weight="bold" fill="#000" textLength="130.2" lengthAdjust="spacingAndGlyphs" transform="rotate(-90 18 400.3)">Positive selection</text>
<text x="47.5" y="74.6" font-size="15.8" font-weight="bold" fill="#000" textLength="42.6" lengthAdjust="spacingAndGlyphs" transform="rotate(-90 47.5 74.6)">SSC-A</text>
<text x="305.4" y="74.1" font-size="15.8" font-weight="bold" fill="#000" textLength="41.8" lengthAdjust="spacingAndGlyphs" transform="rotate(-90 305.4 74.1)">FSC-H</text>
<text x="575.9" y="79.1" font-size="15.8" font-weight="bold" fill="#000" textLength="47.9" lengthAdjust="spacingAndGlyphs" transform="rotate(-90 575.9 79.1)">CD123</text>
<text x="847.6" y="81.3" font-size="15.8" font-weight="bold" fill="#000" textLength="47.3" lengthAdjust="spacingAndGlyphs" transform="rotate(-90 847.6 81.3)">CD123</text>
<text x="453.8" y="444.9" font-size="15.8" font-weight="bold" fill="#000" textLength="42.6" lengthAdjust="spacingAndGlyphs">FSC-A</text>
<text x="676.5" y="442.3" font-size="15.8" font-weight="bold" fill="#000" textLength="95" lengthAdjust="spacingAndGlyphs">Viability Dye</text>
<text x="996.5" y="444.3" font-size="15.8" font-weight="bold" fill="#000" textLength="50.6" lengthAdjust="spacingAndGlyphs">BDCA2</text>
<text x="163.2" y="194.8" font-size="17.5" font-weight="normal" fill="#000">65.6</text>
<text x="163.2" y="403.3" font-size="17.5" font-weight="normal" fill="#000">92.8</text>
<text x="344.6" y="131.6" font-size="17.5" font-weight="normal" fill="#000">94.3</text>
<text x="344.6" y="339.5" font-size="17.5" font-weight="normal" fill="#000">99.4</text>
<text x="585.6" y="57.9" font-size="17.5" font-weight="normal" fill="#000">98.4</text>
<text x="585.6" y="265" font-size="17.5" font-weight="normal" fill="#000">98.6</text>
<text x="1003.6" y="58" font-size="17.5" font-weight="normal" fill="#000">0.21</text>
<text x="1003.6" y="265" font-size="17.5" font-weight="normal" fill="#000">97.5</text>
</g>
</svg></body></html>
